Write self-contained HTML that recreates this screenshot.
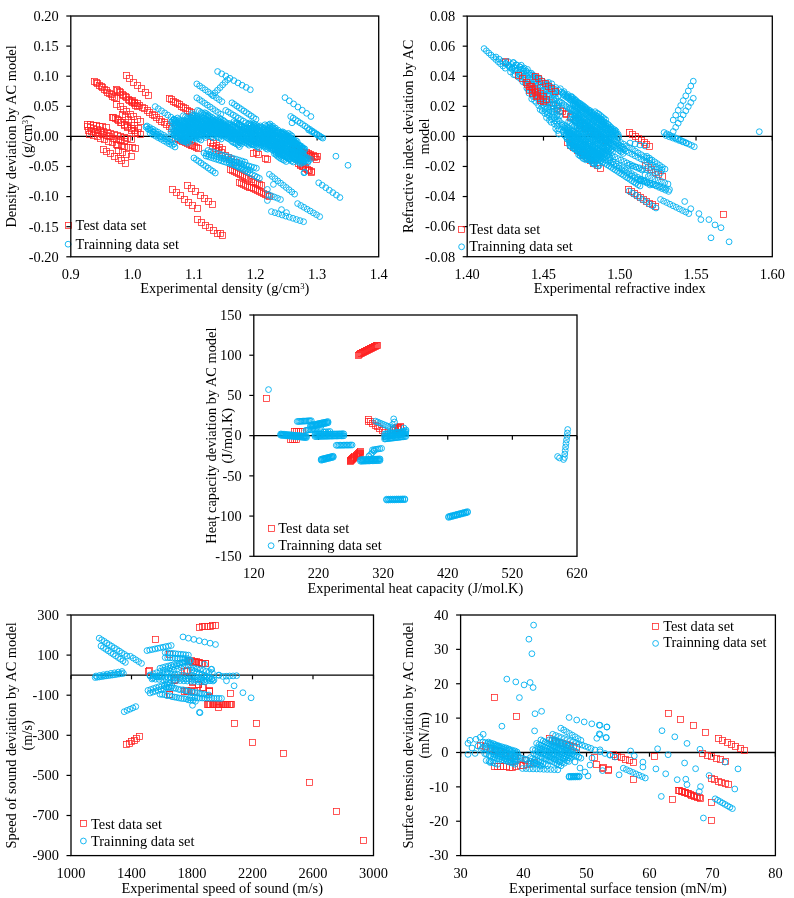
<!DOCTYPE html>
<html><head><meta charset="utf-8"><style>
html,body{margin:0;padding:0;background:#fff;}
svg{display:block;will-change:transform;}
text{font-family:"Liberation Serif", serif;font-size:14.4px;fill:#000;}
</style></head><body>
<svg width="794" height="898" viewBox="0 0 794 898">
<rect width="794" height="898" fill="#fff"/>
<line x1="70.8" y1="136.40" x2="378.7" y2="136.40" stroke="#000" stroke-width="1.3"/>
<line x1="70.80" y1="136.40" x2="70.80" y2="140.60" stroke="#000" stroke-width="1.2"/>
<text x="70.80" y="278.90" text-anchor="middle">0.9</text>
<line x1="132.38" y1="136.40" x2="132.38" y2="140.60" stroke="#000" stroke-width="1.2"/>
<text x="132.38" y="278.90" text-anchor="middle">1.0</text>
<line x1="193.96" y1="136.40" x2="193.96" y2="140.60" stroke="#000" stroke-width="1.2"/>
<text x="193.96" y="278.90" text-anchor="middle">1.1</text>
<line x1="255.54" y1="136.40" x2="255.54" y2="140.60" stroke="#000" stroke-width="1.2"/>
<text x="255.54" y="278.90" text-anchor="middle">1.2</text>
<line x1="317.12" y1="136.40" x2="317.12" y2="140.60" stroke="#000" stroke-width="1.2"/>
<text x="317.12" y="278.90" text-anchor="middle">1.3</text>
<line x1="378.70" y1="136.40" x2="378.70" y2="140.60" stroke="#000" stroke-width="1.2"/>
<text x="378.70" y="278.90" text-anchor="middle">1.4</text>
<line x1="66.30" y1="256.80" x2="70.80" y2="256.80" stroke="#000" stroke-width="1.2"/>
<text x="58.70" y="261.60" text-anchor="end">-0.20</text>
<line x1="66.30" y1="226.70" x2="70.80" y2="226.70" stroke="#000" stroke-width="1.2"/>
<text x="58.70" y="231.50" text-anchor="end">-0.15</text>
<line x1="66.30" y1="196.60" x2="70.80" y2="196.60" stroke="#000" stroke-width="1.2"/>
<text x="58.70" y="201.40" text-anchor="end">-0.10</text>
<line x1="66.30" y1="166.50" x2="70.80" y2="166.50" stroke="#000" stroke-width="1.2"/>
<text x="58.70" y="171.30" text-anchor="end">-0.05</text>
<line x1="66.30" y1="136.40" x2="70.80" y2="136.40" stroke="#000" stroke-width="1.2"/>
<text x="58.70" y="141.20" text-anchor="end">0.00</text>
<line x1="66.30" y1="106.30" x2="70.80" y2="106.30" stroke="#000" stroke-width="1.2"/>
<text x="58.70" y="111.10" text-anchor="end">0.05</text>
<line x1="66.30" y1="76.20" x2="70.80" y2="76.20" stroke="#000" stroke-width="1.2"/>
<text x="58.70" y="81.00" text-anchor="end">0.10</text>
<line x1="66.30" y1="46.10" x2="70.80" y2="46.10" stroke="#000" stroke-width="1.2"/>
<text x="58.70" y="50.90" text-anchor="end">0.15</text>
<line x1="66.30" y1="16.00" x2="70.80" y2="16.00" stroke="#000" stroke-width="1.2"/>
<text x="58.70" y="20.80" text-anchor="end">0.20</text>
<line x1="467.2" y1="136.40" x2="772.3" y2="136.40" stroke="#000" stroke-width="1.3"/>
<line x1="467.20" y1="136.40" x2="467.20" y2="140.60" stroke="#000" stroke-width="1.2"/>
<text x="467.20" y="278.80" text-anchor="middle">1.40</text>
<line x1="543.48" y1="136.40" x2="543.48" y2="140.60" stroke="#000" stroke-width="1.2"/>
<text x="543.48" y="278.80" text-anchor="middle">1.45</text>
<line x1="619.75" y1="136.40" x2="619.75" y2="140.60" stroke="#000" stroke-width="1.2"/>
<text x="619.75" y="278.80" text-anchor="middle">1.50</text>
<line x1="696.02" y1="136.40" x2="696.02" y2="140.60" stroke="#000" stroke-width="1.2"/>
<text x="696.02" y="278.80" text-anchor="middle">1.55</text>
<line x1="772.30" y1="136.40" x2="772.30" y2="140.60" stroke="#000" stroke-width="1.2"/>
<text x="772.30" y="278.80" text-anchor="middle">1.60</text>
<line x1="462.70" y1="256.70" x2="467.20" y2="256.70" stroke="#000" stroke-width="1.2"/>
<text x="455.10" y="261.50" text-anchor="end">-0.08</text>
<line x1="462.70" y1="226.62" x2="467.20" y2="226.62" stroke="#000" stroke-width="1.2"/>
<text x="455.10" y="231.42" text-anchor="end">-0.06</text>
<line x1="462.70" y1="196.55" x2="467.20" y2="196.55" stroke="#000" stroke-width="1.2"/>
<text x="455.10" y="201.35" text-anchor="end">-0.04</text>
<line x1="462.70" y1="166.47" x2="467.20" y2="166.47" stroke="#000" stroke-width="1.2"/>
<text x="455.10" y="171.28" text-anchor="end">-0.02</text>
<line x1="462.70" y1="136.40" x2="467.20" y2="136.40" stroke="#000" stroke-width="1.2"/>
<text x="455.10" y="141.20" text-anchor="end">0.00</text>
<line x1="462.70" y1="106.32" x2="467.20" y2="106.32" stroke="#000" stroke-width="1.2"/>
<text x="455.10" y="111.12" text-anchor="end">0.02</text>
<line x1="462.70" y1="76.25" x2="467.20" y2="76.25" stroke="#000" stroke-width="1.2"/>
<text x="455.10" y="81.05" text-anchor="end">0.04</text>
<line x1="462.70" y1="46.17" x2="467.20" y2="46.17" stroke="#000" stroke-width="1.2"/>
<text x="455.10" y="50.97" text-anchor="end">0.06</text>
<line x1="462.70" y1="16.10" x2="467.20" y2="16.10" stroke="#000" stroke-width="1.2"/>
<text x="455.10" y="20.90" text-anchor="end">0.08</text>
<line x1="253.8" y1="435.65" x2="577.0" y2="435.65" stroke="#000" stroke-width="1.3"/>
<line x1="253.80" y1="435.65" x2="253.80" y2="439.85" stroke="#000" stroke-width="1.2"/>
<text x="253.80" y="578.40" text-anchor="middle">120</text>
<line x1="318.44" y1="435.65" x2="318.44" y2="439.85" stroke="#000" stroke-width="1.2"/>
<text x="318.44" y="578.40" text-anchor="middle">220</text>
<line x1="383.08" y1="435.65" x2="383.08" y2="439.85" stroke="#000" stroke-width="1.2"/>
<text x="383.08" y="578.40" text-anchor="middle">320</text>
<line x1="447.72" y1="435.65" x2="447.72" y2="439.85" stroke="#000" stroke-width="1.2"/>
<text x="447.72" y="578.40" text-anchor="middle">420</text>
<line x1="512.36" y1="435.65" x2="512.36" y2="439.85" stroke="#000" stroke-width="1.2"/>
<text x="512.36" y="578.40" text-anchor="middle">520</text>
<line x1="577.00" y1="435.65" x2="577.00" y2="439.85" stroke="#000" stroke-width="1.2"/>
<text x="577.00" y="578.40" text-anchor="middle">620</text>
<line x1="249.30" y1="556.30" x2="253.80" y2="556.30" stroke="#000" stroke-width="1.2"/>
<text x="241.70" y="561.10" text-anchor="end">-150</text>
<line x1="249.30" y1="516.08" x2="253.80" y2="516.08" stroke="#000" stroke-width="1.2"/>
<text x="241.70" y="520.88" text-anchor="end">-100</text>
<line x1="249.30" y1="475.87" x2="253.80" y2="475.87" stroke="#000" stroke-width="1.2"/>
<text x="241.70" y="480.67" text-anchor="end">-50</text>
<line x1="249.30" y1="435.65" x2="253.80" y2="435.65" stroke="#000" stroke-width="1.2"/>
<text x="241.70" y="440.45" text-anchor="end">0</text>
<line x1="249.30" y1="395.43" x2="253.80" y2="395.43" stroke="#000" stroke-width="1.2"/>
<text x="241.70" y="400.23" text-anchor="end">50</text>
<line x1="249.30" y1="355.22" x2="253.80" y2="355.22" stroke="#000" stroke-width="1.2"/>
<text x="241.70" y="360.02" text-anchor="end">100</text>
<line x1="249.30" y1="315.00" x2="253.80" y2="315.00" stroke="#000" stroke-width="1.2"/>
<text x="241.70" y="319.80" text-anchor="end">150</text>
<line x1="71.0" y1="675.15" x2="373.5" y2="675.15" stroke="#000" stroke-width="1.3"/>
<line x1="71.00" y1="675.15" x2="71.00" y2="679.35" stroke="#000" stroke-width="1.2"/>
<text x="71.00" y="877.70" text-anchor="middle">1000</text>
<line x1="131.50" y1="675.15" x2="131.50" y2="679.35" stroke="#000" stroke-width="1.2"/>
<text x="131.50" y="877.70" text-anchor="middle">1400</text>
<line x1="192.00" y1="675.15" x2="192.00" y2="679.35" stroke="#000" stroke-width="1.2"/>
<text x="192.00" y="877.70" text-anchor="middle">1800</text>
<line x1="252.50" y1="675.15" x2="252.50" y2="679.35" stroke="#000" stroke-width="1.2"/>
<text x="252.50" y="877.70" text-anchor="middle">2200</text>
<line x1="313.00" y1="675.15" x2="313.00" y2="679.35" stroke="#000" stroke-width="1.2"/>
<text x="313.00" y="877.70" text-anchor="middle">2600</text>
<line x1="373.50" y1="675.15" x2="373.50" y2="679.35" stroke="#000" stroke-width="1.2"/>
<text x="373.50" y="877.70" text-anchor="middle">3000</text>
<line x1="66.50" y1="855.60" x2="71.00" y2="855.60" stroke="#000" stroke-width="1.2"/>
<text x="58.90" y="860.40" text-anchor="end">-900</text>
<line x1="66.50" y1="815.50" x2="71.00" y2="815.50" stroke="#000" stroke-width="1.2"/>
<text x="58.90" y="820.30" text-anchor="end">-700</text>
<line x1="66.50" y1="775.40" x2="71.00" y2="775.40" stroke="#000" stroke-width="1.2"/>
<text x="58.90" y="780.20" text-anchor="end">-500</text>
<line x1="66.50" y1="735.30" x2="71.00" y2="735.30" stroke="#000" stroke-width="1.2"/>
<text x="58.90" y="740.10" text-anchor="end">-300</text>
<line x1="66.50" y1="695.20" x2="71.00" y2="695.20" stroke="#000" stroke-width="1.2"/>
<text x="58.90" y="700.00" text-anchor="end">-100</text>
<line x1="66.50" y1="655.10" x2="71.00" y2="655.10" stroke="#000" stroke-width="1.2"/>
<text x="58.90" y="659.90" text-anchor="end">100</text>
<line x1="66.50" y1="615.00" x2="71.00" y2="615.00" stroke="#000" stroke-width="1.2"/>
<text x="58.90" y="619.80" text-anchor="end">300</text>
<line x1="460.6" y1="752.49" x2="775.4" y2="752.49" stroke="#000" stroke-width="1.3"/>
<line x1="460.60" y1="752.49" x2="460.60" y2="756.69" stroke="#000" stroke-width="1.2"/>
<text x="460.60" y="877.70" text-anchor="middle">30</text>
<line x1="523.56" y1="752.49" x2="523.56" y2="756.69" stroke="#000" stroke-width="1.2"/>
<text x="523.56" y="877.70" text-anchor="middle">40</text>
<line x1="586.52" y1="752.49" x2="586.52" y2="756.69" stroke="#000" stroke-width="1.2"/>
<text x="586.52" y="877.70" text-anchor="middle">50</text>
<line x1="649.48" y1="752.49" x2="649.48" y2="756.69" stroke="#000" stroke-width="1.2"/>
<text x="649.48" y="877.70" text-anchor="middle">60</text>
<line x1="712.44" y1="752.49" x2="712.44" y2="756.69" stroke="#000" stroke-width="1.2"/>
<text x="712.44" y="877.70" text-anchor="middle">70</text>
<line x1="775.40" y1="752.49" x2="775.40" y2="756.69" stroke="#000" stroke-width="1.2"/>
<text x="775.40" y="877.70" text-anchor="middle">80</text>
<line x1="456.10" y1="855.60" x2="460.60" y2="855.60" stroke="#000" stroke-width="1.2"/>
<text x="448.50" y="860.40" text-anchor="end">-30</text>
<line x1="456.10" y1="821.23" x2="460.60" y2="821.23" stroke="#000" stroke-width="1.2"/>
<text x="448.50" y="826.03" text-anchor="end">-20</text>
<line x1="456.10" y1="786.86" x2="460.60" y2="786.86" stroke="#000" stroke-width="1.2"/>
<text x="448.50" y="791.66" text-anchor="end">-10</text>
<line x1="456.10" y1="752.49" x2="460.60" y2="752.49" stroke="#000" stroke-width="1.2"/>
<text x="448.50" y="757.29" text-anchor="end">0</text>
<line x1="456.10" y1="718.11" x2="460.60" y2="718.11" stroke="#000" stroke-width="1.2"/>
<text x="448.50" y="722.91" text-anchor="end">10</text>
<line x1="456.10" y1="683.74" x2="460.60" y2="683.74" stroke="#000" stroke-width="1.2"/>
<text x="448.50" y="688.54" text-anchor="end">20</text>
<line x1="456.10" y1="649.37" x2="460.60" y2="649.37" stroke="#000" stroke-width="1.2"/>
<text x="448.50" y="654.17" text-anchor="end">30</text>
<line x1="456.10" y1="615.00" x2="460.60" y2="615.00" stroke="#000" stroke-width="1.2"/>
<text x="448.50" y="619.80" text-anchor="end">40</text>
<g fill="none" stroke="#ff2020" stroke-width="0.75"><rect x="91.5" y="78.5" width="6" height="6"/><rect x="93.5" y="79.5" width="6" height="6"/><rect x="94.5" y="80.5" width="6" height="6"/><rect x="96.5" y="82.5" width="6" height="6"/><rect x="98.5" y="83.5" width="6" height="6"/><rect x="99.5" y="84.5" width="6" height="6"/><rect x="101.5" y="86.5" width="6" height="6"/><rect x="103.5" y="87.5" width="6" height="6"/><rect x="104.5" y="89.5" width="6" height="6"/><rect x="106.5" y="90.5" width="6" height="6"/><rect x="108.5" y="91.5" width="6" height="6"/><rect x="109.5" y="93.5" width="6" height="6"/><rect x="111.5" y="94.5" width="6" height="6"/><rect x="113.5" y="95.5" width="6" height="6"/><rect x="113.5" y="86.5" width="6" height="6"/><rect x="114.5" y="87.5" width="6" height="6"/><rect x="116.5" y="88.5" width="6" height="6"/><rect x="117.5" y="89.5" width="6" height="6"/><rect x="119.5" y="91.5" width="6" height="6"/><rect x="120.5" y="92.5" width="6" height="6"/><rect x="122.5" y="93.5" width="6" height="6"/><rect x="123.5" y="94.5" width="6" height="6"/><rect x="125.5" y="96.5" width="6" height="6"/><rect x="126.5" y="97.5" width="6" height="6"/><rect x="128.5" y="98.5" width="6" height="6"/><rect x="129.5" y="99.5" width="6" height="6"/><rect x="131.5" y="100.5" width="6" height="6"/><rect x="132.5" y="102.5" width="6" height="6"/><rect x="134.5" y="103.5" width="6" height="6"/><rect x="123.5" y="72.5" width="6" height="6"/><rect x="126.5" y="75.5" width="6" height="6"/><rect x="130.5" y="79.5" width="6" height="6"/><rect x="134.5" y="82.5" width="6" height="6"/><rect x="138.5" y="85.5" width="6" height="6"/><rect x="142.5" y="89.5" width="6" height="6"/><rect x="145.5" y="92.5" width="6" height="6"/><rect x="113.5" y="101.5" width="6" height="6"/><rect x="117.5" y="103.5" width="6" height="6"/><rect x="120.5" y="106.5" width="6" height="6"/><rect x="123.5" y="108.5" width="6" height="6"/><rect x="127.5" y="111.5" width="6" height="6"/><rect x="130.5" y="113.5" width="6" height="6"/><rect x="134.5" y="116.5" width="6" height="6"/><rect x="137.5" y="118.5" width="6" height="6"/><rect x="110.5" y="114.5" width="6" height="6"/><rect x="114.5" y="116.5" width="6" height="6"/><rect x="117.5" y="119.5" width="6" height="6"/><rect x="121.5" y="122.5" width="6" height="6"/><rect x="124.5" y="124.5" width="6" height="6"/><rect x="128.5" y="127.5" width="6" height="6"/><rect x="132.5" y="130.5" width="6" height="6"/><rect x="129.5" y="97.5" width="6" height="6"/><rect x="131.5" y="99.5" width="6" height="6"/><rect x="134.5" y="100.5" width="6" height="6"/><rect x="136.5" y="102.5" width="6" height="6"/><rect x="139.5" y="104.5" width="6" height="6"/><rect x="141.5" y="105.5" width="6" height="6"/><rect x="144.5" y="107.5" width="6" height="6"/><rect x="146.5" y="109.5" width="6" height="6"/><rect x="149.5" y="111.5" width="6" height="6"/><rect x="151.5" y="112.5" width="6" height="6"/><rect x="153.5" y="114.5" width="6" height="6"/><rect x="156.5" y="116.5" width="6" height="6"/><rect x="158.5" y="118.5" width="6" height="6"/><rect x="161.5" y="119.5" width="6" height="6"/><rect x="163.5" y="121.5" width="6" height="6"/><rect x="166.5" y="123.5" width="6" height="6"/><rect x="168.5" y="125.5" width="6" height="6"/><rect x="166.5" y="95.5" width="6" height="6"/><rect x="168.5" y="96.5" width="6" height="6"/><rect x="170.5" y="98.5" width="6" height="6"/><rect x="172.5" y="99.5" width="6" height="6"/><rect x="174.5" y="100.5" width="6" height="6"/><rect x="176.5" y="101.5" width="6" height="6"/><rect x="178.5" y="103.5" width="6" height="6"/><rect x="180.5" y="104.5" width="6" height="6"/><rect x="182.5" y="105.5" width="6" height="6"/><rect x="184.5" y="107.5" width="6" height="6"/><rect x="186.5" y="108.5" width="6" height="6"/><rect x="188.5" y="109.5" width="6" height="6"/><rect x="109.5" y="114.5" width="6" height="6"/><rect x="112.5" y="115.5" width="6" height="6"/><rect x="115.5" y="117.5" width="6" height="6"/><rect x="118.5" y="119.5" width="6" height="6"/><rect x="121.5" y="121.5" width="6" height="6"/><rect x="124.5" y="123.5" width="6" height="6"/><rect x="128.5" y="125.5" width="6" height="6"/><rect x="131.5" y="127.5" width="6" height="6"/><rect x="134.5" y="129.5" width="6" height="6"/><rect x="137.5" y="131.5" width="6" height="6"/><rect x="119.5" y="111.5" width="6" height="6"/><rect x="122.5" y="113.5" width="6" height="6"/><rect x="125.5" y="116.5" width="6" height="6"/><rect x="128.5" y="119.5" width="6" height="6"/><rect x="131.5" y="122.5" width="6" height="6"/><rect x="135.5" y="125.5" width="6" height="6"/><rect x="84.5" y="121.5" width="6" height="6"/><rect x="87.5" y="121.5" width="6" height="6"/><rect x="90.5" y="122.5" width="6" height="6"/><rect x="93.5" y="122.5" width="6" height="6"/><rect x="96.5" y="123.5" width="6" height="6"/><rect x="99.5" y="123.5" width="6" height="6"/><rect x="103.5" y="124.5" width="6" height="6"/><rect x="84.5" y="123.5" width="6" height="6"/><rect x="87.5" y="124.5" width="6" height="6"/><rect x="90.5" y="125.5" width="6" height="6"/><rect x="94.5" y="126.5" width="6" height="6"/><rect x="97.5" y="127.5" width="6" height="6"/><rect x="100.5" y="128.5" width="6" height="6"/><rect x="104.5" y="129.5" width="6" height="6"/><rect x="107.5" y="130.5" width="6" height="6"/><rect x="111.5" y="131.5" width="6" height="6"/><rect x="114.5" y="132.5" width="6" height="6"/><rect x="117.5" y="133.5" width="6" height="6"/><rect x="121.5" y="134.5" width="6" height="6"/><rect x="124.5" y="135.5" width="6" height="6"/><rect x="128.5" y="136.5" width="6" height="6"/><rect x="85.5" y="127.5" width="6" height="6"/><rect x="88.5" y="128.5" width="6" height="6"/><rect x="92.5" y="129.5" width="6" height="6"/><rect x="95.5" y="130.5" width="6" height="6"/><rect x="99.5" y="131.5" width="6" height="6"/><rect x="103.5" y="132.5" width="6" height="6"/><rect x="106.5" y="133.5" width="6" height="6"/><rect x="110.5" y="135.5" width="6" height="6"/><rect x="113.5" y="136.5" width="6" height="6"/><rect x="117.5" y="137.5" width="6" height="6"/><rect x="121.5" y="138.5" width="6" height="6"/><rect x="86.5" y="131.5" width="6" height="6"/><rect x="90.5" y="132.5" width="6" height="6"/><rect x="94.5" y="133.5" width="6" height="6"/><rect x="97.5" y="135.5" width="6" height="6"/><rect x="101.5" y="136.5" width="6" height="6"/><rect x="105.5" y="138.5" width="6" height="6"/><rect x="109.5" y="139.5" width="6" height="6"/><rect x="113.5" y="141.5" width="6" height="6"/><rect x="100.5" y="146.5" width="6" height="6"/><rect x="103.5" y="148.5" width="6" height="6"/><rect x="107.5" y="150.5" width="6" height="6"/><rect x="111.5" y="153.5" width="6" height="6"/><rect x="115.5" y="155.5" width="6" height="6"/><rect x="118.5" y="157.5" width="6" height="6"/><rect x="122.5" y="160.5" width="6" height="6"/><rect x="114.5" y="142.5" width="6" height="6"/><rect x="118.5" y="142.5" width="6" height="6"/><rect x="121.5" y="143.5" width="6" height="6"/><rect x="125.5" y="144.5" width="6" height="6"/><rect x="129.5" y="144.5" width="6" height="6"/><rect x="132.5" y="145.5" width="6" height="6"/><rect x="115.5" y="147.5" width="6" height="6"/><rect x="119.5" y="149.5" width="6" height="6"/><rect x="123.5" y="151.5" width="6" height="6"/><rect x="128.5" y="153.5" width="6" height="6"/><rect x="227.5" y="166.5" width="6" height="6"/><rect x="229.5" y="167.5" width="6" height="6"/><rect x="231.5" y="168.5" width="6" height="6"/><rect x="233.5" y="169.5" width="6" height="6"/><rect x="235.5" y="170.5" width="6" height="6"/><rect x="237.5" y="171.5" width="6" height="6"/><rect x="239.5" y="172.5" width="6" height="6"/><rect x="241.5" y="173.5" width="6" height="6"/><rect x="243.5" y="174.5" width="6" height="6"/><rect x="245.5" y="175.5" width="6" height="6"/><rect x="248.5" y="176.5" width="6" height="6"/><rect x="250.5" y="178.5" width="6" height="6"/><rect x="252.5" y="179.5" width="6" height="6"/><rect x="254.5" y="180.5" width="6" height="6"/><rect x="256.5" y="181.5" width="6" height="6"/><rect x="258.5" y="182.5" width="6" height="6"/><rect x="236.5" y="179.5" width="6" height="6"/><rect x="238.5" y="180.5" width="6" height="6"/><rect x="240.5" y="181.5" width="6" height="6"/><rect x="242.5" y="182.5" width="6" height="6"/><rect x="244.5" y="183.5" width="6" height="6"/><rect x="246.5" y="184.5" width="6" height="6"/><rect x="248.5" y="184.5" width="6" height="6"/><rect x="250.5" y="185.5" width="6" height="6"/><rect x="252.5" y="186.5" width="6" height="6"/><rect x="254.5" y="187.5" width="6" height="6"/><rect x="256.5" y="188.5" width="6" height="6"/><rect x="258.5" y="189.5" width="6" height="6"/><rect x="260.5" y="190.5" width="6" height="6"/><rect x="262.5" y="191.5" width="6" height="6"/><rect x="264.5" y="192.5" width="6" height="6"/><rect x="266.5" y="193.5" width="6" height="6"/><rect x="207.5" y="139.5" width="6" height="6"/><rect x="210.5" y="140.5" width="6" height="6"/><rect x="213.5" y="142.5" width="6" height="6"/><rect x="216.5" y="144.5" width="6" height="6"/><rect x="219.5" y="146.5" width="6" height="6"/><rect x="209.5" y="143.5" width="6" height="6"/><rect x="212.5" y="145.5" width="6" height="6"/><rect x="215.5" y="147.5" width="6" height="6"/><rect x="218.5" y="149.5" width="6" height="6"/><rect x="222.5" y="152.5" width="6" height="6"/><rect x="225.5" y="154.5" width="6" height="6"/><rect x="228.5" y="156.5" width="6" height="6"/><rect x="232.5" y="159.5" width="6" height="6"/><rect x="172.5" y="135.5" width="6" height="6"/><rect x="174.5" y="135.5" width="6" height="6"/><rect x="175.5" y="136.5" width="6" height="6"/><rect x="177.5" y="137.5" width="6" height="6"/><rect x="179.5" y="138.5" width="6" height="6"/><rect x="181.5" y="138.5" width="6" height="6"/><rect x="182.5" y="139.5" width="6" height="6"/><rect x="184.5" y="140.5" width="6" height="6"/><rect x="186.5" y="141.5" width="6" height="6"/><rect x="188.5" y="142.5" width="6" height="6"/><rect x="189.5" y="142.5" width="6" height="6"/><rect x="191.5" y="143.5" width="6" height="6"/><rect x="193.5" y="144.5" width="6" height="6"/><rect x="195.5" y="145.5" width="6" height="6"/><rect x="250.5" y="150.5" width="6" height="6"/><rect x="264.5" y="156.5" width="6" height="6"/><rect x="253.5" y="149.5" width="6" height="6"/><rect x="255.5" y="151.5" width="6" height="6"/><rect x="262.5" y="155.5" width="6" height="6"/><rect x="289.5" y="145.5" width="6" height="6"/><rect x="291.5" y="145.5" width="6" height="6"/><rect x="294.5" y="146.5" width="6" height="6"/><rect x="296.5" y="147.5" width="6" height="6"/><rect x="298.5" y="148.5" width="6" height="6"/><rect x="301.5" y="149.5" width="6" height="6"/><rect x="303.5" y="149.5" width="6" height="6"/><rect x="305.5" y="150.5" width="6" height="6"/><rect x="307.5" y="151.5" width="6" height="6"/><rect x="310.5" y="152.5" width="6" height="6"/><rect x="312.5" y="153.5" width="6" height="6"/><rect x="314.5" y="153.5" width="6" height="6"/><rect x="291.5" y="145.5" width="6" height="6"/><rect x="293.5" y="147.5" width="6" height="6"/><rect x="296.5" y="148.5" width="6" height="6"/><rect x="298.5" y="149.5" width="6" height="6"/><rect x="301.5" y="150.5" width="6" height="6"/><rect x="303.5" y="151.5" width="6" height="6"/><rect x="306.5" y="152.5" width="6" height="6"/><rect x="308.5" y="153.5" width="6" height="6"/><rect x="311.5" y="154.5" width="6" height="6"/><rect x="313.5" y="156.5" width="6" height="6"/><rect x="295.5" y="160.5" width="6" height="6"/><rect x="297.5" y="161.5" width="6" height="6"/><rect x="299.5" y="163.5" width="6" height="6"/><rect x="302.5" y="164.5" width="6" height="6"/><rect x="304.5" y="166.5" width="6" height="6"/><rect x="306.5" y="167.5" width="6" height="6"/><rect x="308.5" y="169.5" width="6" height="6"/><rect x="297.5" y="162.5" width="6" height="6"/><rect x="300.5" y="163.5" width="6" height="6"/><rect x="302.5" y="165.5" width="6" height="6"/><rect x="305.5" y="167.5" width="6" height="6"/><rect x="308.5" y="168.5" width="6" height="6"/><rect x="169.5" y="186.5" width="6" height="6"/><rect x="173.5" y="189.5" width="6" height="6"/><rect x="177.5" y="192.5" width="6" height="6"/><rect x="181.5" y="196.5" width="6" height="6"/><rect x="185.5" y="199.5" width="6" height="6"/><rect x="189.5" y="202.5" width="6" height="6"/><rect x="194.5" y="205.5" width="6" height="6"/><rect x="184.5" y="182.5" width="6" height="6"/><rect x="188.5" y="185.5" width="6" height="6"/><rect x="192.5" y="188.5" width="6" height="6"/><rect x="197.5" y="192.5" width="6" height="6"/><rect x="201.5" y="195.5" width="6" height="6"/><rect x="205.5" y="198.5" width="6" height="6"/><rect x="209.5" y="201.5" width="6" height="6"/><rect x="194.5" y="216.5" width="6" height="6"/><rect x="198.5" y="219.5" width="6" height="6"/><rect x="202.5" y="222.5" width="6" height="6"/><rect x="206.5" y="224.5" width="6" height="6"/><rect x="210.5" y="227.5" width="6" height="6"/><rect x="214.5" y="230.5" width="6" height="6"/><rect x="219.5" y="232.5" width="6" height="6"/><rect x="217.5" y="230.5" width="6" height="6"/></g>
<g fill="none" stroke="#00b0f0" stroke-width="0.9"><circle cx="217.6" cy="71.5" r="2.9"/><circle cx="221.7" cy="73.8" r="2.9"/><circle cx="225.8" cy="76.0" r="2.9"/><circle cx="229.9" cy="78.3" r="2.9"/><circle cx="233.9" cy="80.6" r="2.9"/><circle cx="238.0" cy="82.9" r="2.9"/><circle cx="242.1" cy="85.2" r="2.9"/><circle cx="246.2" cy="87.4" r="2.9"/><circle cx="250.3" cy="89.7" r="2.9"/><circle cx="227.6" cy="79.7" r="2.9"/><circle cx="225.1" cy="82.3" r="2.9"/><circle cx="222.6" cy="84.9" r="2.9"/><circle cx="220.1" cy="87.6" r="2.9"/><circle cx="217.5" cy="90.2" r="2.9"/><circle cx="215.0" cy="92.8" r="2.9"/><circle cx="212.5" cy="95.4" r="2.9"/><circle cx="196.8" cy="83.9" r="2.9"/><circle cx="199.6" cy="85.9" r="2.9"/><circle cx="202.4" cy="87.8" r="2.9"/><circle cx="205.2" cy="89.8" r="2.9"/><circle cx="208.0" cy="91.8" r="2.9"/><circle cx="210.7" cy="93.7" r="2.9"/><circle cx="213.5" cy="95.7" r="2.9"/><circle cx="216.3" cy="97.7" r="2.9"/><circle cx="219.1" cy="99.6" r="2.9"/><circle cx="221.9" cy="101.6" r="2.9"/><circle cx="196.8" cy="97.8" r="2.9"/><circle cx="199.5" cy="99.6" r="2.9"/><circle cx="202.1" cy="101.4" r="2.9"/><circle cx="204.8" cy="103.3" r="2.9"/><circle cx="207.4" cy="105.1" r="2.9"/><circle cx="210.1" cy="106.9" r="2.9"/><circle cx="212.7" cy="108.7" r="2.9"/><circle cx="215.4" cy="110.6" r="2.9"/><circle cx="218.0" cy="112.4" r="2.9"/><circle cx="220.7" cy="114.2" r="2.9"/><circle cx="232.0" cy="102.8" r="2.9"/><circle cx="234.4" cy="104.4" r="2.9"/><circle cx="236.8" cy="106.1" r="2.9"/><circle cx="239.2" cy="107.7" r="2.9"/><circle cx="241.6" cy="109.4" r="2.9"/><circle cx="244.0" cy="111.0" r="2.9"/><circle cx="246.4" cy="112.6" r="2.9"/><circle cx="248.8" cy="114.3" r="2.9"/><circle cx="251.2" cy="115.9" r="2.9"/><circle cx="253.6" cy="117.6" r="2.9"/><circle cx="256.0" cy="119.2" r="2.9"/><circle cx="225.7" cy="110.4" r="2.9"/><circle cx="228.2" cy="111.9" r="2.9"/><circle cx="230.7" cy="113.5" r="2.9"/><circle cx="233.3" cy="115.0" r="2.9"/><circle cx="235.8" cy="116.5" r="2.9"/><circle cx="238.3" cy="118.1" r="2.9"/><circle cx="240.8" cy="119.6" r="2.9"/><circle cx="243.4" cy="121.1" r="2.9"/><circle cx="245.9" cy="122.7" r="2.9"/><circle cx="248.4" cy="124.2" r="2.9"/><circle cx="285.0" cy="97.6" r="2.9"/><circle cx="289.3" cy="100.8" r="2.9"/><circle cx="293.6" cy="103.9" r="2.9"/><circle cx="297.9" cy="107.0" r="2.9"/><circle cx="302.3" cy="110.2" r="2.9"/><circle cx="306.6" cy="113.3" r="2.9"/><circle cx="310.9" cy="116.5" r="2.9"/><circle cx="290.7" cy="116.5" r="2.9"/><circle cx="293.1" cy="118.1" r="2.9"/><circle cx="295.5" cy="119.7" r="2.9"/><circle cx="297.8" cy="121.3" r="2.9"/><circle cx="300.2" cy="122.9" r="2.9"/><circle cx="302.6" cy="124.5" r="2.9"/><circle cx="305.0" cy="126.1" r="2.9"/><circle cx="307.3" cy="127.7" r="2.9"/><circle cx="309.7" cy="129.3" r="2.9"/><circle cx="312.1" cy="130.9" r="2.9"/><circle cx="314.5" cy="132.5" r="2.9"/><circle cx="316.8" cy="134.1" r="2.9"/><circle cx="319.2" cy="135.7" r="2.9"/><circle cx="321.6" cy="137.3" r="2.9"/><circle cx="292.0" cy="122.8" r="2.9"/><circle cx="155.2" cy="106.6" r="2.9"/><circle cx="158.3" cy="108.7" r="2.9"/><circle cx="161.5" cy="110.8" r="2.9"/><circle cx="164.6" cy="112.9" r="2.9"/><circle cx="167.7" cy="115.0" r="2.9"/><circle cx="170.9" cy="117.1" r="2.9"/><circle cx="174.0" cy="119.2" r="2.9"/><circle cx="193.9" cy="158.0" r="2.9"/><circle cx="196.3" cy="159.7" r="2.9"/><circle cx="198.7" cy="161.3" r="2.9"/><circle cx="201.0" cy="163.0" r="2.9"/><circle cx="203.4" cy="164.7" r="2.9"/><circle cx="205.8" cy="166.3" r="2.9"/><circle cx="208.2" cy="168.0" r="2.9"/><circle cx="210.5" cy="169.7" r="2.9"/><circle cx="212.9" cy="171.3" r="2.9"/><circle cx="215.3" cy="173.0" r="2.9"/><circle cx="269.4" cy="174.3" r="2.9"/><circle cx="272.2" cy="176.5" r="2.9"/><circle cx="275.0" cy="178.7" r="2.9"/><circle cx="277.8" cy="180.9" r="2.9"/><circle cx="280.6" cy="183.1" r="2.9"/><circle cx="283.4" cy="185.3" r="2.9"/><circle cx="286.2" cy="187.5" r="2.9"/><circle cx="289.0" cy="189.7" r="2.9"/><circle cx="291.8" cy="191.9" r="2.9"/><circle cx="294.6" cy="194.1" r="2.9"/><circle cx="273.4" cy="184.4" r="2.9"/><circle cx="267.4" cy="189.4" r="2.9"/><circle cx="267.4" cy="200.5" r="2.9"/><circle cx="304.0" cy="172.8" r="2.9"/><circle cx="304.6" cy="172.3" r="2.9"/><circle cx="268.4" cy="194.5" r="2.9"/><circle cx="271.4" cy="195.8" r="2.9"/><circle cx="274.4" cy="197.0" r="2.9"/><circle cx="277.5" cy="198.2" r="2.9"/><circle cx="280.5" cy="199.5" r="2.9"/><circle cx="318.7" cy="182.8" r="2.9"/><circle cx="322.2" cy="185.2" r="2.9"/><circle cx="325.8" cy="187.7" r="2.9"/><circle cx="329.3" cy="190.2" r="2.9"/><circle cx="332.8" cy="192.6" r="2.9"/><circle cx="336.4" cy="195.1" r="2.9"/><circle cx="339.9" cy="197.5" r="2.9"/><circle cx="335.9" cy="156.2" r="2.9"/><circle cx="348.0" cy="165.3" r="2.9"/><circle cx="297.6" cy="203.6" r="2.9"/><circle cx="300.8" cy="205.5" r="2.9"/><circle cx="303.9" cy="207.3" r="2.9"/><circle cx="307.1" cy="209.2" r="2.9"/><circle cx="310.2" cy="211.0" r="2.9"/><circle cx="313.4" cy="212.9" r="2.9"/><circle cx="316.5" cy="214.7" r="2.9"/><circle cx="319.7" cy="216.6" r="2.9"/><circle cx="271.4" cy="211.6" r="2.9"/><circle cx="275.0" cy="212.7" r="2.9"/><circle cx="278.6" cy="213.8" r="2.9"/><circle cx="282.1" cy="215.0" r="2.9"/><circle cx="285.7" cy="216.1" r="2.9"/><circle cx="289.3" cy="217.2" r="2.9"/><circle cx="292.9" cy="218.3" r="2.9"/><circle cx="296.4" cy="219.5" r="2.9"/><circle cx="300.0" cy="220.6" r="2.9"/><circle cx="303.6" cy="221.7" r="2.9"/><circle cx="281.5" cy="209.6" r="2.9"/><circle cx="286.5" cy="212.6" r="2.9"/><circle cx="308.7" cy="130.0" r="2.9"/><circle cx="311.5" cy="131.6" r="2.9"/><circle cx="314.3" cy="133.2" r="2.9"/><circle cx="317.2" cy="134.9" r="2.9"/><circle cx="320.0" cy="136.5" r="2.9"/><circle cx="322.8" cy="138.1" r="2.9"/><circle cx="147.0" cy="126.0" r="2.9"/><circle cx="149.8" cy="127.6" r="2.9"/><circle cx="152.6" cy="129.1" r="2.9"/><circle cx="155.3" cy="130.7" r="2.9"/><circle cx="158.1" cy="132.2" r="2.9"/><circle cx="160.9" cy="133.8" r="2.9"/><circle cx="163.7" cy="135.3" r="2.9"/><circle cx="166.4" cy="136.9" r="2.9"/><circle cx="169.2" cy="138.4" r="2.9"/><circle cx="172.0" cy="140.0" r="2.9"/><circle cx="148.0" cy="129.0" r="2.9"/><circle cx="150.9" cy="130.7" r="2.9"/><circle cx="153.8" cy="132.3" r="2.9"/><circle cx="156.7" cy="134.0" r="2.9"/><circle cx="159.6" cy="135.7" r="2.9"/><circle cx="162.4" cy="137.3" r="2.9"/><circle cx="165.3" cy="139.0" r="2.9"/><circle cx="168.2" cy="140.7" r="2.9"/><circle cx="171.1" cy="142.3" r="2.9"/><circle cx="174.0" cy="144.0" r="2.9"/><circle cx="150.0" cy="133.0" r="2.9"/><circle cx="152.8" cy="134.6" r="2.9"/><circle cx="155.6" cy="136.1" r="2.9"/><circle cx="158.3" cy="137.7" r="2.9"/><circle cx="161.1" cy="139.2" r="2.9"/><circle cx="163.9" cy="140.8" r="2.9"/><circle cx="166.7" cy="142.3" r="2.9"/><circle cx="169.4" cy="143.9" r="2.9"/><circle cx="172.2" cy="145.4" r="2.9"/><circle cx="175.0" cy="147.0" r="2.9"/><circle cx="146.0" cy="127.0" r="2.9"/><circle cx="149.5" cy="129.5" r="2.9"/><circle cx="153.0" cy="132.0" r="2.9"/><circle cx="156.5" cy="134.5" r="2.9"/><circle cx="160.0" cy="137.0" r="2.9"/><circle cx="288.3" cy="133.4" r="2.9"/><circle cx="290.1" cy="134.6" r="2.9"/><circle cx="291.8" cy="135.9" r="2.9"/><circle cx="282.5" cy="131.8" r="2.9"/><circle cx="284.0" cy="132.7" r="2.9"/><circle cx="285.7" cy="134.0" r="2.9"/><circle cx="287.1" cy="134.9" r="2.9"/><circle cx="289.0" cy="136.5" r="2.9"/><circle cx="290.2" cy="137.5" r="2.9"/><circle cx="292.1" cy="138.3" r="2.9"/><circle cx="293.7" cy="139.8" r="2.9"/><circle cx="295.7" cy="140.5" r="2.9"/><circle cx="297.2" cy="141.6" r="2.9"/><circle cx="282.0" cy="132.9" r="2.9"/><circle cx="283.1" cy="134.2" r="2.9"/><circle cx="284.7" cy="135.1" r="2.9"/><circle cx="286.6" cy="136.5" r="2.9"/><circle cx="288.1" cy="137.3" r="2.9"/><circle cx="290.1" cy="138.5" r="2.9"/><circle cx="291.9" cy="140.0" r="2.9"/><circle cx="293.2" cy="140.9" r="2.9"/><circle cx="294.9" cy="142.1" r="2.9"/><circle cx="296.6" cy="143.2" r="2.9"/><circle cx="298.3" cy="144.5" r="2.9"/><circle cx="299.9" cy="145.4" r="2.9"/><circle cx="301.6" cy="146.4" r="2.9"/><circle cx="303.0" cy="147.9" r="2.9"/><circle cx="304.8" cy="148.8" r="2.9"/><circle cx="268.6" cy="125.0" r="2.9"/><circle cx="270.3" cy="126.4" r="2.9"/><circle cx="272.0" cy="127.4" r="2.9"/><circle cx="273.6" cy="128.8" r="2.9"/><circle cx="274.9" cy="129.5" r="2.9"/><circle cx="276.9" cy="131.2" r="2.9"/><circle cx="278.3" cy="132.0" r="2.9"/><circle cx="280.2" cy="133.0" r="2.9"/><circle cx="281.7" cy="134.2" r="2.9"/><circle cx="283.4" cy="135.5" r="2.9"/><circle cx="285.0" cy="136.5" r="2.9"/><circle cx="286.9" cy="137.4" r="2.9"/><circle cx="288.5" cy="138.9" r="2.9"/><circle cx="290.0" cy="139.7" r="2.9"/><circle cx="291.9" cy="140.9" r="2.9"/><circle cx="293.2" cy="142.1" r="2.9"/><circle cx="295.1" cy="143.0" r="2.9"/><circle cx="296.6" cy="144.3" r="2.9"/><circle cx="298.5" cy="145.5" r="2.9"/><circle cx="300.2" cy="146.5" r="2.9"/><circle cx="301.5" cy="147.9" r="2.9"/><circle cx="303.5" cy="148.9" r="2.9"/><circle cx="265.0" cy="124.8" r="2.9"/><circle cx="266.3" cy="126.3" r="2.9"/><circle cx="268.2" cy="127.4" r="2.9"/><circle cx="269.6" cy="128.1" r="2.9"/><circle cx="271.3" cy="129.6" r="2.9"/><circle cx="272.9" cy="130.5" r="2.9"/><circle cx="274.6" cy="131.7" r="2.9"/><circle cx="276.3" cy="133.1" r="2.9"/><circle cx="277.8" cy="133.7" r="2.9"/><circle cx="279.9" cy="135.3" r="2.9"/><circle cx="281.6" cy="136.2" r="2.9"/><circle cx="283.2" cy="137.6" r="2.9"/><circle cx="284.4" cy="138.6" r="2.9"/><circle cx="286.5" cy="139.7" r="2.9"/><circle cx="287.9" cy="140.6" r="2.9"/><circle cx="289.5" cy="141.7" r="2.9"/><circle cx="291.0" cy="143.0" r="2.9"/><circle cx="292.8" cy="144.3" r="2.9"/><circle cx="294.3" cy="145.4" r="2.9"/><circle cx="296.3" cy="146.6" r="2.9"/><circle cx="298.1" cy="147.7" r="2.9"/><circle cx="299.5" cy="148.3" r="2.9"/><circle cx="268.1" cy="130.2" r="2.9"/><circle cx="269.9" cy="130.9" r="2.9"/><circle cx="271.3" cy="132.4" r="2.9"/><circle cx="273.1" cy="133.4" r="2.9"/><circle cx="274.7" cy="134.2" r="2.9"/><circle cx="276.5" cy="135.7" r="2.9"/><circle cx="277.9" cy="136.8" r="2.9"/><circle cx="280.0" cy="137.9" r="2.9"/><circle cx="281.6" cy="138.6" r="2.9"/><circle cx="283.1" cy="140.2" r="2.9"/><circle cx="284.4" cy="141.0" r="2.9"/><circle cx="286.2" cy="142.3" r="2.9"/><circle cx="288.0" cy="143.4" r="2.9"/><circle cx="289.8" cy="144.2" r="2.9"/><circle cx="291.0" cy="145.4" r="2.9"/><circle cx="292.7" cy="146.5" r="2.9"/><circle cx="294.9" cy="148.1" r="2.9"/><circle cx="296.0" cy="149.0" r="2.9"/><circle cx="297.8" cy="150.0" r="2.9"/><circle cx="299.5" cy="151.3" r="2.9"/><circle cx="301.3" cy="152.3" r="2.9"/><circle cx="302.7" cy="153.4" r="2.9"/><circle cx="260.3" cy="125.9" r="2.9"/><circle cx="262.2" cy="127.2" r="2.9"/><circle cx="263.8" cy="128.4" r="2.9"/><circle cx="265.6" cy="129.3" r="2.9"/><circle cx="267.1" cy="130.5" r="2.9"/><circle cx="268.9" cy="131.5" r="2.9"/><circle cx="270.6" cy="132.7" r="2.9"/><circle cx="272.0" cy="133.8" r="2.9"/><circle cx="273.9" cy="134.7" r="2.9"/><circle cx="275.4" cy="136.0" r="2.9"/><circle cx="277.3" cy="137.5" r="2.9"/><circle cx="278.6" cy="138.6" r="2.9"/><circle cx="280.5" cy="139.3" r="2.9"/><circle cx="282.0" cy="140.3" r="2.9"/><circle cx="283.9" cy="141.8" r="2.9"/><circle cx="285.6" cy="143.0" r="2.9"/><circle cx="287.1" cy="144.1" r="2.9"/><circle cx="288.7" cy="144.8" r="2.9"/><circle cx="290.3" cy="145.9" r="2.9"/><circle cx="291.7" cy="147.5" r="2.9"/><circle cx="293.3" cy="148.2" r="2.9"/><circle cx="295.0" cy="149.8" r="2.9"/><circle cx="296.7" cy="150.4" r="2.9"/><circle cx="298.8" cy="151.6" r="2.9"/><circle cx="300.4" cy="153.0" r="2.9"/><circle cx="302.1" cy="154.3" r="2.9"/><circle cx="303.6" cy="155.4" r="2.9"/><circle cx="304.9" cy="156.5" r="2.9"/><circle cx="306.8" cy="157.6" r="2.9"/><circle cx="308.3" cy="158.7" r="2.9"/><circle cx="310.4" cy="159.4" r="2.9"/><circle cx="253.8" cy="123.8" r="2.9"/><circle cx="255.7" cy="124.8" r="2.9"/><circle cx="257.2" cy="125.9" r="2.9"/><circle cx="258.8" cy="127.0" r="2.9"/><circle cx="260.3" cy="128.2" r="2.9"/><circle cx="262.5" cy="129.3" r="2.9"/><circle cx="264.0" cy="130.3" r="2.9"/><circle cx="265.6" cy="131.7" r="2.9"/><circle cx="267.3" cy="132.7" r="2.9"/><circle cx="268.8" cy="133.9" r="2.9"/><circle cx="270.7" cy="134.7" r="2.9"/><circle cx="271.9" cy="136.2" r="2.9"/><circle cx="274.0" cy="137.2" r="2.9"/><circle cx="275.4" cy="138.5" r="2.9"/><circle cx="276.9" cy="139.3" r="2.9"/><circle cx="278.6" cy="140.6" r="2.9"/><circle cx="280.3" cy="141.5" r="2.9"/><circle cx="282.2" cy="143.1" r="2.9"/><circle cx="283.6" cy="144.1" r="2.9"/><circle cx="285.3" cy="145.3" r="2.9"/><circle cx="287.1" cy="146.1" r="2.9"/><circle cx="288.5" cy="147.0" r="2.9"/><circle cx="290.3" cy="148.4" r="2.9"/><circle cx="291.8" cy="149.5" r="2.9"/><circle cx="293.5" cy="150.9" r="2.9"/><circle cx="295.1" cy="152.1" r="2.9"/><circle cx="296.9" cy="153.0" r="2.9"/><circle cx="298.6" cy="154.3" r="2.9"/><circle cx="300.4" cy="155.2" r="2.9"/><circle cx="301.9" cy="156.5" r="2.9"/><circle cx="303.8" cy="157.4" r="2.9"/><circle cx="305.3" cy="158.8" r="2.9"/><circle cx="306.8" cy="159.5" r="2.9"/><circle cx="308.3" cy="160.9" r="2.9"/><circle cx="249.5" cy="123.0" r="2.9"/><circle cx="251.4" cy="124.5" r="2.9"/><circle cx="253.2" cy="125.3" r="2.9"/><circle cx="254.8" cy="126.5" r="2.9"/><circle cx="256.2" cy="127.8" r="2.9"/><circle cx="257.6" cy="128.6" r="2.9"/><circle cx="259.7" cy="129.8" r="2.9"/><circle cx="261.1" cy="131.1" r="2.9"/><circle cx="263.0" cy="131.9" r="2.9"/><circle cx="264.4" cy="133.3" r="2.9"/><circle cx="266.1" cy="134.3" r="2.9"/><circle cx="267.9" cy="135.8" r="2.9"/><circle cx="269.4" cy="136.7" r="2.9"/><circle cx="270.9" cy="137.7" r="2.9"/><circle cx="272.9" cy="138.7" r="2.9"/><circle cx="274.7" cy="140.3" r="2.9"/><circle cx="275.8" cy="141.5" r="2.9"/><circle cx="277.7" cy="142.5" r="2.9"/><circle cx="279.5" cy="143.3" r="2.9"/><circle cx="281.1" cy="144.7" r="2.9"/><circle cx="282.9" cy="145.5" r="2.9"/><circle cx="284.5" cy="147.1" r="2.9"/><circle cx="286.1" cy="148.0" r="2.9"/><circle cx="287.4" cy="149.1" r="2.9"/><circle cx="289.2" cy="150.3" r="2.9"/><circle cx="291.1" cy="151.4" r="2.9"/><circle cx="292.4" cy="152.5" r="2.9"/><circle cx="294.3" cy="153.4" r="2.9"/><circle cx="296.2" cy="154.8" r="2.9"/><circle cx="297.4" cy="156.1" r="2.9"/><circle cx="299.0" cy="156.8" r="2.9"/><circle cx="301.0" cy="158.1" r="2.9"/><circle cx="302.6" cy="159.3" r="2.9"/><circle cx="304.2" cy="160.2" r="2.9"/><circle cx="305.7" cy="161.2" r="2.9"/><circle cx="307.6" cy="162.7" r="2.9"/><circle cx="249.5" cy="124.5" r="2.9"/><circle cx="250.9" cy="125.8" r="2.9"/><circle cx="252.7" cy="127.0" r="2.9"/><circle cx="254.1" cy="128.1" r="2.9"/><circle cx="255.9" cy="129.5" r="2.9"/><circle cx="257.4" cy="130.6" r="2.9"/><circle cx="258.9" cy="131.4" r="2.9"/><circle cx="260.6" cy="132.4" r="2.9"/><circle cx="262.7" cy="133.9" r="2.9"/><circle cx="263.9" cy="134.7" r="2.9"/><circle cx="265.7" cy="136.2" r="2.9"/><circle cx="267.6" cy="137.3" r="2.9"/><circle cx="269.2" cy="138.1" r="2.9"/><circle cx="270.7" cy="139.2" r="2.9"/><circle cx="272.4" cy="140.6" r="2.9"/><circle cx="273.9" cy="141.5" r="2.9"/><circle cx="275.9" cy="142.5" r="2.9"/><circle cx="277.6" cy="144.1" r="2.9"/><circle cx="279.3" cy="145.0" r="2.9"/><circle cx="280.7" cy="146.2" r="2.9"/><circle cx="282.4" cy="147.6" r="2.9"/><circle cx="284.1" cy="148.3" r="2.9"/><circle cx="285.9" cy="149.5" r="2.9"/><circle cx="287.4" cy="150.8" r="2.9"/><circle cx="288.6" cy="151.9" r="2.9"/><circle cx="290.7" cy="152.9" r="2.9"/><circle cx="292.3" cy="154.0" r="2.9"/><circle cx="293.7" cy="155.2" r="2.9"/><circle cx="295.3" cy="156.3" r="2.9"/><circle cx="297.3" cy="157.4" r="2.9"/><circle cx="298.9" cy="158.8" r="2.9"/><circle cx="300.8" cy="159.4" r="2.9"/><circle cx="302.4" cy="160.9" r="2.9"/><circle cx="303.6" cy="161.8" r="2.9"/><circle cx="260.0" cy="133.7" r="2.9"/><circle cx="261.2" cy="134.9" r="2.9"/><circle cx="263.1" cy="136.1" r="2.9"/><circle cx="264.8" cy="137.1" r="2.9"/><circle cx="266.3" cy="138.2" r="2.9"/><circle cx="268.3" cy="139.4" r="2.9"/><circle cx="269.6" cy="140.5" r="2.9"/><circle cx="271.3" cy="141.2" r="2.9"/><circle cx="272.7" cy="142.3" r="2.9"/><circle cx="274.4" cy="143.5" r="2.9"/><circle cx="276.3" cy="144.9" r="2.9"/><circle cx="278.0" cy="145.9" r="2.9"/><circle cx="279.7" cy="146.9" r="2.9"/><circle cx="281.2" cy="148.3" r="2.9"/><circle cx="282.8" cy="149.1" r="2.9"/><circle cx="284.8" cy="150.6" r="2.9"/><circle cx="286.1" cy="151.5" r="2.9"/><circle cx="287.9" cy="152.7" r="2.9"/><circle cx="289.3" cy="153.5" r="2.9"/><circle cx="291.0" cy="155.1" r="2.9"/><circle cx="292.6" cy="156.0" r="2.9"/><circle cx="294.3" cy="157.0" r="2.9"/><circle cx="295.9" cy="158.2" r="2.9"/><circle cx="297.6" cy="159.1" r="2.9"/><circle cx="299.2" cy="160.3" r="2.9"/><circle cx="301.1" cy="161.4" r="2.9"/><circle cx="302.5" cy="162.8" r="2.9"/><circle cx="247.3" cy="127.7" r="2.9"/><circle cx="249.0" cy="128.3" r="2.9"/><circle cx="250.8" cy="129.5" r="2.9"/><circle cx="252.6" cy="130.7" r="2.9"/><circle cx="253.9" cy="131.7" r="2.9"/><circle cx="255.9" cy="133.0" r="2.9"/><circle cx="257.6" cy="134.2" r="2.9"/><circle cx="259.4" cy="135.2" r="2.9"/><circle cx="260.6" cy="136.3" r="2.9"/><circle cx="262.6" cy="137.7" r="2.9"/><circle cx="264.0" cy="138.5" r="2.9"/><circle cx="265.8" cy="140.1" r="2.9"/><circle cx="267.4" cy="140.7" r="2.9"/><circle cx="268.8" cy="141.8" r="2.9"/><circle cx="270.5" cy="142.9" r="2.9"/><circle cx="272.1" cy="144.4" r="2.9"/><circle cx="274.2" cy="145.3" r="2.9"/><circle cx="275.9" cy="146.6" r="2.9"/><circle cx="277.5" cy="148.0" r="2.9"/><circle cx="279.2" cy="148.6" r="2.9"/><circle cx="280.5" cy="150.0" r="2.9"/><circle cx="282.5" cy="150.8" r="2.9"/><circle cx="283.8" cy="152.4" r="2.9"/><circle cx="285.3" cy="153.3" r="2.9"/><circle cx="287.1" cy="154.6" r="2.9"/><circle cx="289.1" cy="155.4" r="2.9"/><circle cx="290.7" cy="156.8" r="2.9"/><circle cx="292.4" cy="157.9" r="2.9"/><circle cx="294.1" cy="158.9" r="2.9"/><circle cx="295.5" cy="159.9" r="2.9"/><circle cx="297.3" cy="161.2" r="2.9"/><circle cx="298.7" cy="162.1" r="2.9"/><circle cx="300.6" cy="163.5" r="2.9"/><circle cx="236.8" cy="122.7" r="2.9"/><circle cx="238.9" cy="124.0" r="2.9"/><circle cx="240.2" cy="124.8" r="2.9"/><circle cx="242.3" cy="126.2" r="2.9"/><circle cx="243.9" cy="127.4" r="2.9"/><circle cx="245.3" cy="128.6" r="2.9"/><circle cx="247.2" cy="129.4" r="2.9"/><circle cx="248.6" cy="130.3" r="2.9"/><circle cx="250.3" cy="132.0" r="2.9"/><circle cx="251.7" cy="132.9" r="2.9"/><circle cx="253.4" cy="133.7" r="2.9"/><circle cx="255.4" cy="134.9" r="2.9"/><circle cx="256.7" cy="136.0" r="2.9"/><circle cx="258.7" cy="137.4" r="2.9"/><circle cx="260.0" cy="138.3" r="2.9"/><circle cx="262.2" cy="139.4" r="2.9"/><circle cx="263.6" cy="140.7" r="2.9"/><circle cx="265.4" cy="141.9" r="2.9"/><circle cx="267.0" cy="143.0" r="2.9"/><circle cx="268.3" cy="143.9" r="2.9"/><circle cx="269.9" cy="145.4" r="2.9"/><circle cx="271.6" cy="146.1" r="2.9"/><circle cx="273.8" cy="147.3" r="2.9"/><circle cx="275.4" cy="148.3" r="2.9"/><circle cx="276.8" cy="149.5" r="2.9"/><circle cx="278.6" cy="150.9" r="2.9"/><circle cx="280.2" cy="152.1" r="2.9"/><circle cx="282.0" cy="153.0" r="2.9"/><circle cx="283.5" cy="154.2" r="2.9"/><circle cx="284.8" cy="155.5" r="2.9"/><circle cx="286.8" cy="156.7" r="2.9"/><circle cx="288.2" cy="157.6" r="2.9"/><circle cx="290.0" cy="158.8" r="2.9"/><circle cx="233.9" cy="121.6" r="2.9"/><circle cx="235.5" cy="122.9" r="2.9"/><circle cx="236.9" cy="123.8" r="2.9"/><circle cx="239.0" cy="124.9" r="2.9"/><circle cx="240.3" cy="125.9" r="2.9"/><circle cx="241.8" cy="127.1" r="2.9"/><circle cx="243.9" cy="128.6" r="2.9"/><circle cx="245.5" cy="129.8" r="2.9"/><circle cx="247.0" cy="130.9" r="2.9"/><circle cx="248.6" cy="131.7" r="2.9"/><circle cx="250.5" cy="133.2" r="2.9"/><circle cx="252.2" cy="134.0" r="2.9"/><circle cx="253.7" cy="135.1" r="2.9"/><circle cx="255.5" cy="136.5" r="2.9"/><circle cx="256.7" cy="137.7" r="2.9"/><circle cx="258.3" cy="138.3" r="2.9"/><circle cx="260.3" cy="139.5" r="2.9"/><circle cx="261.8" cy="140.9" r="2.9"/><circle cx="263.2" cy="142.1" r="2.9"/><circle cx="265.0" cy="143.0" r="2.9"/><circle cx="266.7" cy="144.3" r="2.9"/><circle cx="268.6" cy="145.2" r="2.9"/><circle cx="269.9" cy="146.3" r="2.9"/><circle cx="271.7" cy="147.3" r="2.9"/><circle cx="273.2" cy="148.8" r="2.9"/><circle cx="275.2" cy="150.1" r="2.9"/><circle cx="277.0" cy="151.1" r="2.9"/><circle cx="278.3" cy="151.8" r="2.9"/><circle cx="279.9" cy="153.1" r="2.9"/><circle cx="281.7" cy="154.3" r="2.9"/><circle cx="283.3" cy="155.6" r="2.9"/><circle cx="284.9" cy="156.5" r="2.9"/><circle cx="286.9" cy="157.8" r="2.9"/><circle cx="288.2" cy="158.6" r="2.9"/><circle cx="290.1" cy="159.6" r="2.9"/><circle cx="291.4" cy="161.0" r="2.9"/><circle cx="293.3" cy="162.0" r="2.9"/><circle cx="241.9" cy="129.4" r="2.9"/><circle cx="243.1" cy="130.0" r="2.9"/><circle cx="244.8" cy="131.3" r="2.9"/><circle cx="246.6" cy="132.2" r="2.9"/><circle cx="248.4" cy="133.4" r="2.9"/><circle cx="249.9" cy="134.6" r="2.9"/><circle cx="251.9" cy="135.8" r="2.9"/><circle cx="253.2" cy="136.7" r="2.9"/><circle cx="254.9" cy="138.2" r="2.9"/><circle cx="256.7" cy="139.5" r="2.9"/><circle cx="258.5" cy="140.2" r="2.9"/><circle cx="259.7" cy="141.6" r="2.9"/><circle cx="261.8" cy="142.6" r="2.9"/><circle cx="263.5" cy="143.8" r="2.9"/><circle cx="264.8" cy="144.6" r="2.9"/><circle cx="266.3" cy="146.1" r="2.9"/><circle cx="268.5" cy="147.3" r="2.9"/><circle cx="269.8" cy="148.3" r="2.9"/><circle cx="271.8" cy="149.5" r="2.9"/><circle cx="273.2" cy="150.4" r="2.9"/><circle cx="274.8" cy="151.4" r="2.9"/><circle cx="276.3" cy="152.8" r="2.9"/><circle cx="278.4" cy="153.9" r="2.9"/><circle cx="279.7" cy="154.9" r="2.9"/><circle cx="281.4" cy="156.3" r="2.9"/><circle cx="229.7" cy="123.6" r="2.9"/><circle cx="231.6" cy="124.8" r="2.9"/><circle cx="233.1" cy="125.4" r="2.9"/><circle cx="234.8" cy="126.8" r="2.9"/><circle cx="236.4" cy="127.8" r="2.9"/><circle cx="238.2" cy="129.3" r="2.9"/><circle cx="239.5" cy="130.3" r="2.9"/><circle cx="241.3" cy="131.3" r="2.9"/><circle cx="243.2" cy="132.7" r="2.9"/><circle cx="244.7" cy="133.4" r="2.9"/><circle cx="246.6" cy="134.5" r="2.9"/><circle cx="247.9" cy="136.0" r="2.9"/><circle cx="249.5" cy="136.8" r="2.9"/><circle cx="251.5" cy="138.3" r="2.9"/><circle cx="252.8" cy="139.1" r="2.9"/><circle cx="254.4" cy="140.1" r="2.9"/><circle cx="256.1" cy="141.7" r="2.9"/><circle cx="257.6" cy="142.4" r="2.9"/><circle cx="259.4" cy="143.4" r="2.9"/><circle cx="261.2" cy="144.9" r="2.9"/><circle cx="263.1" cy="146.0" r="2.9"/><circle cx="264.7" cy="146.8" r="2.9"/><circle cx="266.0" cy="148.5" r="2.9"/><circle cx="267.6" cy="149.2" r="2.9"/><circle cx="274.4" cy="153.7" r="2.9"/><circle cx="276.1" cy="154.7" r="2.9"/><circle cx="277.6" cy="156.3" r="2.9"/><circle cx="279.2" cy="157.4" r="2.9"/><circle cx="280.8" cy="158.6" r="2.9"/><circle cx="282.8" cy="159.5" r="2.9"/><circle cx="284.1" cy="160.3" r="2.9"/><circle cx="286.2" cy="161.5" r="2.9"/><circle cx="219.6" cy="118.1" r="2.9"/><circle cx="221.0" cy="119.3" r="2.9"/><circle cx="223.2" cy="120.3" r="2.9"/><circle cx="224.4" cy="121.4" r="2.9"/><circle cx="226.0" cy="122.6" r="2.9"/><circle cx="228.1" cy="123.6" r="2.9"/><circle cx="229.4" cy="125.2" r="2.9"/><circle cx="231.5" cy="126.4" r="2.9"/><circle cx="232.7" cy="127.1" r="2.9"/><circle cx="234.8" cy="128.3" r="2.9"/><circle cx="236.3" cy="129.4" r="2.9"/><circle cx="237.5" cy="130.5" r="2.9"/><circle cx="239.6" cy="131.9" r="2.9"/><circle cx="241.2" cy="132.8" r="2.9"/><circle cx="242.8" cy="133.9" r="2.9"/><circle cx="244.5" cy="135.3" r="2.9"/><circle cx="245.9" cy="136.3" r="2.9"/><circle cx="248.0" cy="137.5" r="2.9"/><circle cx="249.2" cy="138.7" r="2.9"/><circle cx="251.2" cy="139.4" r="2.9"/><circle cx="252.6" cy="140.5" r="2.9"/><circle cx="254.1" cy="142.1" r="2.9"/><circle cx="256.0" cy="143.2" r="2.9"/><circle cx="257.4" cy="143.8" r="2.9"/><circle cx="259.5" cy="145.4" r="2.9"/><circle cx="217.8" cy="119.9" r="2.9"/><circle cx="219.2" cy="121.1" r="2.9"/><circle cx="220.9" cy="122.2" r="2.9"/><circle cx="222.6" cy="123.2" r="2.9"/><circle cx="224.3" cy="124.5" r="2.9"/><circle cx="226.3" cy="125.8" r="2.9"/><circle cx="227.9" cy="126.9" r="2.9"/><circle cx="229.2" cy="128.1" r="2.9"/><circle cx="230.8" cy="128.7" r="2.9"/><circle cx="232.6" cy="130.2" r="2.9"/><circle cx="234.2" cy="131.2" r="2.9"/><circle cx="235.8" cy="132.6" r="2.9"/><circle cx="237.6" cy="133.4" r="2.9"/><circle cx="239.3" cy="134.7" r="2.9"/><circle cx="241.2" cy="135.7" r="2.9"/><circle cx="242.5" cy="136.8" r="2.9"/><circle cx="243.9" cy="137.9" r="2.9"/><circle cx="246.1" cy="139.2" r="2.9"/><circle cx="247.2" cy="140.4" r="2.9"/><circle cx="249.1" cy="141.6" r="2.9"/><circle cx="250.7" cy="142.2" r="2.9"/><circle cx="252.5" cy="143.7" r="2.9"/><circle cx="254.1" cy="144.9" r="2.9"/><circle cx="255.9" cy="145.7" r="2.9"/><circle cx="257.3" cy="146.9" r="2.9"/><circle cx="259.0" cy="147.9" r="2.9"/><circle cx="204.7" cy="112.8" r="2.9"/><circle cx="206.3" cy="113.6" r="2.9"/><circle cx="208.0" cy="114.8" r="2.9"/><circle cx="209.5" cy="116.1" r="2.9"/><circle cx="211.7" cy="117.2" r="2.9"/><circle cx="213.2" cy="118.5" r="2.9"/><circle cx="215.0" cy="119.7" r="2.9"/><circle cx="216.4" cy="120.7" r="2.9"/><circle cx="217.8" cy="121.9" r="2.9"/><circle cx="219.6" cy="122.8" r="2.9"/><circle cx="221.6" cy="123.8" r="2.9"/><circle cx="222.8" cy="125.3" r="2.9"/><circle cx="224.7" cy="126.0" r="2.9"/><circle cx="226.0" cy="127.2" r="2.9"/><circle cx="227.7" cy="128.7" r="2.9"/><circle cx="229.4" cy="129.4" r="2.9"/><circle cx="231.2" cy="130.7" r="2.9"/><circle cx="232.9" cy="131.9" r="2.9"/><circle cx="234.7" cy="132.9" r="2.9"/><circle cx="236.0" cy="134.4" r="2.9"/><circle cx="238.0" cy="135.0" r="2.9"/><circle cx="239.5" cy="136.5" r="2.9"/><circle cx="241.5" cy="137.2" r="2.9"/><circle cx="242.6" cy="138.6" r="2.9"/><circle cx="244.5" cy="139.9" r="2.9"/><circle cx="246.4" cy="140.7" r="2.9"/><circle cx="247.8" cy="142.0" r="2.9"/><circle cx="249.7" cy="142.9" r="2.9"/><circle cx="251.1" cy="144.0" r="2.9"/><circle cx="252.9" cy="145.0" r="2.9"/><circle cx="197.6" cy="110.4" r="2.9"/><circle cx="199.3" cy="111.2" r="2.9"/><circle cx="201.2" cy="112.5" r="2.9"/><circle cx="202.6" cy="113.4" r="2.9"/><circle cx="204.1" cy="114.9" r="2.9"/><circle cx="205.7" cy="115.8" r="2.9"/><circle cx="207.6" cy="116.8" r="2.9"/><circle cx="209.4" cy="118.3" r="2.9"/><circle cx="211.1" cy="119.3" r="2.9"/><circle cx="212.3" cy="120.0" r="2.9"/><circle cx="214.1" cy="121.3" r="2.9"/><circle cx="215.6" cy="122.8" r="2.9"/><circle cx="217.3" cy="123.8" r="2.9"/><circle cx="219.4" cy="124.5" r="2.9"/><circle cx="221.0" cy="125.8" r="2.9"/><circle cx="222.3" cy="126.8" r="2.9"/><circle cx="223.8" cy="128.2" r="2.9"/><circle cx="225.7" cy="129.5" r="2.9"/><circle cx="227.6" cy="130.1" r="2.9"/><circle cx="229.0" cy="131.5" r="2.9"/><circle cx="230.5" cy="132.5" r="2.9"/><circle cx="232.2" cy="133.9" r="2.9"/><circle cx="233.9" cy="134.7" r="2.9"/><circle cx="235.5" cy="136.0" r="2.9"/><circle cx="237.4" cy="137.0" r="2.9"/><circle cx="239.1" cy="138.1" r="2.9"/><circle cx="240.7" cy="139.5" r="2.9"/><circle cx="242.1" cy="140.7" r="2.9"/><circle cx="243.9" cy="141.7" r="2.9"/><circle cx="245.6" cy="142.8" r="2.9"/><circle cx="247.2" cy="143.6" r="2.9"/><circle cx="249.1" cy="145.2" r="2.9"/><circle cx="210.8" cy="120.9" r="2.9"/><circle cx="212.9" cy="121.7" r="2.9"/><circle cx="214.6" cy="122.9" r="2.9"/><circle cx="215.7" cy="124.2" r="2.9"/><circle cx="217.5" cy="125.3" r="2.9"/><circle cx="219.3" cy="126.1" r="2.9"/><circle cx="220.9" cy="127.6" r="2.9"/><circle cx="222.5" cy="128.6" r="2.9"/><circle cx="224.4" cy="129.6" r="2.9"/><circle cx="225.8" cy="130.9" r="2.9"/><circle cx="227.7" cy="131.8" r="2.9"/><circle cx="228.9" cy="133.2" r="2.9"/><circle cx="230.8" cy="134.1" r="2.9"/><circle cx="232.7" cy="135.5" r="2.9"/><circle cx="234.1" cy="136.7" r="2.9"/><circle cx="236.0" cy="137.7" r="2.9"/><circle cx="237.3" cy="138.4" r="2.9"/><circle cx="239.2" cy="139.9" r="2.9"/><circle cx="240.6" cy="140.9" r="2.9"/><circle cx="201.9" cy="116.8" r="2.9"/><circle cx="203.7" cy="118.0" r="2.9"/><circle cx="205.2" cy="119.0" r="2.9"/><circle cx="206.9" cy="120.1" r="2.9"/><circle cx="208.8" cy="121.0" r="2.9"/><circle cx="210.1" cy="122.4" r="2.9"/><circle cx="211.9" cy="123.5" r="2.9"/><circle cx="213.5" cy="124.4" r="2.9"/><circle cx="215.4" cy="126.0" r="2.9"/><circle cx="217.2" cy="126.9" r="2.9"/><circle cx="218.6" cy="127.8" r="2.9"/><circle cx="220.2" cy="129.0" r="2.9"/><circle cx="222.2" cy="130.0" r="2.9"/><circle cx="223.9" cy="131.4" r="2.9"/><circle cx="225.3" cy="132.4" r="2.9"/><circle cx="227.2" cy="133.5" r="2.9"/><circle cx="228.6" cy="134.8" r="2.9"/><circle cx="230.1" cy="135.7" r="2.9"/><circle cx="232.2" cy="137.2" r="2.9"/><circle cx="233.7" cy="138.4" r="2.9"/><circle cx="235.0" cy="139.4" r="2.9"/><circle cx="237.0" cy="140.2" r="2.9"/><circle cx="238.5" cy="141.8" r="2.9"/><circle cx="240.1" cy="142.8" r="2.9"/><circle cx="241.6" cy="143.9" r="2.9"/><circle cx="205.9" cy="121.1" r="2.9"/><circle cx="207.5" cy="122.3" r="2.9"/><circle cx="209.0" cy="123.2" r="2.9"/><circle cx="210.9" cy="124.3" r="2.9"/><circle cx="212.2" cy="125.3" r="2.9"/><circle cx="214.2" cy="126.4" r="2.9"/><circle cx="216.0" cy="127.7" r="2.9"/><circle cx="217.7" cy="129.0" r="2.9"/><circle cx="219.2" cy="129.9" r="2.9"/><circle cx="220.5" cy="131.1" r="2.9"/><circle cx="222.6" cy="132.5" r="2.9"/><circle cx="223.9" cy="133.1" r="2.9"/><circle cx="226.0" cy="134.6" r="2.9"/><circle cx="227.4" cy="135.7" r="2.9"/><circle cx="228.8" cy="136.7" r="2.9"/><circle cx="230.8" cy="137.9" r="2.9"/><circle cx="232.1" cy="138.7" r="2.9"/><circle cx="191.8" cy="113.6" r="2.9"/><circle cx="193.2" cy="115.1" r="2.9"/><circle cx="195.0" cy="115.8" r="2.9"/><circle cx="196.7" cy="116.8" r="2.9"/><circle cx="198.1" cy="118.3" r="2.9"/><circle cx="199.7" cy="119.0" r="2.9"/><circle cx="201.5" cy="120.3" r="2.9"/><circle cx="203.5" cy="121.3" r="2.9"/><circle cx="205.0" cy="122.6" r="2.9"/><circle cx="206.7" cy="123.8" r="2.9"/><circle cx="208.2" cy="124.8" r="2.9"/><circle cx="209.6" cy="126.0" r="2.9"/><circle cx="211.6" cy="127.1" r="2.9"/><circle cx="212.9" cy="128.3" r="2.9"/><circle cx="214.5" cy="129.3" r="2.9"/><circle cx="216.5" cy="130.6" r="2.9"/><circle cx="218.1" cy="131.6" r="2.9"/><circle cx="219.4" cy="132.5" r="2.9"/><circle cx="221.3" cy="133.8" r="2.9"/><circle cx="223.1" cy="134.9" r="2.9"/><circle cx="224.8" cy="136.2" r="2.9"/><circle cx="226.4" cy="137.5" r="2.9"/><circle cx="228.0" cy="138.4" r="2.9"/><circle cx="229.5" cy="139.3" r="2.9"/><circle cx="231.5" cy="140.7" r="2.9"/><circle cx="232.7" cy="142.1" r="2.9"/><circle cx="234.7" cy="143.0" r="2.9"/><circle cx="236.2" cy="143.8" r="2.9"/><circle cx="238.2" cy="145.0" r="2.9"/><circle cx="239.5" cy="146.6" r="2.9"/><circle cx="192.6" cy="115.5" r="2.9"/><circle cx="194.3" cy="116.6" r="2.9"/><circle cx="196.1" cy="118.3" r="2.9"/><circle cx="197.8" cy="118.9" r="2.9"/><circle cx="199.3" cy="120.2" r="2.9"/><circle cx="200.9" cy="121.3" r="2.9"/><circle cx="202.4" cy="122.3" r="2.9"/><circle cx="204.3" cy="123.4" r="2.9"/><circle cx="206.1" cy="124.5" r="2.9"/><circle cx="207.8" cy="125.7" r="2.9"/><circle cx="208.9" cy="127.2" r="2.9"/><circle cx="210.8" cy="128.3" r="2.9"/><circle cx="212.5" cy="129.4" r="2.9"/><circle cx="213.9" cy="130.5" r="2.9"/><circle cx="215.8" cy="131.8" r="2.9"/><circle cx="217.1" cy="132.4" r="2.9"/><circle cx="219.2" cy="134.0" r="2.9"/><circle cx="220.7" cy="135.0" r="2.9"/><circle cx="222.4" cy="136.0" r="2.9"/><circle cx="191.0" cy="117.2" r="2.9"/><circle cx="192.6" cy="118.2" r="2.9"/><circle cx="194.5" cy="119.6" r="2.9"/><circle cx="196.4" cy="120.5" r="2.9"/><circle cx="197.6" cy="121.6" r="2.9"/><circle cx="199.1" cy="122.6" r="2.9"/><circle cx="201.1" cy="124.0" r="2.9"/><circle cx="202.6" cy="124.9" r="2.9"/><circle cx="204.1" cy="126.0" r="2.9"/><circle cx="206.0" cy="127.2" r="2.9"/><circle cx="207.9" cy="128.5" r="2.9"/><circle cx="209.2" cy="129.5" r="2.9"/><circle cx="210.7" cy="130.8" r="2.9"/><circle cx="212.8" cy="131.7" r="2.9"/><circle cx="214.4" cy="132.8" r="2.9"/><circle cx="215.8" cy="133.9" r="2.9"/><circle cx="193.0" cy="120.0" r="2.9"/><circle cx="194.4" cy="121.1" r="2.9"/><circle cx="196.1" cy="122.1" r="2.9"/><circle cx="197.7" cy="123.5" r="2.9"/><circle cx="199.5" cy="124.7" r="2.9"/><circle cx="200.9" cy="125.8" r="2.9"/><circle cx="202.9" cy="126.9" r="2.9"/><circle cx="204.7" cy="127.6" r="2.9"/><circle cx="206.2" cy="129.2" r="2.9"/><circle cx="207.5" cy="130.2" r="2.9"/><circle cx="209.6" cy="131.1" r="2.9"/><circle cx="211.2" cy="132.6" r="2.9"/><circle cx="212.6" cy="133.3" r="2.9"/><circle cx="214.1" cy="134.8" r="2.9"/><circle cx="215.9" cy="135.6" r="2.9"/><circle cx="217.6" cy="137.1" r="2.9"/><circle cx="219.1" cy="137.7" r="2.9"/><circle cx="221.2" cy="139.0" r="2.9"/><circle cx="183.3" cy="115.7" r="2.9"/><circle cx="185.4" cy="116.8" r="2.9"/><circle cx="187.0" cy="118.0" r="2.9"/><circle cx="188.3" cy="119.1" r="2.9"/><circle cx="190.1" cy="120.4" r="2.9"/><circle cx="191.7" cy="121.5" r="2.9"/><circle cx="193.3" cy="122.8" r="2.9"/><circle cx="195.3" cy="123.9" r="2.9"/><circle cx="196.9" cy="124.6" r="2.9"/><circle cx="198.2" cy="125.8" r="2.9"/><circle cx="199.8" cy="127.4" r="2.9"/><circle cx="201.9" cy="128.5" r="2.9"/><circle cx="203.4" cy="129.1" r="2.9"/><circle cx="204.9" cy="130.2" r="2.9"/><circle cx="206.9" cy="131.5" r="2.9"/><circle cx="208.2" cy="133.0" r="2.9"/><circle cx="186.9" cy="119.8" r="2.9"/><circle cx="188.3" cy="121.1" r="2.9"/><circle cx="190.1" cy="122.0" r="2.9"/><circle cx="191.4" cy="123.3" r="2.9"/><circle cx="193.0" cy="124.6" r="2.9"/><circle cx="194.9" cy="125.3" r="2.9"/><circle cx="196.5" cy="126.4" r="2.9"/><circle cx="198.2" cy="127.8" r="2.9"/><circle cx="199.9" cy="128.7" r="2.9"/><circle cx="201.5" cy="130.0" r="2.9"/><circle cx="203.4" cy="131.1" r="2.9"/><circle cx="205.1" cy="132.2" r="2.9"/><circle cx="206.3" cy="133.1" r="2.9"/><circle cx="208.4" cy="134.5" r="2.9"/><circle cx="209.8" cy="135.6" r="2.9"/><circle cx="211.7" cy="136.6" r="2.9"/><circle cx="213.1" cy="137.8" r="2.9"/><circle cx="184.4" cy="120.2" r="2.9"/><circle cx="185.9" cy="121.5" r="2.9"/><circle cx="187.5" cy="122.5" r="2.9"/><circle cx="189.2" cy="123.6" r="2.9"/><circle cx="190.9" cy="124.3" r="2.9"/><circle cx="192.7" cy="125.9" r="2.9"/><circle cx="194.6" cy="127.0" r="2.9"/><circle cx="196.3" cy="127.7" r="2.9"/><circle cx="197.6" cy="128.8" r="2.9"/><circle cx="199.5" cy="130.2" r="2.9"/><circle cx="201.1" cy="131.5" r="2.9"/><circle cx="202.9" cy="132.6" r="2.9"/><circle cx="204.5" cy="133.6" r="2.9"/><circle cx="205.7" cy="134.9" r="2.9"/><circle cx="207.3" cy="135.6" r="2.9"/><circle cx="177.5" cy="118.0" r="2.9"/><circle cx="179.0" cy="119.6" r="2.9"/><circle cx="180.5" cy="120.6" r="2.9"/><circle cx="182.5" cy="121.7" r="2.9"/><circle cx="184.2" cy="122.9" r="2.9"/><circle cx="185.4" cy="123.7" r="2.9"/><circle cx="187.3" cy="125.3" r="2.9"/><circle cx="188.8" cy="126.2" r="2.9"/><circle cx="190.4" cy="127.5" r="2.9"/><circle cx="192.2" cy="128.4" r="2.9"/><circle cx="194.0" cy="129.3" r="2.9"/><circle cx="195.7" cy="130.8" r="2.9"/><circle cx="197.4" cy="131.6" r="2.9"/><circle cx="198.7" cy="132.7" r="2.9"/><circle cx="200.8" cy="134.0" r="2.9"/><circle cx="202.1" cy="135.1" r="2.9"/><circle cx="204.0" cy="136.1" r="2.9"/><circle cx="205.4" cy="137.5" r="2.9"/><circle cx="184.1" cy="124.7" r="2.9"/><circle cx="185.9" cy="125.8" r="2.9"/><circle cx="187.2" cy="126.7" r="2.9"/><circle cx="188.9" cy="128.1" r="2.9"/><circle cx="190.6" cy="129.5" r="2.9"/><circle cx="192.4" cy="130.3" r="2.9"/><circle cx="194.0" cy="131.5" r="2.9"/><circle cx="195.7" cy="132.6" r="2.9"/><circle cx="197.3" cy="133.7" r="2.9"/><circle cx="199.1" cy="134.7" r="2.9"/><circle cx="174.1" cy="120.1" r="2.9"/><circle cx="175.6" cy="121.0" r="2.9"/><circle cx="177.2" cy="122.3" r="2.9"/><circle cx="179.1" cy="123.1" r="2.9"/><circle cx="180.5" cy="124.3" r="2.9"/><circle cx="182.6" cy="125.6" r="2.9"/><circle cx="184.1" cy="126.6" r="2.9"/><circle cx="185.8" cy="128.0" r="2.9"/><circle cx="187.4" cy="128.7" r="2.9"/><circle cx="188.9" cy="130.1" r="2.9"/><circle cx="190.4" cy="131.4" r="2.9"/><circle cx="192.2" cy="132.2" r="2.9"/><circle cx="194.0" cy="133.5" r="2.9"/><circle cx="195.6" cy="134.8" r="2.9"/><circle cx="197.3" cy="135.6" r="2.9"/><circle cx="198.6" cy="136.9" r="2.9"/><circle cx="172.6" cy="120.4" r="2.9"/><circle cx="174.7" cy="121.8" r="2.9"/><circle cx="176.0" cy="123.0" r="2.9"/><circle cx="177.9" cy="123.7" r="2.9"/><circle cx="179.6" cy="125.0" r="2.9"/><circle cx="181.4" cy="126.0" r="2.9"/><circle cx="182.6" cy="127.2" r="2.9"/><circle cx="184.6" cy="128.7" r="2.9"/><circle cx="186.1" cy="129.4" r="2.9"/><circle cx="187.7" cy="130.9" r="2.9"/><circle cx="189.1" cy="132.1" r="2.9"/><circle cx="191.2" cy="133.2" r="2.9"/><circle cx="192.8" cy="134.2" r="2.9"/><circle cx="194.6" cy="135.1" r="2.9"/><circle cx="195.9" cy="136.1" r="2.9"/><circle cx="197.5" cy="137.7" r="2.9"/><circle cx="199.1" cy="138.8" r="2.9"/><circle cx="200.9" cy="140.0" r="2.9"/><circle cx="171.4" cy="122.1" r="2.9"/><circle cx="173.2" cy="123.5" r="2.9"/><circle cx="174.9" cy="124.6" r="2.9"/><circle cx="176.5" cy="125.4" r="2.9"/><circle cx="178.1" cy="126.8" r="2.9"/><circle cx="179.9" cy="127.7" r="2.9"/><circle cx="181.3" cy="129.0" r="2.9"/><circle cx="182.8" cy="130.2" r="2.9"/><circle cx="184.4" cy="131.2" r="2.9"/><circle cx="186.3" cy="132.1" r="2.9"/><circle cx="188.0" cy="133.4" r="2.9"/><circle cx="189.9" cy="134.7" r="2.9"/><circle cx="191.3" cy="135.9" r="2.9"/><circle cx="193.2" cy="136.6" r="2.9"/><circle cx="194.8" cy="138.1" r="2.9"/><circle cx="196.5" cy="139.2" r="2.9"/><circle cx="174.0" cy="125.6" r="2.9"/><circle cx="175.5" cy="126.4" r="2.9"/><circle cx="177.5" cy="127.8" r="2.9"/><circle cx="178.8" cy="128.8" r="2.9"/><circle cx="180.5" cy="130.0" r="2.9"/><circle cx="182.2" cy="130.9" r="2.9"/><circle cx="184.2" cy="132.4" r="2.9"/><circle cx="185.7" cy="133.1" r="2.9"/><circle cx="187.0" cy="134.5" r="2.9"/><circle cx="189.0" cy="135.6" r="2.9"/><circle cx="190.3" cy="136.8" r="2.9"/><circle cx="192.2" cy="137.7" r="2.9"/><circle cx="177.4" cy="130.2" r="2.9"/><circle cx="179.6" cy="131.4" r="2.9"/><circle cx="181.0" cy="132.6" r="2.9"/><circle cx="182.3" cy="133.7" r="2.9"/><circle cx="184.3" cy="134.7" r="2.9"/><circle cx="185.8" cy="135.9" r="2.9"/><circle cx="187.4" cy="136.9" r="2.9"/><circle cx="189.1" cy="138.3" r="2.9"/><circle cx="172.5" cy="129.3" r="2.9"/><circle cx="174.5" cy="130.4" r="2.9"/><circle cx="175.8" cy="131.5" r="2.9"/><circle cx="177.4" cy="132.5" r="2.9"/><circle cx="179.3" cy="133.3" r="2.9"/><circle cx="181.0" cy="134.9" r="2.9"/><circle cx="182.7" cy="135.7" r="2.9"/><circle cx="184.5" cy="136.9" r="2.9"/><circle cx="186.2" cy="138.0" r="2.9"/><circle cx="187.4" cy="139.5" r="2.9"/><circle cx="189.0" cy="140.2" r="2.9"/><circle cx="191.1" cy="141.2" r="2.9"/><circle cx="173.6" cy="131.2" r="2.9"/><circle cx="175.1" cy="132.2" r="2.9"/><circle cx="176.6" cy="133.7" r="2.9"/><circle cx="178.6" cy="134.3" r="2.9"/><circle cx="179.8" cy="135.5" r="2.9"/><circle cx="181.8" cy="136.6" r="2.9"/><circle cx="183.1" cy="138.1" r="2.9"/><circle cx="184.8" cy="139.4" r="2.9"/><circle cx="186.6" cy="140.4" r="2.9"/><circle cx="188.5" cy="141.1" r="2.9"/><circle cx="171.0" cy="131.7" r="2.9"/><circle cx="172.8" cy="132.8" r="2.9"/><circle cx="174.3" cy="133.9" r="2.9"/><circle cx="175.9" cy="135.5" r="2.9"/><circle cx="177.6" cy="136.2" r="2.9"/><circle cx="179.1" cy="137.6" r="2.9"/><circle cx="180.8" cy="138.8" r="2.9"/><circle cx="182.3" cy="140.0" r="2.9"/><circle cx="184.3" cy="141.1" r="2.9"/><circle cx="185.8" cy="141.7" r="2.9"/><circle cx="187.3" cy="143.2" r="2.9"/><circle cx="174.0" cy="134.9" r="2.9"/><circle cx="175.7" cy="136.1" r="2.9"/><circle cx="177.1" cy="137.1" r="2.9"/><circle cx="178.5" cy="138.0" r="2.9"/><circle cx="180.3" cy="139.3" r="2.9"/><circle cx="181.8" cy="140.8" r="2.9"/><circle cx="183.8" cy="141.7" r="2.9"/><circle cx="204.0" cy="153.0" r="2.9"/><circle cx="206.5" cy="153.7" r="2.9"/><circle cx="209.0" cy="154.4" r="2.9"/><circle cx="211.5" cy="155.2" r="2.9"/><circle cx="214.0" cy="155.9" r="2.9"/><circle cx="216.5" cy="156.6" r="2.9"/><circle cx="219.0" cy="157.3" r="2.9"/><circle cx="221.5" cy="158.1" r="2.9"/><circle cx="224.0" cy="158.8" r="2.9"/><circle cx="226.5" cy="159.5" r="2.9"/><circle cx="229.0" cy="160.2" r="2.9"/><circle cx="231.4" cy="161.0" r="2.9"/><circle cx="233.9" cy="161.7" r="2.9"/><circle cx="236.4" cy="162.4" r="2.9"/><circle cx="238.9" cy="163.1" r="2.9"/><circle cx="241.4" cy="163.9" r="2.9"/><circle cx="243.9" cy="164.6" r="2.9"/><circle cx="246.4" cy="165.3" r="2.9"/><circle cx="248.9" cy="166.0" r="2.9"/><circle cx="251.4" cy="166.8" r="2.9"/><circle cx="253.9" cy="167.5" r="2.9"/><circle cx="256.4" cy="168.2" r="2.9"/><circle cx="206.0" cy="156.0" r="2.9"/><circle cx="208.6" cy="156.8" r="2.9"/><circle cx="211.2" cy="157.6" r="2.9"/><circle cx="213.8" cy="158.5" r="2.9"/><circle cx="216.4" cy="159.3" r="2.9"/><circle cx="218.9" cy="160.1" r="2.9"/><circle cx="221.5" cy="160.9" r="2.9"/><circle cx="224.1" cy="161.8" r="2.9"/><circle cx="226.7" cy="162.6" r="2.9"/><circle cx="229.3" cy="163.4" r="2.9"/><circle cx="231.9" cy="164.2" r="2.9"/><circle cx="234.5" cy="165.1" r="2.9"/><circle cx="237.1" cy="165.9" r="2.9"/><circle cx="239.6" cy="166.7" r="2.9"/><circle cx="242.2" cy="167.5" r="2.9"/><circle cx="244.8" cy="168.4" r="2.9"/><circle cx="247.4" cy="169.2" r="2.9"/><circle cx="250.0" cy="170.0" r="2.9"/><circle cx="208.0" cy="150.5" r="2.9"/><circle cx="210.8" cy="151.4" r="2.9"/><circle cx="213.7" cy="152.3" r="2.9"/><circle cx="216.5" cy="153.2" r="2.9"/><circle cx="219.4" cy="154.0" r="2.9"/><circle cx="222.2" cy="154.9" r="2.9"/><circle cx="225.1" cy="155.8" r="2.9"/><circle cx="227.9" cy="156.7" r="2.9"/><circle cx="230.8" cy="157.6" r="2.9"/><circle cx="233.6" cy="158.5" r="2.9"/><circle cx="236.5" cy="159.3" r="2.9"/><circle cx="239.3" cy="160.2" r="2.9"/><circle cx="242.2" cy="161.1" r="2.9"/><circle cx="245.0" cy="162.0" r="2.9"/><circle cx="229.2" cy="162.2" r="2.9"/><circle cx="231.5" cy="163.4" r="2.9"/><circle cx="233.8" cy="164.7" r="2.9"/><circle cx="236.2" cy="165.9" r="2.9"/><circle cx="238.5" cy="167.2" r="2.9"/><circle cx="240.8" cy="168.4" r="2.9"/><circle cx="243.1" cy="169.6" r="2.9"/><circle cx="245.5" cy="170.9" r="2.9"/><circle cx="247.8" cy="172.1" r="2.9"/><circle cx="250.1" cy="173.3" r="2.9"/><circle cx="252.4" cy="174.6" r="2.9"/><circle cx="254.8" cy="175.8" r="2.9"/><circle cx="257.1" cy="177.1" r="2.9"/><circle cx="259.4" cy="178.3" r="2.9"/><circle cx="270.0" cy="124.0" r="2.9"/><circle cx="272.6" cy="126.0" r="2.9"/><circle cx="275.3" cy="128.0" r="2.9"/><circle cx="277.9" cy="130.0" r="2.9"/><circle cx="280.6" cy="132.1" r="2.9"/><circle cx="283.2" cy="134.1" r="2.9"/><circle cx="285.9" cy="136.1" r="2.9"/><circle cx="288.5" cy="138.1" r="2.9"/><circle cx="291.2" cy="140.1" r="2.9"/><circle cx="293.8" cy="142.1" r="2.9"/><circle cx="296.5" cy="144.2" r="2.9"/><circle cx="299.1" cy="146.2" r="2.9"/><circle cx="301.8" cy="148.2" r="2.9"/><circle cx="304.4" cy="150.2" r="2.9"/><circle cx="174.0" cy="119.2" r="2.9"/><circle cx="176.7" cy="120.3" r="2.9"/><circle cx="179.4" cy="121.4" r="2.9"/><circle cx="182.1" cy="122.5" r="2.9"/><circle cx="184.9" cy="123.5" r="2.9"/><circle cx="187.6" cy="124.6" r="2.9"/><circle cx="190.3" cy="125.7" r="2.9"/><circle cx="193.0" cy="126.8" r="2.9"/></g>
<g fill="none" stroke="#ff2020" stroke-width="0.75"><rect x="626.5" y="129.5" width="6" height="6"/><rect x="629.5" y="131.5" width="6" height="6"/><rect x="632.5" y="133.5" width="6" height="6"/><rect x="635.5" y="135.5" width="6" height="6"/><rect x="638.5" y="137.5" width="6" height="6"/><rect x="641.5" y="139.5" width="6" height="6"/><rect x="643.5" y="141.5" width="6" height="6"/><rect x="646.5" y="143.5" width="6" height="6"/><rect x="642.5" y="162.5" width="6" height="6"/><rect x="645.5" y="164.5" width="6" height="6"/><rect x="648.5" y="166.5" width="6" height="6"/><rect x="652.5" y="169.5" width="6" height="6"/><rect x="655.5" y="171.5" width="6" height="6"/><rect x="659.5" y="173.5" width="6" height="6"/><rect x="625.5" y="186.5" width="6" height="6"/><rect x="628.5" y="188.5" width="6" height="6"/><rect x="631.5" y="190.5" width="6" height="6"/><rect x="634.5" y="192.5" width="6" height="6"/><rect x="637.5" y="194.5" width="6" height="6"/><rect x="640.5" y="196.5" width="6" height="6"/><rect x="643.5" y="198.5" width="6" height="6"/><rect x="646.5" y="200.5" width="6" height="6"/><rect x="649.5" y="201.5" width="6" height="6"/><rect x="652.5" y="203.5" width="6" height="6"/><rect x="564.5" y="139.5" width="6" height="6"/><rect x="567.5" y="142.5" width="6" height="6"/><rect x="570.5" y="144.5" width="6" height="6"/><rect x="574.5" y="147.5" width="6" height="6"/><rect x="577.5" y="149.5" width="6" height="6"/><rect x="580.5" y="152.5" width="6" height="6"/><rect x="584.5" y="155.5" width="6" height="6"/><rect x="587.5" y="157.5" width="6" height="6"/><rect x="590.5" y="160.5" width="6" height="6"/><rect x="594.5" y="162.5" width="6" height="6"/><rect x="597.5" y="165.5" width="6" height="6"/><rect x="502.5" y="59.5" width="6" height="6"/><rect x="720.5" y="211.5" width="6" height="6"/><rect x="502.5" y="58.5" width="6" height="6"/><rect x="542.5" y="97.5" width="6" height="6"/><rect x="546.5" y="99.5" width="6" height="6"/><rect x="550.5" y="102.5" width="6" height="6"/><rect x="554.5" y="105.5" width="6" height="6"/><rect x="559.5" y="108.5" width="6" height="6"/><rect x="563.5" y="111.5" width="6" height="6"/><rect x="567.5" y="114.5" width="6" height="6"/><rect x="572.5" y="117.5" width="6" height="6"/><rect x="557.5" y="107.5" width="6" height="6"/><rect x="562.5" y="110.5" width="6" height="6"/><rect x="567.5" y="113.5" width="6" height="6"/><rect x="572.5" y="117.5" width="6" height="6"/><rect x="577.5" y="120.5" width="6" height="6"/><rect x="582.5" y="123.5" width="6" height="6"/><rect x="587.5" y="127.5" width="6" height="6"/><rect x="577.5" y="122.5" width="6" height="6"/><rect x="582.5" y="125.5" width="6" height="6"/><rect x="587.5" y="128.5" width="6" height="6"/><rect x="592.5" y="131.5" width="6" height="6"/><rect x="597.5" y="134.5" width="6" height="6"/><rect x="602.5" y="137.5" width="6" height="6"/></g>
<g fill="none" stroke="#00b0f0" stroke-width="0.9"><circle cx="548.6" cy="82.4" r="2.9"/><circle cx="551.8" cy="83.8" r="2.9"/><circle cx="555.7" cy="87.5" r="2.9"/><circle cx="558.6" cy="90.2" r="2.9"/><circle cx="521.2" cy="65.2" r="2.9"/><circle cx="524.2" cy="68.0" r="2.9"/><circle cx="527.5" cy="69.4" r="2.9"/><circle cx="531.4" cy="73.2" r="2.9"/><circle cx="534.2" cy="75.8" r="2.9"/><circle cx="537.1" cy="77.6" r="2.9"/><circle cx="539.3" cy="78.1" r="2.9"/><circle cx="542.5" cy="81.1" r="2.9"/><circle cx="544.4" cy="83.4" r="2.9"/><circle cx="548.2" cy="84.9" r="2.9"/><circle cx="550.8" cy="87.4" r="2.9"/><circle cx="551.8" cy="88.9" r="2.9"/><circle cx="555.5" cy="90.8" r="2.9"/><circle cx="557.3" cy="92.4" r="2.9"/><circle cx="513.4" cy="62.5" r="2.9"/><circle cx="516.0" cy="65.0" r="2.9"/><circle cx="519.9" cy="66.8" r="2.9"/><circle cx="521.1" cy="69.3" r="2.9"/><circle cx="524.0" cy="71.0" r="2.9"/><circle cx="527.3" cy="72.7" r="2.9"/><circle cx="529.8" cy="75.0" r="2.9"/><circle cx="532.6" cy="77.2" r="2.9"/><circle cx="535.2" cy="79.1" r="2.9"/><circle cx="536.7" cy="80.6" r="2.9"/><circle cx="540.1" cy="83.0" r="2.9"/><circle cx="542.6" cy="85.1" r="2.9"/><circle cx="545.3" cy="86.5" r="2.9"/><circle cx="547.5" cy="87.5" r="2.9"/><circle cx="549.8" cy="90.7" r="2.9"/><circle cx="553.1" cy="92.8" r="2.9"/><circle cx="554.8" cy="93.6" r="2.9"/><circle cx="558.1" cy="96.3" r="2.9"/><circle cx="508.2" cy="61.6" r="2.9"/><circle cx="511.5" cy="64.4" r="2.9"/><circle cx="513.6" cy="66.7" r="2.9"/><circle cx="515.2" cy="68.2" r="2.9"/><circle cx="517.6" cy="70.3" r="2.9"/><circle cx="520.7" cy="72.5" r="2.9"/><circle cx="522.6" cy="73.4" r="2.9"/><circle cx="525.7" cy="75.0" r="2.9"/><circle cx="528.2" cy="78.6" r="2.9"/><circle cx="531.6" cy="79.2" r="2.9"/><circle cx="534.1" cy="81.2" r="2.9"/><circle cx="535.6" cy="83.9" r="2.9"/><circle cx="538.2" cy="85.0" r="2.9"/><circle cx="540.4" cy="86.9" r="2.9"/><circle cx="543.2" cy="90.2" r="2.9"/><circle cx="545.4" cy="91.4" r="2.9"/><circle cx="548.3" cy="93.7" r="2.9"/><circle cx="550.5" cy="95.0" r="2.9"/><circle cx="554.3" cy="96.3" r="2.9"/><circle cx="556.3" cy="98.8" r="2.9"/><circle cx="559.0" cy="101.3" r="2.9"/><circle cx="505.9" cy="63.5" r="2.9"/><circle cx="508.2" cy="65.2" r="2.9"/><circle cx="509.6" cy="67.3" r="2.9"/><circle cx="512.1" cy="69.3" r="2.9"/><circle cx="514.7" cy="71.0" r="2.9"/><circle cx="518.6" cy="73.7" r="2.9"/><circle cx="520.5" cy="75.6" r="2.9"/><circle cx="523.6" cy="76.7" r="2.9"/><circle cx="524.8" cy="79.7" r="2.9"/><circle cx="527.2" cy="81.4" r="2.9"/><circle cx="530.9" cy="83.9" r="2.9"/><circle cx="532.3" cy="85.1" r="2.9"/><circle cx="535.4" cy="87.3" r="2.9"/><circle cx="537.5" cy="89.6" r="2.9"/><circle cx="541.7" cy="91.2" r="2.9"/><circle cx="543.7" cy="93.6" r="2.9"/><circle cx="546.6" cy="95.5" r="2.9"/><circle cx="548.5" cy="96.1" r="2.9"/><circle cx="551.6" cy="99.4" r="2.9"/><circle cx="554.0" cy="100.4" r="2.9"/><circle cx="557.0" cy="102.9" r="2.9"/><circle cx="558.4" cy="105.1" r="2.9"/><circle cx="510.5" cy="72.0" r="2.9"/><circle cx="513.6" cy="74.6" r="2.9"/><circle cx="515.3" cy="75.0" r="2.9"/><circle cx="518.3" cy="77.2" r="2.9"/><circle cx="520.7" cy="78.9" r="2.9"/><circle cx="522.7" cy="81.7" r="2.9"/><circle cx="525.1" cy="83.1" r="2.9"/><circle cx="528.3" cy="84.7" r="2.9"/><circle cx="531.6" cy="88.1" r="2.9"/><circle cx="532.8" cy="89.9" r="2.9"/><circle cx="535.6" cy="91.7" r="2.9"/><circle cx="537.9" cy="93.6" r="2.9"/><circle cx="542.0" cy="94.7" r="2.9"/><circle cx="543.2" cy="96.8" r="2.9"/><circle cx="547.0" cy="99.5" r="2.9"/><circle cx="548.3" cy="101.7" r="2.9"/><circle cx="551.9" cy="103.7" r="2.9"/><circle cx="554.8" cy="104.2" r="2.9"/><circle cx="556.9" cy="105.9" r="2.9"/><circle cx="558.5" cy="108.8" r="2.9"/><circle cx="526.8" cy="88.1" r="2.9"/><circle cx="528.2" cy="89.7" r="2.9"/><circle cx="531.7" cy="92.0" r="2.9"/><circle cx="533.9" cy="92.8" r="2.9"/><circle cx="536.8" cy="94.2" r="2.9"/><circle cx="538.8" cy="96.9" r="2.9"/><circle cx="542.0" cy="99.2" r="2.9"/><circle cx="543.3" cy="100.3" r="2.9"/><circle cx="545.5" cy="103.3" r="2.9"/><circle cx="549.4" cy="104.5" r="2.9"/><circle cx="551.0" cy="106.8" r="2.9"/><circle cx="553.5" cy="108.7" r="2.9"/><circle cx="556.3" cy="110.3" r="2.9"/><circle cx="559.4" cy="112.1" r="2.9"/><circle cx="528.9" cy="93.1" r="2.9"/><circle cx="532.2" cy="94.6" r="2.9"/><circle cx="533.0" cy="96.5" r="2.9"/><circle cx="536.8" cy="98.3" r="2.9"/><circle cx="539.4" cy="100.3" r="2.9"/><circle cx="541.1" cy="103.2" r="2.9"/><circle cx="543.2" cy="104.8" r="2.9"/><circle cx="547.5" cy="107.2" r="2.9"/><circle cx="549.0" cy="109.5" r="2.9"/><circle cx="551.8" cy="111.3" r="2.9"/><circle cx="554.0" cy="112.4" r="2.9"/><circle cx="557.2" cy="115.0" r="2.9"/><circle cx="559.7" cy="115.9" r="2.9"/><circle cx="531.7" cy="98.9" r="2.9"/><circle cx="534.5" cy="100.6" r="2.9"/><circle cx="536.3" cy="102.4" r="2.9"/><circle cx="538.7" cy="105.6" r="2.9"/><circle cx="541.7" cy="107.3" r="2.9"/><circle cx="545.0" cy="109.2" r="2.9"/><circle cx="546.6" cy="111.6" r="2.9"/><circle cx="548.6" cy="112.6" r="2.9"/><circle cx="552.6" cy="115.0" r="2.9"/><circle cx="554.2" cy="117.2" r="2.9"/><circle cx="557.5" cy="118.9" r="2.9"/><circle cx="559.2" cy="120.8" r="2.9"/><circle cx="540.1" cy="109.5" r="2.9"/><circle cx="542.3" cy="111.0" r="2.9"/><circle cx="544.8" cy="113.4" r="2.9"/><circle cx="547.3" cy="114.3" r="2.9"/><circle cx="549.5" cy="116.2" r="2.9"/><circle cx="551.7" cy="118.7" r="2.9"/><circle cx="554.9" cy="120.8" r="2.9"/><circle cx="557.1" cy="122.3" r="2.9"/><circle cx="546.5" cy="117.6" r="2.9"/><circle cx="549.4" cy="120.1" r="2.9"/><circle cx="551.1" cy="122.3" r="2.9"/><circle cx="554.2" cy="123.8" r="2.9"/><circle cx="557.2" cy="125.9" r="2.9"/><circle cx="558.8" cy="128.9" r="2.9"/><circle cx="555.7" cy="128.6" r="2.9"/><circle cx="557.6" cy="130.6" r="2.9"/><circle cx="558.8" cy="134.1" r="2.9"/><circle cx="595.1" cy="111.7" r="2.9"/><circle cx="597.3" cy="113.2" r="2.9"/><circle cx="598.8" cy="114.2" r="2.9"/><circle cx="600.6" cy="115.6" r="2.9"/><circle cx="602.4" cy="117.2" r="2.9"/><circle cx="604.0" cy="118.6" r="2.9"/><circle cx="605.7" cy="119.7" r="2.9"/><circle cx="571.2" cy="96.3" r="2.9"/><circle cx="572.6" cy="97.5" r="2.9"/><circle cx="574.4" cy="99.0" r="2.9"/><circle cx="576.2" cy="100.6" r="2.9"/><circle cx="577.7" cy="102.1" r="2.9"/><circle cx="579.8" cy="103.3" r="2.9"/><circle cx="581.5" cy="104.5" r="2.9"/><circle cx="583.2" cy="105.7" r="2.9"/><circle cx="584.8" cy="107.0" r="2.9"/><circle cx="586.6" cy="108.4" r="2.9"/><circle cx="588.7" cy="110.0" r="2.9"/><circle cx="590.3" cy="110.8" r="2.9"/><circle cx="591.8" cy="112.5" r="2.9"/><circle cx="593.8" cy="113.7" r="2.9"/><circle cx="595.5" cy="115.4" r="2.9"/><circle cx="597.1" cy="116.4" r="2.9"/><circle cx="599.1" cy="117.7" r="2.9"/><circle cx="600.9" cy="119.0" r="2.9"/><circle cx="602.2" cy="120.4" r="2.9"/><circle cx="604.0" cy="121.9" r="2.9"/><circle cx="606.2" cy="123.1" r="2.9"/><circle cx="608.0" cy="124.3" r="2.9"/><circle cx="609.4" cy="125.6" r="2.9"/><circle cx="611.0" cy="127.3" r="2.9"/><circle cx="612.7" cy="128.7" r="2.9"/><circle cx="614.8" cy="129.9" r="2.9"/><circle cx="616.2" cy="131.3" r="2.9"/><circle cx="561.7" cy="92.1" r="2.9"/><circle cx="563.7" cy="93.3" r="2.9"/><circle cx="565.3" cy="94.6" r="2.9"/><circle cx="567.2" cy="96.0" r="2.9"/><circle cx="568.9" cy="97.5" r="2.9"/><circle cx="570.9" cy="98.7" r="2.9"/><circle cx="572.3" cy="99.7" r="2.9"/><circle cx="574.0" cy="101.0" r="2.9"/><circle cx="576.2" cy="102.4" r="2.9"/><circle cx="577.9" cy="103.7" r="2.9"/><circle cx="579.5" cy="105.0" r="2.9"/><circle cx="581.1" cy="106.7" r="2.9"/><circle cx="583.0" cy="108.1" r="2.9"/><circle cx="584.5" cy="109.0" r="2.9"/><circle cx="586.2" cy="110.3" r="2.9"/><circle cx="588.5" cy="111.9" r="2.9"/><circle cx="589.9" cy="113.1" r="2.9"/><circle cx="591.9" cy="114.6" r="2.9"/><circle cx="593.3" cy="115.6" r="2.9"/><circle cx="595.0" cy="117.4" r="2.9"/><circle cx="597.1" cy="118.3" r="2.9"/><circle cx="598.6" cy="119.7" r="2.9"/><circle cx="600.6" cy="121.3" r="2.9"/><circle cx="602.1" cy="122.4" r="2.9"/><circle cx="603.8" cy="124.1" r="2.9"/><circle cx="605.8" cy="125.4" r="2.9"/><circle cx="607.3" cy="126.6" r="2.9"/><circle cx="609.3" cy="128.1" r="2.9"/><circle cx="610.9" cy="129.0" r="2.9"/><circle cx="612.9" cy="130.8" r="2.9"/><circle cx="614.5" cy="131.7" r="2.9"/><circle cx="616.0" cy="133.1" r="2.9"/><circle cx="618.2" cy="134.4" r="2.9"/><circle cx="563.0" cy="94.5" r="2.9"/><circle cx="564.4" cy="95.8" r="2.9"/><circle cx="566.4" cy="97.0" r="2.9"/><circle cx="567.9" cy="98.1" r="2.9"/><circle cx="569.9" cy="99.7" r="2.9"/><circle cx="571.3" cy="100.8" r="2.9"/><circle cx="573.0" cy="102.5" r="2.9"/><circle cx="575.2" cy="103.6" r="2.9"/><circle cx="576.8" cy="105.1" r="2.9"/><circle cx="578.3" cy="106.3" r="2.9"/><circle cx="580.2" cy="107.8" r="2.9"/><circle cx="581.8" cy="109.2" r="2.9"/><circle cx="583.5" cy="110.4" r="2.9"/><circle cx="585.7" cy="111.4" r="2.9"/><circle cx="587.3" cy="112.7" r="2.9"/><circle cx="589.0" cy="114.3" r="2.9"/><circle cx="591.0" cy="115.6" r="2.9"/><circle cx="592.8" cy="117.1" r="2.9"/><circle cx="594.5" cy="118.2" r="2.9"/><circle cx="595.8" cy="119.7" r="2.9"/><circle cx="597.5" cy="121.0" r="2.9"/><circle cx="599.3" cy="122.3" r="2.9"/><circle cx="601.4" cy="123.9" r="2.9"/><circle cx="602.8" cy="124.7" r="2.9"/><circle cx="604.7" cy="126.5" r="2.9"/><circle cx="606.4" cy="127.6" r="2.9"/><circle cx="608.2" cy="128.7" r="2.9"/><circle cx="610.1" cy="130.1" r="2.9"/><circle cx="611.8" cy="131.7" r="2.9"/><circle cx="613.6" cy="132.8" r="2.9"/><circle cx="615.4" cy="134.3" r="2.9"/><circle cx="617.2" cy="135.3" r="2.9"/><circle cx="618.7" cy="137.0" r="2.9"/><circle cx="573.3" cy="104.8" r="2.9"/><circle cx="575.1" cy="106.0" r="2.9"/><circle cx="576.5" cy="107.3" r="2.9"/><circle cx="578.6" cy="108.8" r="2.9"/><circle cx="580.2" cy="109.8" r="2.9"/><circle cx="581.7" cy="111.4" r="2.9"/><circle cx="583.6" cy="112.5" r="2.9"/><circle cx="585.7" cy="113.8" r="2.9"/><circle cx="587.4" cy="115.4" r="2.9"/><circle cx="589.2" cy="116.8" r="2.9"/><circle cx="590.5" cy="117.8" r="2.9"/><circle cx="592.6" cy="119.3" r="2.9"/><circle cx="594.2" cy="120.8" r="2.9"/><circle cx="596.0" cy="122.1" r="2.9"/><circle cx="597.7" cy="123.2" r="2.9"/><circle cx="599.6" cy="124.4" r="2.9"/><circle cx="601.3" cy="126.1" r="2.9"/><circle cx="602.7" cy="127.0" r="2.9"/><circle cx="604.9" cy="128.4" r="2.9"/><circle cx="606.4" cy="129.8" r="2.9"/><circle cx="608.0" cy="131.1" r="2.9"/><circle cx="609.7" cy="132.8" r="2.9"/><circle cx="611.8" cy="134.1" r="2.9"/><circle cx="613.2" cy="135.2" r="2.9"/><circle cx="570.0" cy="107.7" r="2.9"/><circle cx="572.3" cy="109.2" r="2.9"/><circle cx="573.7" cy="110.3" r="2.9"/><circle cx="575.7" cy="111.5" r="2.9"/><circle cx="577.4" cy="113.0" r="2.9"/><circle cx="579.0" cy="114.2" r="2.9"/><circle cx="580.5" cy="115.4" r="2.9"/><circle cx="582.4" cy="117.2" r="2.9"/><circle cx="584.4" cy="118.0" r="2.9"/><circle cx="586.2" cy="119.4" r="2.9"/><circle cx="587.8" cy="121.2" r="2.9"/><circle cx="589.7" cy="122.5" r="2.9"/><circle cx="591.5" cy="123.7" r="2.9"/><circle cx="592.7" cy="124.8" r="2.9"/><circle cx="594.9" cy="126.3" r="2.9"/><circle cx="596.8" cy="127.4" r="2.9"/><circle cx="598.5" cy="128.9" r="2.9"/><circle cx="600.1" cy="130.0" r="2.9"/><circle cx="601.7" cy="131.6" r="2.9"/><circle cx="603.7" cy="133.0" r="2.9"/><circle cx="605.4" cy="134.3" r="2.9"/><circle cx="606.9" cy="135.5" r="2.9"/><circle cx="609.1" cy="137.0" r="2.9"/><circle cx="610.6" cy="138.5" r="2.9"/><circle cx="612.5" cy="139.7" r="2.9"/><circle cx="614.3" cy="140.8" r="2.9"/><circle cx="616.0" cy="142.3" r="2.9"/><circle cx="617.5" cy="143.5" r="2.9"/><circle cx="619.0" cy="145.1" r="2.9"/><circle cx="621.3" cy="146.1" r="2.9"/><circle cx="623.0" cy="147.3" r="2.9"/><circle cx="624.5" cy="149.2" r="2.9"/><circle cx="560.3" cy="102.0" r="2.9"/><circle cx="562.1" cy="103.0" r="2.9"/><circle cx="564.0" cy="104.7" r="2.9"/><circle cx="565.8" cy="105.7" r="2.9"/><circle cx="567.1" cy="107.3" r="2.9"/><circle cx="569.3" cy="108.6" r="2.9"/><circle cx="570.6" cy="109.8" r="2.9"/><circle cx="572.4" cy="111.2" r="2.9"/><circle cx="574.6" cy="112.6" r="2.9"/><circle cx="575.9" cy="114.1" r="2.9"/><circle cx="578.0" cy="115.1" r="2.9"/><circle cx="579.2" cy="116.6" r="2.9"/><circle cx="581.2" cy="117.6" r="2.9"/><circle cx="583.3" cy="119.1" r="2.9"/><circle cx="584.6" cy="120.4" r="2.9"/><circle cx="586.8" cy="121.8" r="2.9"/><circle cx="588.3" cy="123.0" r="2.9"/><circle cx="589.8" cy="124.3" r="2.9"/><circle cx="591.5" cy="125.8" r="2.9"/><circle cx="593.5" cy="127.3" r="2.9"/><circle cx="595.5" cy="128.7" r="2.9"/><circle cx="596.8" cy="129.9" r="2.9"/><circle cx="598.6" cy="131.1" r="2.9"/><circle cx="600.5" cy="132.4" r="2.9"/><circle cx="602.5" cy="133.8" r="2.9"/><circle cx="603.9" cy="135.2" r="2.9"/><circle cx="605.7" cy="136.7" r="2.9"/><circle cx="607.3" cy="137.6" r="2.9"/><circle cx="609.1" cy="139.0" r="2.9"/><circle cx="611.2" cy="140.2" r="2.9"/><circle cx="575.9" cy="116.0" r="2.9"/><circle cx="577.4" cy="117.1" r="2.9"/><circle cx="579.0" cy="118.2" r="2.9"/><circle cx="580.6" cy="119.9" r="2.9"/><circle cx="582.5" cy="120.9" r="2.9"/><circle cx="584.3" cy="122.2" r="2.9"/><circle cx="586.2" cy="124.1" r="2.9"/><circle cx="587.8" cy="124.8" r="2.9"/><circle cx="589.4" cy="126.3" r="2.9"/><circle cx="591.6" cy="128.0" r="2.9"/><circle cx="593.2" cy="129.0" r="2.9"/><circle cx="594.6" cy="130.6" r="2.9"/><circle cx="596.3" cy="131.6" r="2.9"/><circle cx="598.5" cy="133.2" r="2.9"/><circle cx="599.9" cy="134.7" r="2.9"/><circle cx="601.9" cy="135.9" r="2.9"/><circle cx="603.4" cy="137.3" r="2.9"/><circle cx="605.1" cy="138.5" r="2.9"/><circle cx="606.8" cy="139.9" r="2.9"/><circle cx="608.9" cy="141.1" r="2.9"/><circle cx="610.5" cy="142.6" r="2.9"/><circle cx="570.5" cy="113.9" r="2.9"/><circle cx="572.4" cy="114.9" r="2.9"/><circle cx="574.5" cy="116.2" r="2.9"/><circle cx="576.2" cy="117.9" r="2.9"/><circle cx="577.5" cy="118.8" r="2.9"/><circle cx="579.2" cy="120.2" r="2.9"/><circle cx="581.3" cy="121.9" r="2.9"/><circle cx="583.2" cy="123.1" r="2.9"/><circle cx="584.6" cy="124.6" r="2.9"/><circle cx="586.5" cy="125.8" r="2.9"/><circle cx="588.1" cy="127.2" r="2.9"/><circle cx="590.0" cy="128.2" r="2.9"/><circle cx="592.0" cy="129.7" r="2.9"/><circle cx="593.5" cy="130.9" r="2.9"/><circle cx="595.4" cy="132.2" r="2.9"/><circle cx="597.1" cy="133.6" r="2.9"/><circle cx="598.7" cy="134.9" r="2.9"/><circle cx="600.4" cy="136.5" r="2.9"/><circle cx="602.4" cy="137.4" r="2.9"/><circle cx="603.9" cy="138.9" r="2.9"/><circle cx="605.9" cy="140.3" r="2.9"/><circle cx="607.6" cy="141.7" r="2.9"/><circle cx="609.2" cy="142.7" r="2.9"/><circle cx="611.2" cy="144.3" r="2.9"/><circle cx="612.7" cy="145.8" r="2.9"/><circle cx="614.4" cy="146.7" r="2.9"/><circle cx="616.4" cy="148.2" r="2.9"/><circle cx="618.2" cy="149.3" r="2.9"/><circle cx="619.8" cy="151.0" r="2.9"/><circle cx="621.5" cy="152.0" r="2.9"/><circle cx="623.1" cy="153.5" r="2.9"/><circle cx="573.8" cy="118.4" r="2.9"/><circle cx="575.6" cy="120.2" r="2.9"/><circle cx="577.3" cy="121.4" r="2.9"/><circle cx="578.9" cy="122.5" r="2.9"/><circle cx="580.7" cy="124.0" r="2.9"/><circle cx="582.8" cy="125.1" r="2.9"/><circle cx="584.0" cy="126.4" r="2.9"/><circle cx="586.2" cy="128.0" r="2.9"/><circle cx="587.8" cy="129.4" r="2.9"/><circle cx="589.6" cy="130.4" r="2.9"/><circle cx="591.6" cy="131.8" r="2.9"/><circle cx="592.8" cy="133.1" r="2.9"/><circle cx="594.7" cy="134.7" r="2.9"/><circle cx="596.5" cy="135.7" r="2.9"/><circle cx="598.4" cy="137.3" r="2.9"/><circle cx="600.2" cy="138.4" r="2.9"/><circle cx="602.1" cy="140.0" r="2.9"/><circle cx="603.6" cy="141.5" r="2.9"/><circle cx="570.8" cy="118.9" r="2.9"/><circle cx="573.1" cy="120.0" r="2.9"/><circle cx="574.7" cy="121.2" r="2.9"/><circle cx="576.1" cy="122.8" r="2.9"/><circle cx="578.3" cy="124.1" r="2.9"/><circle cx="579.6" cy="125.2" r="2.9"/><circle cx="581.8" cy="126.8" r="2.9"/><circle cx="583.6" cy="127.9" r="2.9"/><circle cx="585.2" cy="129.2" r="2.9"/><circle cx="586.6" cy="130.6" r="2.9"/><circle cx="588.5" cy="132.2" r="2.9"/><circle cx="590.3" cy="133.3" r="2.9"/><circle cx="592.3" cy="134.9" r="2.9"/><circle cx="593.8" cy="136.2" r="2.9"/><circle cx="595.3" cy="137.2" r="2.9"/><circle cx="597.5" cy="138.7" r="2.9"/><circle cx="598.8" cy="139.9" r="2.9"/><circle cx="601.0" cy="141.3" r="2.9"/><circle cx="602.9" cy="143.0" r="2.9"/><circle cx="604.4" cy="144.2" r="2.9"/><circle cx="606.0" cy="145.5" r="2.9"/><circle cx="607.6" cy="146.7" r="2.9"/><circle cx="609.3" cy="147.9" r="2.9"/><circle cx="611.6" cy="149.4" r="2.9"/><circle cx="577.0" cy="125.6" r="2.9"/><circle cx="579.0" cy="126.5" r="2.9"/><circle cx="580.7" cy="128.2" r="2.9"/><circle cx="582.7" cy="129.5" r="2.9"/><circle cx="584.1" cy="130.5" r="2.9"/><circle cx="585.7" cy="131.9" r="2.9"/><circle cx="587.7" cy="133.4" r="2.9"/><circle cx="589.7" cy="134.8" r="2.9"/><circle cx="591.4" cy="136.2" r="2.9"/><circle cx="593.1" cy="137.7" r="2.9"/><circle cx="595.0" cy="138.9" r="2.9"/><circle cx="596.5" cy="140.3" r="2.9"/><circle cx="598.1" cy="141.3" r="2.9"/><circle cx="599.8" cy="142.6" r="2.9"/><circle cx="601.5" cy="143.9" r="2.9"/><circle cx="603.4" cy="145.6" r="2.9"/><circle cx="605.5" cy="146.9" r="2.9"/><circle cx="607.1" cy="148.1" r="2.9"/><circle cx="608.5" cy="149.6" r="2.9"/><circle cx="610.6" cy="150.7" r="2.9"/><circle cx="612.5" cy="152.4" r="2.9"/><circle cx="568.7" cy="121.4" r="2.9"/><circle cx="570.5" cy="122.6" r="2.9"/><circle cx="572.3" cy="124.4" r="2.9"/><circle cx="574.3" cy="125.7" r="2.9"/><circle cx="575.6" cy="126.8" r="2.9"/><circle cx="577.3" cy="128.0" r="2.9"/><circle cx="579.0" cy="129.2" r="2.9"/><circle cx="581.2" cy="130.7" r="2.9"/><circle cx="582.9" cy="132.2" r="2.9"/><circle cx="584.4" cy="133.6" r="2.9"/><circle cx="586.3" cy="134.6" r="2.9"/><circle cx="587.9" cy="136.2" r="2.9"/><circle cx="589.7" cy="137.5" r="2.9"/><circle cx="591.5" cy="139.1" r="2.9"/><circle cx="593.1" cy="140.3" r="2.9"/><circle cx="594.9" cy="141.2" r="2.9"/><circle cx="597.0" cy="143.0" r="2.9"/><circle cx="598.5" cy="144.4" r="2.9"/><circle cx="600.2" cy="145.4" r="2.9"/><circle cx="602.3" cy="147.0" r="2.9"/><circle cx="604.1" cy="148.0" r="2.9"/><circle cx="605.7" cy="149.7" r="2.9"/><circle cx="607.5" cy="150.7" r="2.9"/><circle cx="609.3" cy="152.3" r="2.9"/><circle cx="573.3" cy="130.7" r="2.9"/><circle cx="575.2" cy="132.2" r="2.9"/><circle cx="577.2" cy="133.0" r="2.9"/><circle cx="578.5" cy="134.4" r="2.9"/><circle cx="580.2" cy="135.8" r="2.9"/><circle cx="582.2" cy="136.9" r="2.9"/><circle cx="584.1" cy="138.7" r="2.9"/><circle cx="585.7" cy="139.9" r="2.9"/><circle cx="587.5" cy="141.5" r="2.9"/><circle cx="589.4" cy="142.4" r="2.9"/><circle cx="591.0" cy="143.8" r="2.9"/><circle cx="593.0" cy="145.4" r="2.9"/><circle cx="594.5" cy="146.8" r="2.9"/><circle cx="596.4" cy="148.1" r="2.9"/><circle cx="597.9" cy="149.4" r="2.9"/><circle cx="599.6" cy="150.7" r="2.9"/><circle cx="601.4" cy="152.1" r="2.9"/><circle cx="603.2" cy="153.1" r="2.9"/><circle cx="604.9" cy="154.4" r="2.9"/><circle cx="607.0" cy="155.8" r="2.9"/><circle cx="608.4" cy="157.5" r="2.9"/><circle cx="610.4" cy="158.3" r="2.9"/><circle cx="561.8" cy="123.6" r="2.9"/><circle cx="563.5" cy="124.7" r="2.9"/><circle cx="565.1" cy="125.9" r="2.9"/><circle cx="567.2" cy="127.7" r="2.9"/><circle cx="568.4" cy="128.6" r="2.9"/><circle cx="570.1" cy="130.0" r="2.9"/><circle cx="572.3" cy="131.4" r="2.9"/><circle cx="573.8" cy="132.8" r="2.9"/><circle cx="575.7" cy="134.1" r="2.9"/><circle cx="577.4" cy="135.4" r="2.9"/><circle cx="579.1" cy="136.9" r="2.9"/><circle cx="580.8" cy="138.4" r="2.9"/><circle cx="582.8" cy="139.6" r="2.9"/><circle cx="584.5" cy="141.1" r="2.9"/><circle cx="585.9" cy="142.0" r="2.9"/><circle cx="588.0" cy="143.7" r="2.9"/><circle cx="589.6" cy="144.6" r="2.9"/><circle cx="591.5" cy="146.4" r="2.9"/><circle cx="592.9" cy="147.2" r="2.9"/><circle cx="595.0" cy="148.6" r="2.9"/><circle cx="596.9" cy="149.8" r="2.9"/><circle cx="598.6" cy="151.3" r="2.9"/><circle cx="600.2" cy="152.8" r="2.9"/><circle cx="601.9" cy="154.0" r="2.9"/><circle cx="604.0" cy="155.4" r="2.9"/><circle cx="561.6" cy="125.2" r="2.9"/><circle cx="563.5" cy="126.9" r="2.9"/><circle cx="565.2" cy="128.4" r="2.9"/><circle cx="567.2" cy="129.5" r="2.9"/><circle cx="568.9" cy="131.0" r="2.9"/><circle cx="570.5" cy="132.4" r="2.9"/><circle cx="572.1" cy="133.7" r="2.9"/><circle cx="574.2" cy="134.5" r="2.9"/><circle cx="575.5" cy="136.2" r="2.9"/><circle cx="577.5" cy="137.4" r="2.9"/><circle cx="579.0" cy="138.7" r="2.9"/><circle cx="581.1" cy="140.2" r="2.9"/><circle cx="582.8" cy="141.5" r="2.9"/><circle cx="584.5" cy="143.0" r="2.9"/><circle cx="586.1" cy="144.1" r="2.9"/><circle cx="588.0" cy="145.6" r="2.9"/><circle cx="589.7" cy="146.5" r="2.9"/><circle cx="591.7" cy="148.2" r="2.9"/><circle cx="593.2" cy="149.7" r="2.9"/><circle cx="594.7" cy="150.6" r="2.9"/><circle cx="597.0" cy="152.3" r="2.9"/><circle cx="598.6" cy="153.3" r="2.9"/><circle cx="600.0" cy="154.9" r="2.9"/><circle cx="601.8" cy="156.3" r="2.9"/><circle cx="565.8" cy="130.5" r="2.9"/><circle cx="567.2" cy="131.9" r="2.9"/><circle cx="569.4" cy="133.2" r="2.9"/><circle cx="570.8" cy="134.9" r="2.9"/><circle cx="572.9" cy="135.9" r="2.9"/><circle cx="574.6" cy="137.2" r="2.9"/><circle cx="576.2" cy="138.8" r="2.9"/><circle cx="577.8" cy="139.7" r="2.9"/><circle cx="579.8" cy="141.4" r="2.9"/><circle cx="581.6" cy="142.4" r="2.9"/><circle cx="583.2" cy="144.0" r="2.9"/><circle cx="584.8" cy="145.3" r="2.9"/><circle cx="586.7" cy="146.9" r="2.9"/><circle cx="588.2" cy="147.8" r="2.9"/><circle cx="590.5" cy="149.3" r="2.9"/><circle cx="591.9" cy="150.8" r="2.9"/><circle cx="594.0" cy="151.9" r="2.9"/><circle cx="595.7" cy="153.3" r="2.9"/><circle cx="597.1" cy="154.7" r="2.9"/><circle cx="599.0" cy="156.1" r="2.9"/><circle cx="600.4" cy="157.5" r="2.9"/><circle cx="602.3" cy="158.5" r="2.9"/><circle cx="562.9" cy="131.4" r="2.9"/><circle cx="564.3" cy="132.6" r="2.9"/><circle cx="566.3" cy="134.1" r="2.9"/><circle cx="568.4" cy="135.4" r="2.9"/><circle cx="570.0" cy="136.9" r="2.9"/><circle cx="571.4" cy="137.8" r="2.9"/><circle cx="573.6" cy="139.3" r="2.9"/><circle cx="575.2" cy="141.0" r="2.9"/><circle cx="576.5" cy="142.0" r="2.9"/><circle cx="578.7" cy="143.3" r="2.9"/><circle cx="580.5" cy="144.6" r="2.9"/><circle cx="582.3" cy="146.1" r="2.9"/><circle cx="583.6" cy="147.4" r="2.9"/><circle cx="585.5" cy="148.5" r="2.9"/><circle cx="587.6" cy="149.8" r="2.9"/><circle cx="589.1" cy="151.3" r="2.9"/><circle cx="590.9" cy="152.7" r="2.9"/><circle cx="592.5" cy="154.1" r="2.9"/><circle cx="594.2" cy="155.4" r="2.9"/><circle cx="596.1" cy="156.6" r="2.9"/><circle cx="597.6" cy="158.2" r="2.9"/><circle cx="599.7" cy="159.6" r="2.9"/><circle cx="601.6" cy="160.5" r="2.9"/><circle cx="564.2" cy="135.0" r="2.9"/><circle cx="565.7" cy="136.6" r="2.9"/><circle cx="567.6" cy="137.9" r="2.9"/><circle cx="569.1" cy="139.4" r="2.9"/><circle cx="571.4" cy="140.3" r="2.9"/><circle cx="572.7" cy="141.6" r="2.9"/><circle cx="574.4" cy="142.9" r="2.9"/><circle cx="576.2" cy="144.6" r="2.9"/><circle cx="578.4" cy="145.8" r="2.9"/><circle cx="579.7" cy="147.4" r="2.9"/><circle cx="581.4" cy="148.6" r="2.9"/><circle cx="583.3" cy="149.8" r="2.9"/><circle cx="584.9" cy="150.9" r="2.9"/><circle cx="587.0" cy="152.6" r="2.9"/><circle cx="588.6" cy="153.7" r="2.9"/><circle cx="590.5" cy="155.1" r="2.9"/><circle cx="592.4" cy="156.6" r="2.9"/><circle cx="593.6" cy="157.6" r="2.9"/><circle cx="595.5" cy="158.8" r="2.9"/><circle cx="567.0" cy="139.0" r="2.9"/><circle cx="568.8" cy="140.2" r="2.9"/><circle cx="570.0" cy="141.9" r="2.9"/><circle cx="572.2" cy="142.9" r="2.9"/><circle cx="573.7" cy="144.6" r="2.9"/><circle cx="575.8" cy="146.0" r="2.9"/><circle cx="577.3" cy="147.1" r="2.9"/><circle cx="579.3" cy="148.7" r="2.9"/><circle cx="580.6" cy="150.0" r="2.9"/><circle cx="582.8" cy="151.1" r="2.9"/><circle cx="584.1" cy="152.4" r="2.9"/><circle cx="586.2" cy="153.9" r="2.9"/><circle cx="587.8" cy="154.8" r="2.9"/><circle cx="589.3" cy="156.2" r="2.9"/><circle cx="591.2" cy="157.6" r="2.9"/><circle cx="593.0" cy="159.0" r="2.9"/><circle cx="594.7" cy="160.4" r="2.9"/><circle cx="569.4" cy="142.5" r="2.9"/><circle cx="570.8" cy="143.7" r="2.9"/><circle cx="572.9" cy="144.9" r="2.9"/><circle cx="574.4" cy="146.1" r="2.9"/><circle cx="576.3" cy="147.8" r="2.9"/><circle cx="577.9" cy="149.1" r="2.9"/><circle cx="579.8" cy="150.2" r="2.9"/><circle cx="581.7" cy="152.0" r="2.9"/><circle cx="583.4" cy="153.3" r="2.9"/><circle cx="585.2" cy="154.2" r="2.9"/><circle cx="587.1" cy="155.6" r="2.9"/><circle cx="588.4" cy="156.9" r="2.9"/><circle cx="590.4" cy="158.3" r="2.9"/><circle cx="592.0" cy="159.5" r="2.9"/><circle cx="593.6" cy="161.0" r="2.9"/><circle cx="595.4" cy="162.1" r="2.9"/><circle cx="597.3" cy="163.8" r="2.9"/><circle cx="599.2" cy="165.3" r="2.9"/><circle cx="569.7" cy="145.1" r="2.9"/><circle cx="571.5" cy="147.0" r="2.9"/><circle cx="573.5" cy="147.9" r="2.9"/><circle cx="575.3" cy="149.5" r="2.9"/><circle cx="577.0" cy="150.6" r="2.9"/><circle cx="578.9" cy="152.1" r="2.9"/><circle cx="580.4" cy="153.7" r="2.9"/><circle cx="582.4" cy="154.9" r="2.9"/><circle cx="584.0" cy="156.4" r="2.9"/><circle cx="585.6" cy="157.3" r="2.9"/><circle cx="587.2" cy="158.9" r="2.9"/><circle cx="589.4" cy="160.0" r="2.9"/><circle cx="591.2" cy="161.3" r="2.9"/><circle cx="592.4" cy="163.0" r="2.9"/><circle cx="594.2" cy="164.3" r="2.9"/><circle cx="578.6" cy="154.8" r="2.9"/><circle cx="580.1" cy="155.9" r="2.9"/><circle cx="582.2" cy="157.4" r="2.9"/><circle cx="583.5" cy="158.7" r="2.9"/><circle cx="585.8" cy="159.8" r="2.9"/><circle cx="496.0" cy="57.0" r="2.9"/><circle cx="499.2" cy="59.2" r="2.9"/><circle cx="502.4" cy="61.4" r="2.9"/><circle cx="505.6" cy="63.6" r="2.9"/><circle cx="508.8" cy="65.8" r="2.9"/><circle cx="512.0" cy="68.0" r="2.9"/><circle cx="484.1" cy="48.6" r="2.9"/><circle cx="486.4" cy="50.8" r="2.9"/><circle cx="488.8" cy="53.0" r="2.9"/><circle cx="491.1" cy="55.1" r="2.9"/><circle cx="493.5" cy="57.3" r="2.9"/><circle cx="495.8" cy="59.5" r="2.9"/><circle cx="498.2" cy="61.7" r="2.9"/><circle cx="500.5" cy="63.8" r="2.9"/><circle cx="502.9" cy="66.0" r="2.9"/><circle cx="505.2" cy="68.2" r="2.9"/><circle cx="513.3" cy="62.7" r="2.9"/><circle cx="516.5" cy="64.8" r="2.9"/><circle cx="519.7" cy="66.8" r="2.9"/><circle cx="522.9" cy="68.9" r="2.9"/><circle cx="526.1" cy="70.9" r="2.9"/><circle cx="529.3" cy="73.0" r="2.9"/><circle cx="532.5" cy="75.0" r="2.9"/><circle cx="535.8" cy="77.1" r="2.9"/><circle cx="539.0" cy="79.1" r="2.9"/><circle cx="542.2" cy="81.2" r="2.9"/><circle cx="545.4" cy="83.2" r="2.9"/><circle cx="548.6" cy="85.3" r="2.9"/><circle cx="551.8" cy="87.3" r="2.9"/><circle cx="555.0" cy="89.4" r="2.9"/><circle cx="560.4" cy="88.7" r="2.9"/><circle cx="564.1" cy="91.6" r="2.9"/><circle cx="567.7" cy="94.5" r="2.9"/><circle cx="571.4" cy="97.4" r="2.9"/><circle cx="575.0" cy="100.3" r="2.9"/><circle cx="578.7" cy="103.2" r="2.9"/><circle cx="582.3" cy="106.1" r="2.9"/><circle cx="586.0" cy="109.0" r="2.9"/><circle cx="589.7" cy="111.9" r="2.9"/><circle cx="593.3" cy="114.8" r="2.9"/><circle cx="597.0" cy="117.7" r="2.9"/><circle cx="600.6" cy="120.6" r="2.9"/><circle cx="604.3" cy="123.5" r="2.9"/><circle cx="600.0" cy="130.0" r="2.9"/><circle cx="602.9" cy="131.8" r="2.9"/><circle cx="605.9" cy="133.5" r="2.9"/><circle cx="608.8" cy="135.3" r="2.9"/><circle cx="611.8" cy="137.1" r="2.9"/><circle cx="614.7" cy="138.8" r="2.9"/><circle cx="617.6" cy="140.6" r="2.9"/><circle cx="620.6" cy="142.4" r="2.9"/><circle cx="623.5" cy="144.1" r="2.9"/><circle cx="626.5" cy="145.9" r="2.9"/><circle cx="629.4" cy="147.6" r="2.9"/><circle cx="632.4" cy="149.4" r="2.9"/><circle cx="635.3" cy="151.2" r="2.9"/><circle cx="638.2" cy="152.9" r="2.9"/><circle cx="641.2" cy="154.7" r="2.9"/><circle cx="644.1" cy="156.5" r="2.9"/><circle cx="647.1" cy="158.2" r="2.9"/><circle cx="650.0" cy="160.0" r="2.9"/><circle cx="605.0" cy="140.0" r="2.9"/><circle cx="608.0" cy="141.6" r="2.9"/><circle cx="611.0" cy="143.2" r="2.9"/><circle cx="614.0" cy="144.7" r="2.9"/><circle cx="617.0" cy="146.3" r="2.9"/><circle cx="620.0" cy="147.9" r="2.9"/><circle cx="623.0" cy="149.5" r="2.9"/><circle cx="626.0" cy="151.1" r="2.9"/><circle cx="629.0" cy="152.6" r="2.9"/><circle cx="632.0" cy="154.2" r="2.9"/><circle cx="635.0" cy="155.8" r="2.9"/><circle cx="638.0" cy="157.4" r="2.9"/><circle cx="641.0" cy="158.9" r="2.9"/><circle cx="644.0" cy="160.5" r="2.9"/><circle cx="647.0" cy="162.1" r="2.9"/><circle cx="650.0" cy="163.7" r="2.9"/><circle cx="653.0" cy="165.3" r="2.9"/><circle cx="656.0" cy="166.8" r="2.9"/><circle cx="659.0" cy="168.4" r="2.9"/><circle cx="662.0" cy="170.0" r="2.9"/><circle cx="600.0" cy="150.0" r="2.9"/><circle cx="603.0" cy="151.4" r="2.9"/><circle cx="606.0" cy="152.9" r="2.9"/><circle cx="609.0" cy="154.3" r="2.9"/><circle cx="612.0" cy="155.7" r="2.9"/><circle cx="615.0" cy="157.1" r="2.9"/><circle cx="618.0" cy="158.6" r="2.9"/><circle cx="621.0" cy="160.0" r="2.9"/><circle cx="624.0" cy="161.4" r="2.9"/><circle cx="627.0" cy="162.9" r="2.9"/><circle cx="630.0" cy="164.3" r="2.9"/><circle cx="633.0" cy="165.7" r="2.9"/><circle cx="636.0" cy="167.1" r="2.9"/><circle cx="639.0" cy="168.6" r="2.9"/><circle cx="642.0" cy="170.0" r="2.9"/><circle cx="597.0" cy="158.0" r="2.9"/><circle cx="599.0" cy="159.3" r="2.9"/><circle cx="601.1" cy="160.7" r="2.9"/><circle cx="603.1" cy="162.0" r="2.9"/><circle cx="605.2" cy="163.3" r="2.9"/><circle cx="607.2" cy="164.7" r="2.9"/><circle cx="609.3" cy="166.0" r="2.9"/><circle cx="611.3" cy="167.3" r="2.9"/><circle cx="613.4" cy="168.7" r="2.9"/><circle cx="615.4" cy="170.0" r="2.9"/><circle cx="617.5" cy="171.3" r="2.9"/><circle cx="619.5" cy="172.7" r="2.9"/><circle cx="621.6" cy="174.0" r="2.9"/><circle cx="623.6" cy="175.3" r="2.9"/><circle cx="625.7" cy="176.7" r="2.9"/><circle cx="627.7" cy="178.0" r="2.9"/><circle cx="629.8" cy="179.3" r="2.9"/><circle cx="631.8" cy="180.7" r="2.9"/><circle cx="633.9" cy="182.0" r="2.9"/><circle cx="635.9" cy="183.3" r="2.9"/><circle cx="638.0" cy="184.7" r="2.9"/><circle cx="640.0" cy="186.0" r="2.9"/><circle cx="590.0" cy="150.0" r="2.9"/><circle cx="592.6" cy="151.6" r="2.9"/><circle cx="595.3" cy="153.3" r="2.9"/><circle cx="597.9" cy="154.9" r="2.9"/><circle cx="600.5" cy="156.5" r="2.9"/><circle cx="603.2" cy="158.2" r="2.9"/><circle cx="605.8" cy="159.8" r="2.9"/><circle cx="608.4" cy="161.4" r="2.9"/><circle cx="611.1" cy="163.1" r="2.9"/><circle cx="613.7" cy="164.7" r="2.9"/><circle cx="616.3" cy="166.3" r="2.9"/><circle cx="618.9" cy="167.9" r="2.9"/><circle cx="621.6" cy="169.6" r="2.9"/><circle cx="624.2" cy="171.2" r="2.9"/><circle cx="626.8" cy="172.8" r="2.9"/><circle cx="629.5" cy="174.5" r="2.9"/><circle cx="632.1" cy="176.1" r="2.9"/><circle cx="634.7" cy="177.7" r="2.9"/><circle cx="637.4" cy="179.4" r="2.9"/><circle cx="640.0" cy="181.0" r="2.9"/><circle cx="629.0" cy="191.0" r="2.9"/><circle cx="632.4" cy="193.1" r="2.9"/><circle cx="635.8" cy="195.2" r="2.9"/><circle cx="639.1" cy="197.4" r="2.9"/><circle cx="642.5" cy="199.5" r="2.9"/><circle cx="645.9" cy="201.6" r="2.9"/><circle cx="649.2" cy="203.8" r="2.9"/><circle cx="652.6" cy="205.9" r="2.9"/><circle cx="656.0" cy="208.0" r="2.9"/><circle cx="570.0" cy="146.0" r="2.9"/><circle cx="574.0" cy="148.9" r="2.9"/><circle cx="578.0" cy="151.7" r="2.9"/><circle cx="582.0" cy="154.6" r="2.9"/><circle cx="586.0" cy="157.4" r="2.9"/><circle cx="590.0" cy="160.3" r="2.9"/><circle cx="594.0" cy="163.1" r="2.9"/><circle cx="598.0" cy="166.0" r="2.9"/><circle cx="610.0" cy="160.0" r="2.9"/><circle cx="613.1" cy="161.9" r="2.9"/><circle cx="616.2" cy="163.8" r="2.9"/><circle cx="619.2" cy="165.8" r="2.9"/><circle cx="622.3" cy="167.7" r="2.9"/><circle cx="625.4" cy="169.6" r="2.9"/><circle cx="628.5" cy="171.5" r="2.9"/><circle cx="631.5" cy="173.5" r="2.9"/><circle cx="634.6" cy="175.4" r="2.9"/><circle cx="637.7" cy="177.3" r="2.9"/><circle cx="640.8" cy="179.2" r="2.9"/><circle cx="643.8" cy="181.2" r="2.9"/><circle cx="646.9" cy="183.1" r="2.9"/><circle cx="650.0" cy="185.0" r="2.9"/><circle cx="646.8" cy="156.3" r="2.9"/><circle cx="649.4" cy="158.1" r="2.9"/><circle cx="652.0" cy="160.0" r="2.9"/><circle cx="654.6" cy="161.8" r="2.9"/><circle cx="657.2" cy="163.6" r="2.9"/><circle cx="659.8" cy="165.4" r="2.9"/><circle cx="662.4" cy="167.3" r="2.9"/><circle cx="665.0" cy="169.1" r="2.9"/><circle cx="628.7" cy="165.3" r="2.9"/><circle cx="632.2" cy="166.1" r="2.9"/><circle cx="635.8" cy="167.0" r="2.9"/><circle cx="639.3" cy="167.8" r="2.9"/><circle cx="642.8" cy="168.7" r="2.9"/><circle cx="646.4" cy="169.5" r="2.9"/><circle cx="649.9" cy="170.4" r="2.9"/><circle cx="653.4" cy="171.2" r="2.9"/><circle cx="657.0" cy="172.1" r="2.9"/><circle cx="660.5" cy="172.9" r="2.9"/><circle cx="640.8" cy="180.4" r="2.9"/><circle cx="644.0" cy="181.4" r="2.9"/><circle cx="647.2" cy="182.4" r="2.9"/><circle cx="650.4" cy="183.4" r="2.9"/><circle cx="653.6" cy="184.4" r="2.9"/><circle cx="656.7" cy="185.5" r="2.9"/><circle cx="659.9" cy="186.5" r="2.9"/><circle cx="663.1" cy="187.5" r="2.9"/><circle cx="666.3" cy="188.5" r="2.9"/><circle cx="669.5" cy="189.5" r="2.9"/><circle cx="645.0" cy="175.0" r="2.9"/><circle cx="648.3" cy="176.3" r="2.9"/><circle cx="651.6" cy="177.6" r="2.9"/><circle cx="654.9" cy="178.9" r="2.9"/><circle cx="658.1" cy="180.1" r="2.9"/><circle cx="661.4" cy="181.4" r="2.9"/><circle cx="664.7" cy="182.7" r="2.9"/><circle cx="668.0" cy="184.0" r="2.9"/><circle cx="640.4" cy="179.3" r="2.9"/><circle cx="643.5" cy="180.6" r="2.9"/><circle cx="646.7" cy="182.0" r="2.9"/><circle cx="649.8" cy="183.3" r="2.9"/><circle cx="652.9" cy="184.7" r="2.9"/><circle cx="656.1" cy="186.0" r="2.9"/><circle cx="659.2" cy="187.4" r="2.9"/><circle cx="662.3" cy="188.7" r="2.9"/><circle cx="665.5" cy="190.1" r="2.9"/><circle cx="668.6" cy="191.4" r="2.9"/><circle cx="660.5" cy="199.5" r="2.9"/><circle cx="663.6" cy="201.1" r="2.9"/><circle cx="666.8" cy="202.6" r="2.9"/><circle cx="669.9" cy="204.2" r="2.9"/><circle cx="673.1" cy="205.8" r="2.9"/><circle cx="676.2" cy="207.3" r="2.9"/><circle cx="679.4" cy="208.9" r="2.9"/><circle cx="682.5" cy="210.5" r="2.9"/><circle cx="685.7" cy="212.0" r="2.9"/><circle cx="688.8" cy="213.6" r="2.9"/><circle cx="630.0" cy="143.0" r="2.9"/><circle cx="635.0" cy="144.0" r="2.9"/><circle cx="640.0" cy="145.0" r="2.9"/><circle cx="645.0" cy="146.0" r="2.9"/><circle cx="684.7" cy="201.5" r="2.9"/><circle cx="690.8" cy="208.7" r="2.9"/><circle cx="698.9" cy="213.6" r="2.9"/><circle cx="700.9" cy="219.6" r="2.9"/><circle cx="708.9" cy="219.6" r="2.9"/><circle cx="715.0" cy="224.9" r="2.9"/><circle cx="721.0" cy="227.7" r="2.9"/><circle cx="711.0" cy="237.8" r="2.9"/><circle cx="729.1" cy="241.8" r="2.9"/><circle cx="759.3" cy="131.7" r="2.9"/><circle cx="693.3" cy="81.2" r="2.9"/><circle cx="690.8" cy="86.0" r="2.9"/><circle cx="688.3" cy="90.9" r="2.9"/><circle cx="685.8" cy="95.8" r="2.9"/><circle cx="683.2" cy="100.6" r="2.9"/><circle cx="680.7" cy="105.5" r="2.9"/><circle cx="678.2" cy="110.3" r="2.9"/><circle cx="675.7" cy="115.2" r="2.9"/><circle cx="673.2" cy="120.0" r="2.9"/><circle cx="693.3" cy="98.3" r="2.9"/><circle cx="690.8" cy="102.5" r="2.9"/><circle cx="688.3" cy="106.6" r="2.9"/><circle cx="685.8" cy="110.8" r="2.9"/><circle cx="683.2" cy="114.9" r="2.9"/><circle cx="680.7" cy="119.0" r="2.9"/><circle cx="678.2" cy="123.2" r="2.9"/><circle cx="675.7" cy="127.3" r="2.9"/><circle cx="673.2" cy="131.5" r="2.9"/><circle cx="664.1" cy="132.5" r="2.9"/><circle cx="666.8" cy="133.8" r="2.9"/><circle cx="669.6" cy="135.1" r="2.9"/><circle cx="672.3" cy="136.4" r="2.9"/><circle cx="675.1" cy="137.7" r="2.9"/><circle cx="677.8" cy="139.0" r="2.9"/><circle cx="680.6" cy="140.2" r="2.9"/><circle cx="683.3" cy="141.5" r="2.9"/><circle cx="686.1" cy="142.8" r="2.9"/><circle cx="688.8" cy="144.1" r="2.9"/><circle cx="691.6" cy="145.4" r="2.9"/><circle cx="694.3" cy="146.7" r="2.9"/><circle cx="666.0" cy="135.5" r="2.9"/><circle cx="669.3" cy="136.8" r="2.9"/><circle cx="672.7" cy="138.0" r="2.9"/><circle cx="676.0" cy="139.2" r="2.9"/><circle cx="679.3" cy="140.5" r="2.9"/><circle cx="682.7" cy="141.8" r="2.9"/><circle cx="686.0" cy="143.0" r="2.9"/></g>
<g fill="none" stroke="#ff2020" stroke-width="0.75"><rect x="524.5" y="81.5" width="6" height="6"/><rect x="526.5" y="83.5" width="6" height="6"/><rect x="529.5" y="86.5" width="6" height="6"/><rect x="532.5" y="89.5" width="6" height="6"/><rect x="534.5" y="92.5" width="6" height="6"/><rect x="537.5" y="95.5" width="6" height="6"/><rect x="540.5" y="98.5" width="6" height="6"/><rect x="528.5" y="83.5" width="6" height="6"/><rect x="531.5" y="85.5" width="6" height="6"/><rect x="534.5" y="88.5" width="6" height="6"/><rect x="537.5" y="90.5" width="6" height="6"/><rect x="540.5" y="93.5" width="6" height="6"/><rect x="543.5" y="96.5" width="6" height="6"/><rect x="526.5" y="87.5" width="6" height="6"/><rect x="529.5" y="90.5" width="6" height="6"/><rect x="533.5" y="93.5" width="6" height="6"/><rect x="537.5" y="97.5" width="6" height="6"/><rect x="532.5" y="73.5" width="6" height="6"/><rect x="535.5" y="75.5" width="6" height="6"/><rect x="538.5" y="78.5" width="6" height="6"/><rect x="542.5" y="80.5" width="6" height="6"/><rect x="545.5" y="83.5" width="6" height="6"/><rect x="548.5" y="85.5" width="6" height="6"/><rect x="552.5" y="88.5" width="6" height="6"/><rect x="515.5" y="72.5" width="6" height="6"/><rect x="519.5" y="75.5" width="6" height="6"/><rect x="523.5" y="79.5" width="6" height="6"/><rect x="527.5" y="83.5" width="6" height="6"/></g>
<g fill="none" stroke="#ff2020" stroke-width="0.75"><rect x="355.5" y="352.5" width="6" height="6"/><rect x="356.5" y="351.5" width="6" height="6"/><rect x="357.5" y="350.5" width="6" height="6"/><rect x="358.5" y="350.5" width="6" height="6"/><rect x="359.5" y="349.5" width="6" height="6"/><rect x="360.5" y="349.5" width="6" height="6"/><rect x="361.5" y="348.5" width="6" height="6"/><rect x="362.5" y="348.5" width="6" height="6"/><rect x="363.5" y="347.5" width="6" height="6"/><rect x="364.5" y="347.5" width="6" height="6"/><rect x="365.5" y="346.5" width="6" height="6"/><rect x="366.5" y="346.5" width="6" height="6"/><rect x="367.5" y="345.5" width="6" height="6"/><rect x="368.5" y="345.5" width="6" height="6"/><rect x="369.5" y="344.5" width="6" height="6"/><rect x="370.5" y="344.5" width="6" height="6"/><rect x="371.5" y="343.5" width="6" height="6"/><rect x="372.5" y="343.5" width="6" height="6"/><rect x="373.5" y="342.5" width="6" height="6"/><rect x="374.5" y="342.5" width="6" height="6"/><rect x="263.5" y="395.5" width="6" height="6"/><rect x="291.5" y="428.5" width="6" height="6"/><rect x="293.5" y="428.5" width="6" height="6"/><rect x="295.5" y="428.5" width="6" height="6"/><rect x="297.5" y="428.5" width="6" height="6"/><rect x="299.5" y="428.5" width="6" height="6"/><rect x="287.5" y="436.5" width="6" height="6"/><rect x="289.5" y="436.5" width="6" height="6"/><rect x="291.5" y="436.5" width="6" height="6"/><rect x="293.5" y="436.5" width="6" height="6"/><rect x="347.5" y="457.5" width="6" height="6"/><rect x="348.5" y="456.5" width="6" height="6"/><rect x="349.5" y="455.5" width="6" height="6"/><rect x="350.5" y="454.5" width="6" height="6"/><rect x="351.5" y="453.5" width="6" height="6"/><rect x="353.5" y="452.5" width="6" height="6"/><rect x="354.5" y="451.5" width="6" height="6"/><rect x="355.5" y="450.5" width="6" height="6"/><rect x="356.5" y="449.5" width="6" height="6"/><rect x="357.5" y="448.5" width="6" height="6"/><rect x="347.5" y="458.5" width="6" height="6"/><rect x="348.5" y="457.5" width="6" height="6"/><rect x="349.5" y="456.5" width="6" height="6"/><rect x="350.5" y="455.5" width="6" height="6"/><rect x="351.5" y="454.5" width="6" height="6"/><rect x="353.5" y="453.5" width="6" height="6"/><rect x="354.5" y="453.5" width="6" height="6"/><rect x="355.5" y="452.5" width="6" height="6"/><rect x="356.5" y="451.5" width="6" height="6"/><rect x="357.5" y="450.5" width="6" height="6"/><rect x="365.5" y="416.5" width="6" height="6"/><rect x="367.5" y="418.5" width="6" height="6"/><rect x="369.5" y="420.5" width="6" height="6"/><rect x="372.5" y="422.5" width="6" height="6"/><rect x="374.5" y="423.5" width="6" height="6"/><rect x="376.5" y="425.5" width="6" height="6"/><rect x="379.5" y="427.5" width="6" height="6"/><rect x="381.5" y="429.5" width="6" height="6"/><rect x="390.5" y="426.5" width="6" height="6"/><rect x="392.5" y="425.5" width="6" height="6"/><rect x="394.5" y="424.5" width="6" height="6"/><rect x="395.5" y="424.5" width="6" height="6"/><rect x="397.5" y="423.5" width="6" height="6"/><rect x="390.5" y="427.5" width="6" height="6"/><rect x="392.5" y="427.5" width="6" height="6"/><rect x="394.5" y="426.5" width="6" height="6"/><rect x="395.5" y="425.5" width="6" height="6"/><rect x="397.5" y="424.5" width="6" height="6"/><rect x="365.5" y="418.5" width="6" height="6"/></g>
<g fill="none" stroke="#00b0f0" stroke-width="0.9"><circle cx="268.5" cy="389.6" r="2.9"/><circle cx="280.7" cy="434.0" r="2.9"/><circle cx="281.9" cy="434.1" r="2.9"/><circle cx="283.1" cy="434.2" r="2.9"/><circle cx="284.4" cy="434.3" r="2.9"/><circle cx="285.6" cy="434.5" r="2.9"/><circle cx="286.8" cy="434.6" r="2.9"/><circle cx="288.0" cy="434.7" r="2.9"/><circle cx="289.3" cy="434.8" r="2.9"/><circle cx="290.5" cy="434.9" r="2.9"/><circle cx="291.7" cy="435.0" r="2.9"/><circle cx="292.9" cy="435.1" r="2.9"/><circle cx="294.2" cy="435.3" r="2.9"/><circle cx="295.4" cy="435.4" r="2.9"/><circle cx="296.6" cy="435.5" r="2.9"/><circle cx="297.8" cy="435.6" r="2.9"/><circle cx="299.1" cy="435.7" r="2.9"/><circle cx="300.3" cy="435.8" r="2.9"/><circle cx="301.5" cy="435.9" r="2.9"/><circle cx="302.7" cy="436.1" r="2.9"/><circle cx="304.0" cy="436.2" r="2.9"/><circle cx="305.2" cy="436.3" r="2.9"/><circle cx="306.4" cy="436.4" r="2.9"/><circle cx="280.7" cy="435.2" r="2.9"/><circle cx="281.9" cy="435.3" r="2.9"/><circle cx="283.1" cy="435.4" r="2.9"/><circle cx="284.4" cy="435.5" r="2.9"/><circle cx="285.6" cy="435.7" r="2.9"/><circle cx="286.8" cy="435.8" r="2.9"/><circle cx="288.0" cy="435.9" r="2.9"/><circle cx="289.3" cy="436.0" r="2.9"/><circle cx="290.5" cy="436.1" r="2.9"/><circle cx="291.7" cy="436.2" r="2.9"/><circle cx="292.9" cy="436.3" r="2.9"/><circle cx="294.2" cy="436.5" r="2.9"/><circle cx="295.4" cy="436.6" r="2.9"/><circle cx="296.6" cy="436.7" r="2.9"/><circle cx="297.8" cy="436.8" r="2.9"/><circle cx="299.1" cy="436.9" r="2.9"/><circle cx="300.3" cy="437.0" r="2.9"/><circle cx="301.5" cy="437.1" r="2.9"/><circle cx="302.7" cy="437.3" r="2.9"/><circle cx="304.0" cy="437.4" r="2.9"/><circle cx="305.2" cy="437.5" r="2.9"/><circle cx="306.4" cy="437.6" r="2.9"/><circle cx="297.3" cy="421.5" r="2.9"/><circle cx="298.6" cy="421.4" r="2.9"/><circle cx="299.8" cy="421.4" r="2.9"/><circle cx="301.1" cy="421.3" r="2.9"/><circle cx="302.4" cy="421.2" r="2.9"/><circle cx="303.7" cy="421.1" r="2.9"/><circle cx="304.9" cy="421.1" r="2.9"/><circle cx="306.2" cy="421.0" r="2.9"/><circle cx="307.5" cy="420.9" r="2.9"/><circle cx="308.8" cy="420.8" r="2.9"/><circle cx="310.0" cy="420.8" r="2.9"/><circle cx="311.3" cy="420.7" r="2.9"/><circle cx="306.0" cy="430.2" r="2.9"/><circle cx="307.4" cy="430.1" r="2.9"/><circle cx="308.7" cy="429.9" r="2.9"/><circle cx="310.1" cy="429.8" r="2.9"/><circle cx="311.5" cy="429.7" r="2.9"/><circle cx="312.8" cy="429.5" r="2.9"/><circle cx="314.2" cy="429.4" r="2.9"/><circle cx="315.5" cy="429.2" r="2.9"/><circle cx="316.9" cy="429.1" r="2.9"/><circle cx="318.3" cy="429.0" r="2.9"/><circle cx="319.6" cy="428.8" r="2.9"/><circle cx="321.0" cy="428.7" r="2.9"/><circle cx="310.6" cy="425.3" r="2.9"/><circle cx="311.9" cy="425.0" r="2.9"/><circle cx="313.3" cy="424.7" r="2.9"/><circle cx="314.6" cy="424.4" r="2.9"/><circle cx="316.0" cy="424.2" r="2.9"/><circle cx="317.3" cy="423.9" r="2.9"/><circle cx="318.6" cy="423.6" r="2.9"/><circle cx="320.0" cy="423.3" r="2.9"/><circle cx="321.3" cy="423.0" r="2.9"/><circle cx="322.6" cy="422.7" r="2.9"/><circle cx="324.0" cy="422.5" r="2.9"/><circle cx="325.3" cy="422.2" r="2.9"/><circle cx="326.7" cy="421.9" r="2.9"/><circle cx="328.0" cy="421.6" r="2.9"/><circle cx="310.6" cy="426.5" r="2.9"/><circle cx="311.9" cy="426.2" r="2.9"/><circle cx="313.3" cy="425.9" r="2.9"/><circle cx="314.6" cy="425.6" r="2.9"/><circle cx="316.0" cy="425.4" r="2.9"/><circle cx="317.3" cy="425.1" r="2.9"/><circle cx="318.6" cy="424.8" r="2.9"/><circle cx="320.0" cy="424.5" r="2.9"/><circle cx="321.3" cy="424.2" r="2.9"/><circle cx="322.6" cy="423.9" r="2.9"/><circle cx="324.0" cy="423.7" r="2.9"/><circle cx="325.3" cy="423.4" r="2.9"/><circle cx="326.7" cy="423.1" r="2.9"/><circle cx="328.0" cy="422.8" r="2.9"/><circle cx="315.0" cy="434.5" r="2.9"/><circle cx="316.3" cy="434.5" r="2.9"/><circle cx="317.5" cy="434.4" r="2.9"/><circle cx="318.8" cy="434.4" r="2.9"/><circle cx="320.0" cy="434.4" r="2.9"/><circle cx="321.3" cy="434.3" r="2.9"/><circle cx="322.5" cy="434.3" r="2.9"/><circle cx="323.8" cy="434.3" r="2.9"/><circle cx="325.0" cy="434.3" r="2.9"/><circle cx="326.3" cy="434.2" r="2.9"/><circle cx="327.5" cy="434.2" r="2.9"/><circle cx="328.8" cy="434.2" r="2.9"/><circle cx="330.0" cy="434.1" r="2.9"/><circle cx="331.3" cy="434.1" r="2.9"/><circle cx="332.5" cy="434.1" r="2.9"/><circle cx="333.8" cy="434.0" r="2.9"/><circle cx="335.0" cy="434.0" r="2.9"/><circle cx="336.3" cy="434.0" r="2.9"/><circle cx="337.5" cy="434.0" r="2.9"/><circle cx="338.8" cy="433.9" r="2.9"/><circle cx="340.0" cy="433.9" r="2.9"/><circle cx="341.3" cy="433.9" r="2.9"/><circle cx="342.5" cy="433.8" r="2.9"/><circle cx="343.8" cy="433.8" r="2.9"/><circle cx="315.0" cy="436.5" r="2.9"/><circle cx="316.3" cy="436.5" r="2.9"/><circle cx="317.5" cy="436.4" r="2.9"/><circle cx="318.8" cy="436.4" r="2.9"/><circle cx="320.0" cy="436.4" r="2.9"/><circle cx="321.3" cy="436.3" r="2.9"/><circle cx="322.5" cy="436.3" r="2.9"/><circle cx="323.8" cy="436.3" r="2.9"/><circle cx="325.0" cy="436.3" r="2.9"/><circle cx="326.3" cy="436.2" r="2.9"/><circle cx="327.5" cy="436.2" r="2.9"/><circle cx="328.8" cy="436.2" r="2.9"/><circle cx="330.0" cy="436.1" r="2.9"/><circle cx="331.3" cy="436.1" r="2.9"/><circle cx="332.5" cy="436.1" r="2.9"/><circle cx="333.8" cy="436.0" r="2.9"/><circle cx="335.0" cy="436.0" r="2.9"/><circle cx="336.3" cy="436.0" r="2.9"/><circle cx="337.5" cy="436.0" r="2.9"/><circle cx="338.8" cy="435.9" r="2.9"/><circle cx="340.0" cy="435.9" r="2.9"/><circle cx="341.3" cy="435.9" r="2.9"/><circle cx="342.5" cy="435.8" r="2.9"/><circle cx="343.8" cy="435.8" r="2.9"/><circle cx="324.0" cy="432.0" r="2.9"/><circle cx="326.0" cy="431.8" r="2.9"/><circle cx="328.0" cy="431.7" r="2.9"/><circle cx="330.0" cy="431.5" r="2.9"/><circle cx="336.3" cy="445.3" r="2.9"/><circle cx="337.7" cy="445.3" r="2.9"/><circle cx="339.2" cy="445.2" r="2.9"/><circle cx="340.6" cy="445.2" r="2.9"/><circle cx="342.0" cy="445.2" r="2.9"/><circle cx="343.5" cy="445.2" r="2.9"/><circle cx="344.9" cy="445.1" r="2.9"/><circle cx="346.4" cy="445.1" r="2.9"/><circle cx="347.8" cy="445.1" r="2.9"/><circle cx="349.2" cy="445.1" r="2.9"/><circle cx="350.7" cy="445.0" r="2.9"/><circle cx="352.1" cy="445.0" r="2.9"/><circle cx="321.2" cy="459.2" r="2.9"/><circle cx="322.5" cy="458.9" r="2.9"/><circle cx="323.9" cy="458.5" r="2.9"/><circle cx="325.2" cy="458.2" r="2.9"/><circle cx="326.5" cy="457.9" r="2.9"/><circle cx="327.9" cy="457.5" r="2.9"/><circle cx="329.2" cy="457.2" r="2.9"/><circle cx="330.5" cy="456.9" r="2.9"/><circle cx="331.9" cy="456.5" r="2.9"/><circle cx="333.2" cy="456.2" r="2.9"/><circle cx="321.2" cy="460.2" r="2.9"/><circle cx="322.5" cy="459.9" r="2.9"/><circle cx="323.9" cy="459.5" r="2.9"/><circle cx="325.2" cy="459.2" r="2.9"/><circle cx="326.5" cy="458.9" r="2.9"/><circle cx="327.9" cy="458.5" r="2.9"/><circle cx="329.2" cy="458.2" r="2.9"/><circle cx="330.5" cy="457.9" r="2.9"/><circle cx="331.9" cy="457.5" r="2.9"/><circle cx="333.2" cy="457.2" r="2.9"/><circle cx="360.5" cy="459.8" r="2.9"/><circle cx="361.8" cy="459.7" r="2.9"/><circle cx="363.1" cy="459.6" r="2.9"/><circle cx="364.4" cy="459.6" r="2.9"/><circle cx="365.7" cy="459.5" r="2.9"/><circle cx="367.0" cy="459.5" r="2.9"/><circle cx="368.3" cy="459.4" r="2.9"/><circle cx="369.6" cy="459.4" r="2.9"/><circle cx="370.9" cy="459.3" r="2.9"/><circle cx="372.2" cy="459.3" r="2.9"/><circle cx="373.5" cy="459.2" r="2.9"/><circle cx="374.8" cy="459.2" r="2.9"/><circle cx="376.1" cy="459.1" r="2.9"/><circle cx="377.4" cy="459.1" r="2.9"/><circle cx="378.7" cy="459.0" r="2.9"/><circle cx="380.0" cy="458.9" r="2.9"/><circle cx="360.5" cy="461.2" r="2.9"/><circle cx="361.8" cy="461.2" r="2.9"/><circle cx="363.1" cy="461.1" r="2.9"/><circle cx="364.4" cy="461.1" r="2.9"/><circle cx="365.7" cy="461.0" r="2.9"/><circle cx="367.0" cy="461.0" r="2.9"/><circle cx="368.3" cy="460.9" r="2.9"/><circle cx="369.6" cy="460.9" r="2.9"/><circle cx="370.9" cy="460.8" r="2.9"/><circle cx="372.2" cy="460.8" r="2.9"/><circle cx="373.5" cy="460.7" r="2.9"/><circle cx="374.8" cy="460.7" r="2.9"/><circle cx="376.1" cy="460.6" r="2.9"/><circle cx="377.4" cy="460.6" r="2.9"/><circle cx="378.7" cy="460.5" r="2.9"/><circle cx="380.0" cy="460.4" r="2.9"/><circle cx="372.5" cy="449.9" r="2.9"/><circle cx="374.3" cy="449.6" r="2.9"/><circle cx="376.1" cy="449.3" r="2.9"/><circle cx="378.0" cy="449.0" r="2.9"/><circle cx="379.8" cy="448.7" r="2.9"/><circle cx="381.6" cy="448.4" r="2.9"/><circle cx="369.0" cy="456.0" r="2.9"/><circle cx="370.7" cy="454.3" r="2.9"/><circle cx="372.3" cy="452.7" r="2.9"/><circle cx="374.0" cy="451.0" r="2.9"/><circle cx="375.6" cy="421.2" r="2.9"/><circle cx="377.6" cy="422.0" r="2.9"/><circle cx="379.6" cy="422.9" r="2.9"/><circle cx="381.6" cy="423.7" r="2.9"/><circle cx="383.6" cy="424.5" r="2.9"/><circle cx="385.7" cy="425.4" r="2.9"/><circle cx="387.7" cy="426.2" r="2.9"/><circle cx="389.7" cy="427.0" r="2.9"/><circle cx="391.7" cy="427.9" r="2.9"/><circle cx="393.7" cy="428.7" r="2.9"/><circle cx="393.7" cy="418.9" r="2.9"/><circle cx="394.5" cy="422.0" r="2.9"/><circle cx="392.5" cy="424.5" r="2.9"/><circle cx="384.6" cy="434.0" r="2.9"/><circle cx="385.8" cy="433.9" r="2.9"/><circle cx="387.1" cy="433.7" r="2.9"/><circle cx="388.3" cy="433.6" r="2.9"/><circle cx="389.6" cy="433.4" r="2.9"/><circle cx="390.8" cy="433.3" r="2.9"/><circle cx="392.1" cy="433.1" r="2.9"/><circle cx="393.3" cy="433.0" r="2.9"/><circle cx="394.6" cy="432.8" r="2.9"/><circle cx="395.8" cy="432.7" r="2.9"/><circle cx="397.1" cy="432.5" r="2.9"/><circle cx="398.3" cy="432.4" r="2.9"/><circle cx="399.6" cy="432.2" r="2.9"/><circle cx="400.8" cy="432.1" r="2.9"/><circle cx="402.1" cy="431.9" r="2.9"/><circle cx="403.3" cy="431.8" r="2.9"/><circle cx="404.6" cy="431.6" r="2.9"/><circle cx="405.8" cy="431.5" r="2.9"/><circle cx="384.6" cy="436.5" r="2.9"/><circle cx="385.8" cy="436.4" r="2.9"/><circle cx="387.1" cy="436.2" r="2.9"/><circle cx="388.3" cy="436.1" r="2.9"/><circle cx="389.6" cy="435.9" r="2.9"/><circle cx="390.8" cy="435.8" r="2.9"/><circle cx="392.1" cy="435.6" r="2.9"/><circle cx="393.3" cy="435.5" r="2.9"/><circle cx="394.6" cy="435.3" r="2.9"/><circle cx="395.8" cy="435.2" r="2.9"/><circle cx="397.1" cy="435.0" r="2.9"/><circle cx="398.3" cy="434.9" r="2.9"/><circle cx="399.6" cy="434.7" r="2.9"/><circle cx="400.8" cy="434.6" r="2.9"/><circle cx="402.1" cy="434.4" r="2.9"/><circle cx="403.3" cy="434.3" r="2.9"/><circle cx="404.6" cy="434.1" r="2.9"/><circle cx="405.8" cy="434.0" r="2.9"/><circle cx="384.6" cy="439.0" r="2.9"/><circle cx="385.8" cy="438.9" r="2.9"/><circle cx="387.1" cy="438.7" r="2.9"/><circle cx="388.3" cy="438.6" r="2.9"/><circle cx="389.6" cy="438.4" r="2.9"/><circle cx="390.8" cy="438.3" r="2.9"/><circle cx="392.1" cy="438.1" r="2.9"/><circle cx="393.3" cy="438.0" r="2.9"/><circle cx="394.6" cy="437.8" r="2.9"/><circle cx="395.8" cy="437.7" r="2.9"/><circle cx="397.1" cy="437.5" r="2.9"/><circle cx="398.3" cy="437.4" r="2.9"/><circle cx="399.6" cy="437.2" r="2.9"/><circle cx="400.8" cy="437.1" r="2.9"/><circle cx="402.1" cy="436.9" r="2.9"/><circle cx="403.3" cy="436.8" r="2.9"/><circle cx="404.6" cy="436.6" r="2.9"/><circle cx="405.8" cy="436.5" r="2.9"/><circle cx="404.0" cy="428.0" r="2.9"/><circle cx="406.0" cy="430.0" r="2.9"/><circle cx="403.0" cy="431.0" r="2.9"/><circle cx="386.6" cy="499.2" r="2.9"/><circle cx="388.6" cy="499.2" r="2.9"/><circle cx="390.6" cy="499.1" r="2.9"/><circle cx="392.7" cy="499.1" r="2.9"/><circle cx="394.7" cy="499.1" r="2.9"/><circle cx="396.7" cy="499.0" r="2.9"/><circle cx="398.7" cy="499.0" r="2.9"/><circle cx="400.8" cy="499.0" r="2.9"/><circle cx="402.8" cy="498.9" r="2.9"/><circle cx="404.8" cy="498.9" r="2.9"/><circle cx="386.6" cy="500.0" r="2.9"/><circle cx="388.6" cy="500.0" r="2.9"/><circle cx="390.6" cy="499.9" r="2.9"/><circle cx="392.7" cy="499.9" r="2.9"/><circle cx="394.7" cy="499.9" r="2.9"/><circle cx="396.7" cy="499.8" r="2.9"/><circle cx="398.7" cy="499.8" r="2.9"/><circle cx="400.8" cy="499.8" r="2.9"/><circle cx="402.8" cy="499.7" r="2.9"/><circle cx="404.8" cy="499.7" r="2.9"/><circle cx="448.6" cy="516.6" r="2.9"/><circle cx="450.3" cy="516.1" r="2.9"/><circle cx="452.0" cy="515.7" r="2.9"/><circle cx="453.8" cy="515.2" r="2.9"/><circle cx="455.5" cy="514.8" r="2.9"/><circle cx="457.2" cy="514.3" r="2.9"/><circle cx="458.9" cy="513.9" r="2.9"/><circle cx="460.6" cy="513.4" r="2.9"/><circle cx="462.3" cy="513.0" r="2.9"/><circle cx="464.1" cy="512.5" r="2.9"/><circle cx="465.8" cy="512.1" r="2.9"/><circle cx="467.5" cy="511.6" r="2.9"/><circle cx="448.6" cy="517.4" r="2.9"/><circle cx="450.3" cy="516.9" r="2.9"/><circle cx="452.0" cy="516.5" r="2.9"/><circle cx="453.8" cy="516.0" r="2.9"/><circle cx="455.5" cy="515.6" r="2.9"/><circle cx="457.2" cy="515.1" r="2.9"/><circle cx="458.9" cy="514.7" r="2.9"/><circle cx="460.6" cy="514.2" r="2.9"/><circle cx="462.3" cy="513.8" r="2.9"/><circle cx="464.1" cy="513.3" r="2.9"/><circle cx="465.8" cy="512.9" r="2.9"/><circle cx="467.5" cy="512.4" r="2.9"/><circle cx="567.7" cy="429.5" r="2.9"/><circle cx="567.4" cy="433.0" r="2.9"/><circle cx="567.0" cy="436.5" r="2.9"/><circle cx="566.5" cy="440.0" r="2.9"/><circle cx="566.0" cy="443.5" r="2.9"/><circle cx="565.6" cy="447.0" r="2.9"/><circle cx="565.2" cy="450.5" r="2.9"/><circle cx="564.8" cy="454.0" r="2.9"/><circle cx="564.5" cy="457.5" r="2.9"/><circle cx="563.5" cy="459.5" r="2.9"/><circle cx="559.5" cy="458.0" r="2.9"/><circle cx="557.6" cy="456.5" r="2.9"/></g>
<g fill="none" stroke="#ff2020" stroke-width="0.75"><rect x="123.5" y="741.5" width="6" height="6"/><rect x="126.5" y="740.5" width="6" height="6"/><rect x="128.5" y="738.5" width="6" height="6"/><rect x="131.5" y="737.5" width="6" height="6"/><rect x="133.5" y="735.5" width="6" height="6"/><rect x="136.5" y="733.5" width="6" height="6"/><rect x="152.5" y="636.5" width="6" height="6"/><rect x="196.5" y="624.5" width="6" height="6"/><rect x="199.5" y="623.5" width="6" height="6"/><rect x="201.5" y="623.5" width="6" height="6"/><rect x="204.5" y="623.5" width="6" height="6"/><rect x="207.5" y="623.5" width="6" height="6"/><rect x="209.5" y="622.5" width="6" height="6"/><rect x="212.5" y="622.5" width="6" height="6"/><rect x="166.5" y="651.5" width="6" height="6"/><rect x="184.5" y="667.5" width="6" height="6"/><rect x="189.5" y="678.5" width="6" height="6"/><rect x="195.5" y="681.5" width="6" height="6"/><rect x="200.5" y="684.5" width="6" height="6"/><rect x="206.5" y="687.5" width="6" height="6"/><rect x="183.5" y="687.5" width="6" height="6"/><rect x="188.5" y="687.5" width="6" height="6"/><rect x="171.5" y="677.5" width="6" height="6"/><rect x="172.5" y="676.5" width="6" height="6"/><rect x="181.5" y="668.5" width="6" height="6"/><rect x="185.5" y="657.5" width="6" height="6"/><rect x="188.5" y="657.5" width="6" height="6"/><rect x="191.5" y="658.5" width="6" height="6"/><rect x="193.5" y="658.5" width="6" height="6"/><rect x="196.5" y="659.5" width="6" height="6"/><rect x="199.5" y="660.5" width="6" height="6"/><rect x="202.5" y="660.5" width="6" height="6"/><rect x="186.5" y="658.5" width="6" height="6"/><rect x="189.5" y="659.5" width="6" height="6"/><rect x="192.5" y="659.5" width="6" height="6"/><rect x="195.5" y="659.5" width="6" height="6"/><rect x="198.5" y="660.5" width="6" height="6"/><rect x="202.5" y="660.5" width="6" height="6"/><rect x="145.5" y="668.5" width="6" height="6"/><rect x="171.5" y="677.5" width="6" height="6"/><rect x="183.5" y="668.5" width="6" height="6"/><rect x="189.5" y="679.5" width="6" height="6"/><rect x="195.5" y="681.5" width="6" height="6"/><rect x="199.5" y="684.5" width="6" height="6"/><rect x="206.5" y="688.5" width="6" height="6"/><rect x="166.5" y="691.5" width="6" height="6"/><rect x="195.5" y="681.5" width="6" height="6"/><rect x="206.5" y="688.5" width="6" height="6"/><rect x="146.5" y="667.5" width="6" height="6"/><rect x="166.5" y="691.5" width="6" height="6"/><rect x="181.5" y="688.5" width="6" height="6"/><rect x="184.5" y="688.5" width="6" height="6"/><rect x="188.5" y="688.5" width="6" height="6"/><rect x="191.5" y="688.5" width="6" height="6"/><rect x="204.5" y="701.5" width="6" height="6"/><rect x="205.5" y="701.5" width="6" height="6"/><rect x="206.5" y="701.5" width="6" height="6"/><rect x="207.5" y="701.5" width="6" height="6"/><rect x="209.5" y="701.5" width="6" height="6"/><rect x="210.5" y="701.5" width="6" height="6"/><rect x="211.5" y="701.5" width="6" height="6"/><rect x="213.5" y="701.5" width="6" height="6"/><rect x="214.5" y="701.5" width="6" height="6"/><rect x="215.5" y="701.5" width="6" height="6"/><rect x="216.5" y="701.5" width="6" height="6"/><rect x="218.5" y="701.5" width="6" height="6"/><rect x="219.5" y="701.5" width="6" height="6"/><rect x="220.5" y="701.5" width="6" height="6"/><rect x="222.5" y="701.5" width="6" height="6"/><rect x="223.5" y="701.5" width="6" height="6"/><rect x="224.5" y="701.5" width="6" height="6"/><rect x="226.5" y="701.5" width="6" height="6"/><rect x="227.5" y="701.5" width="6" height="6"/><rect x="228.5" y="701.5" width="6" height="6"/><rect x="231.5" y="720.5" width="6" height="6"/><rect x="253.5" y="720.5" width="6" height="6"/><rect x="249.5" y="739.5" width="6" height="6"/><rect x="280.5" y="750.5" width="6" height="6"/><rect x="306.5" y="779.5" width="6" height="6"/><rect x="333.5" y="808.5" width="6" height="6"/><rect x="360.5" y="837.5" width="6" height="6"/><rect x="227.5" y="690.5" width="6" height="6"/><rect x="215.5" y="704.5" width="6" height="6"/></g>
<g fill="none" stroke="#00b0f0" stroke-width="0.9"><circle cx="99.2" cy="638.2" r="2.9"/><circle cx="101.7" cy="639.8" r="2.9"/><circle cx="104.3" cy="641.4" r="2.9"/><circle cx="106.8" cy="643.1" r="2.9"/><circle cx="109.3" cy="644.7" r="2.9"/><circle cx="111.8" cy="646.3" r="2.9"/><circle cx="114.4" cy="647.9" r="2.9"/><circle cx="116.9" cy="649.5" r="2.9"/><circle cx="119.4" cy="651.1" r="2.9"/><circle cx="121.9" cy="652.8" r="2.9"/><circle cx="124.5" cy="654.4" r="2.9"/><circle cx="127.0" cy="656.0" r="2.9"/><circle cx="101.0" cy="646.0" r="2.9"/><circle cx="103.4" cy="647.6" r="2.9"/><circle cx="105.9" cy="649.3" r="2.9"/><circle cx="108.3" cy="650.9" r="2.9"/><circle cx="110.8" cy="652.6" r="2.9"/><circle cx="113.2" cy="654.2" r="2.9"/><circle cx="115.6" cy="655.8" r="2.9"/><circle cx="118.1" cy="657.5" r="2.9"/><circle cx="120.5" cy="659.1" r="2.9"/><circle cx="123.0" cy="660.8" r="2.9"/><circle cx="125.4" cy="662.4" r="2.9"/><circle cx="130.4" cy="656.3" r="2.9"/><circle cx="133.2" cy="658.1" r="2.9"/><circle cx="135.9" cy="659.8" r="2.9"/><circle cx="138.7" cy="661.6" r="2.9"/><circle cx="141.5" cy="663.4" r="2.9"/><circle cx="95.2" cy="677.5" r="2.9"/><circle cx="97.4" cy="677.2" r="2.9"/><circle cx="99.5" cy="676.9" r="2.9"/><circle cx="101.7" cy="676.6" r="2.9"/><circle cx="103.9" cy="676.2" r="2.9"/><circle cx="106.0" cy="675.9" r="2.9"/><circle cx="108.2" cy="675.6" r="2.9"/><circle cx="110.4" cy="675.3" r="2.9"/><circle cx="112.6" cy="675.0" r="2.9"/><circle cx="114.7" cy="674.7" r="2.9"/><circle cx="116.9" cy="674.3" r="2.9"/><circle cx="119.1" cy="674.0" r="2.9"/><circle cx="121.2" cy="673.7" r="2.9"/><circle cx="123.4" cy="673.4" r="2.9"/><circle cx="96.0" cy="676.0" r="2.9"/><circle cx="99.7" cy="675.4" r="2.9"/><circle cx="103.4" cy="674.7" r="2.9"/><circle cx="107.1" cy="674.1" r="2.9"/><circle cx="110.9" cy="673.4" r="2.9"/><circle cx="114.6" cy="672.8" r="2.9"/><circle cx="118.3" cy="672.1" r="2.9"/><circle cx="122.0" cy="671.5" r="2.9"/><circle cx="124.2" cy="711.7" r="2.9"/><circle cx="127.1" cy="710.4" r="2.9"/><circle cx="130.0" cy="709.2" r="2.9"/><circle cx="132.9" cy="707.9" r="2.9"/><circle cx="135.8" cy="706.6" r="2.9"/><circle cx="147.0" cy="650.6" r="2.9"/><circle cx="149.7" cy="650.0" r="2.9"/><circle cx="152.4" cy="649.5" r="2.9"/><circle cx="155.1" cy="648.9" r="2.9"/><circle cx="157.8" cy="648.3" r="2.9"/><circle cx="160.4" cy="647.8" r="2.9"/><circle cx="163.1" cy="647.2" r="2.9"/><circle cx="165.8" cy="646.6" r="2.9"/><circle cx="168.5" cy="646.1" r="2.9"/><circle cx="171.2" cy="645.5" r="2.9"/><circle cx="183.0" cy="636.9" r="2.9"/><circle cx="188.4" cy="638.2" r="2.9"/><circle cx="193.8" cy="639.4" r="2.9"/><circle cx="199.2" cy="640.7" r="2.9"/><circle cx="204.7" cy="642.0" r="2.9"/><circle cx="210.1" cy="643.2" r="2.9"/><circle cx="215.5" cy="644.5" r="2.9"/><circle cx="165.2" cy="652.6" r="2.9"/><circle cx="167.8" cy="652.9" r="2.9"/><circle cx="170.4" cy="653.2" r="2.9"/><circle cx="172.9" cy="653.4" r="2.9"/><circle cx="175.5" cy="653.7" r="2.9"/><circle cx="178.1" cy="654.0" r="2.9"/><circle cx="180.7" cy="654.3" r="2.9"/><circle cx="183.2" cy="654.5" r="2.9"/><circle cx="185.8" cy="654.8" r="2.9"/><circle cx="188.4" cy="655.1" r="2.9"/><circle cx="165.2" cy="657.6" r="2.9"/><circle cx="167.7" cy="657.7" r="2.9"/><circle cx="170.1" cy="657.8" r="2.9"/><circle cx="172.6" cy="657.9" r="2.9"/><circle cx="175.1" cy="658.0" r="2.9"/><circle cx="177.5" cy="658.2" r="2.9"/><circle cx="180.0" cy="658.3" r="2.9"/><circle cx="182.5" cy="658.4" r="2.9"/><circle cx="184.9" cy="658.5" r="2.9"/><circle cx="187.4" cy="658.6" r="2.9"/><circle cx="160.0" cy="668.2" r="2.9"/><circle cx="162.8" cy="667.5" r="2.9"/><circle cx="165.5" cy="666.7" r="2.9"/><circle cx="168.3" cy="666.0" r="2.9"/><circle cx="171.1" cy="665.3" r="2.9"/><circle cx="173.8" cy="664.6" r="2.9"/><circle cx="176.6" cy="663.8" r="2.9"/><circle cx="179.3" cy="663.1" r="2.9"/><circle cx="182.1" cy="662.4" r="2.9"/><circle cx="184.9" cy="661.7" r="2.9"/><circle cx="187.6" cy="660.9" r="2.9"/><circle cx="190.4" cy="660.2" r="2.9"/><circle cx="150.0" cy="675.0" r="2.9"/><circle cx="153.3" cy="673.8" r="2.9"/><circle cx="156.7" cy="672.7" r="2.9"/><circle cx="160.0" cy="671.5" r="2.9"/><circle cx="163.3" cy="670.3" r="2.9"/><circle cx="166.7" cy="669.2" r="2.9"/><circle cx="170.0" cy="668.0" r="2.9"/><circle cx="173.3" cy="666.8" r="2.9"/><circle cx="176.7" cy="665.7" r="2.9"/><circle cx="180.0" cy="664.5" r="2.9"/><circle cx="183.3" cy="663.3" r="2.9"/><circle cx="186.7" cy="662.2" r="2.9"/><circle cx="190.0" cy="661.0" r="2.9"/><circle cx="153.0" cy="678.0" r="2.9"/><circle cx="156.5" cy="676.7" r="2.9"/><circle cx="160.0" cy="675.4" r="2.9"/><circle cx="163.5" cy="674.1" r="2.9"/><circle cx="167.0" cy="672.8" r="2.9"/><circle cx="170.5" cy="671.5" r="2.9"/><circle cx="174.0" cy="670.2" r="2.9"/><circle cx="177.5" cy="668.9" r="2.9"/><circle cx="181.0" cy="667.6" r="2.9"/><circle cx="184.5" cy="666.3" r="2.9"/><circle cx="188.0" cy="665.0" r="2.9"/><circle cx="150.0" cy="676.0" r="2.9"/><circle cx="153.0" cy="676.2" r="2.9"/><circle cx="156.0" cy="676.5" r="2.9"/><circle cx="159.0" cy="676.7" r="2.9"/><circle cx="162.0" cy="677.0" r="2.9"/><circle cx="165.0" cy="677.2" r="2.9"/><circle cx="168.0" cy="677.4" r="2.9"/><circle cx="171.0" cy="677.7" r="2.9"/><circle cx="174.0" cy="677.9" r="2.9"/><circle cx="177.0" cy="678.1" r="2.9"/><circle cx="180.0" cy="678.4" r="2.9"/><circle cx="183.0" cy="678.6" r="2.9"/><circle cx="186.0" cy="678.9" r="2.9"/><circle cx="189.0" cy="679.1" r="2.9"/><circle cx="192.0" cy="679.3" r="2.9"/><circle cx="195.0" cy="679.6" r="2.9"/><circle cx="198.0" cy="679.8" r="2.9"/><circle cx="201.0" cy="680.0" r="2.9"/><circle cx="204.0" cy="680.3" r="2.9"/><circle cx="207.0" cy="680.5" r="2.9"/><circle cx="210.0" cy="680.8" r="2.9"/><circle cx="213.0" cy="681.0" r="2.9"/><circle cx="152.0" cy="679.0" r="2.9"/><circle cx="155.5" cy="679.2" r="2.9"/><circle cx="159.1" cy="679.4" r="2.9"/><circle cx="162.6" cy="679.6" r="2.9"/><circle cx="166.1" cy="679.8" r="2.9"/><circle cx="169.7" cy="680.0" r="2.9"/><circle cx="173.2" cy="680.2" r="2.9"/><circle cx="176.7" cy="680.4" r="2.9"/><circle cx="180.3" cy="680.6" r="2.9"/><circle cx="183.8" cy="680.8" r="2.9"/><circle cx="187.3" cy="681.0" r="2.9"/><circle cx="190.9" cy="681.2" r="2.9"/><circle cx="194.4" cy="681.4" r="2.9"/><circle cx="197.9" cy="681.6" r="2.9"/><circle cx="201.5" cy="681.8" r="2.9"/><circle cx="205.0" cy="682.0" r="2.9"/><circle cx="191.2" cy="667.4" r="2.9"/><circle cx="194.2" cy="668.2" r="2.9"/><circle cx="197.2" cy="668.9" r="2.9"/><circle cx="200.2" cy="669.7" r="2.9"/><circle cx="203.3" cy="670.4" r="2.9"/><circle cx="206.3" cy="671.2" r="2.9"/><circle cx="209.3" cy="671.9" r="2.9"/><circle cx="212.3" cy="672.7" r="2.9"/><circle cx="168.0" cy="673.5" r="2.9"/><circle cx="171.4" cy="673.9" r="2.9"/><circle cx="174.8" cy="674.3" r="2.9"/><circle cx="178.2" cy="674.8" r="2.9"/><circle cx="181.5" cy="675.2" r="2.9"/><circle cx="184.9" cy="675.6" r="2.9"/><circle cx="188.3" cy="676.0" r="2.9"/><circle cx="191.7" cy="676.5" r="2.9"/><circle cx="195.1" cy="676.9" r="2.9"/><circle cx="198.5" cy="677.3" r="2.9"/><circle cx="201.8" cy="677.7" r="2.9"/><circle cx="205.2" cy="678.2" r="2.9"/><circle cx="208.6" cy="678.6" r="2.9"/><circle cx="212.0" cy="679.0" r="2.9"/><circle cx="148.0" cy="690.4" r="2.9"/><circle cx="150.8" cy="689.5" r="2.9"/><circle cx="153.5" cy="688.5" r="2.9"/><circle cx="156.2" cy="687.6" r="2.9"/><circle cx="159.0" cy="686.7" r="2.9"/><circle cx="161.8" cy="685.8" r="2.9"/><circle cx="164.5" cy="684.9" r="2.9"/><circle cx="167.2" cy="683.9" r="2.9"/><circle cx="170.0" cy="683.0" r="2.9"/><circle cx="150.0" cy="693.0" r="2.9"/><circle cx="152.8" cy="692.1" r="2.9"/><circle cx="155.5" cy="691.2" r="2.9"/><circle cx="158.2" cy="690.4" r="2.9"/><circle cx="161.0" cy="689.5" r="2.9"/><circle cx="163.8" cy="688.6" r="2.9"/><circle cx="166.5" cy="687.8" r="2.9"/><circle cx="169.2" cy="686.9" r="2.9"/><circle cx="172.0" cy="686.0" r="2.9"/><circle cx="164.3" cy="686.2" r="2.9"/><circle cx="166.2" cy="686.8" r="2.9"/><circle cx="168.8" cy="687.4" r="2.9"/><circle cx="171.2" cy="687.7" r="2.9"/><circle cx="173.6" cy="688.1" r="2.9"/><circle cx="175.6" cy="688.4" r="2.9"/><circle cx="178.5" cy="689.3" r="2.9"/><circle cx="180.5" cy="689.8" r="2.9"/><circle cx="183.0" cy="689.8" r="2.9"/><circle cx="185.5" cy="690.6" r="2.9"/><circle cx="187.9" cy="691.1" r="2.9"/><circle cx="189.8" cy="691.6" r="2.9"/><circle cx="192.5" cy="692.2" r="2.9"/><circle cx="194.6" cy="692.4" r="2.9"/><circle cx="197.2" cy="692.7" r="2.9"/><circle cx="199.6" cy="693.5" r="2.9"/><circle cx="201.5" cy="693.9" r="2.9"/><circle cx="204.1" cy="694.1" r="2.9"/><circle cx="206.6" cy="695.1" r="2.9"/><circle cx="208.9" cy="695.0" r="2.9"/><circle cx="160.0" cy="694.2" r="2.9"/><circle cx="162.3" cy="694.5" r="2.9"/><circle cx="164.9" cy="694.7" r="2.9"/><circle cx="167.0" cy="695.7" r="2.9"/><circle cx="169.9" cy="695.7" r="2.9"/><circle cx="172.1" cy="696.7" r="2.9"/><circle cx="174.6" cy="697.1" r="2.9"/><circle cx="176.6" cy="697.4" r="2.9"/><circle cx="179.0" cy="698.0" r="2.9"/><circle cx="181.5" cy="698.5" r="2.9"/><circle cx="183.9" cy="698.6" r="2.9"/><circle cx="186.2" cy="698.9" r="2.9"/><circle cx="188.3" cy="699.9" r="2.9"/><circle cx="190.7" cy="700.2" r="2.9"/><circle cx="193.2" cy="700.5" r="2.9"/><circle cx="195.5" cy="701.3" r="2.9"/><circle cx="204.5" cy="664.2" r="2.9"/><circle cx="211.5" cy="669.2" r="2.9"/><circle cx="218.6" cy="675.3" r="2.9"/><circle cx="211.4" cy="669.4" r="2.9"/><circle cx="219.0" cy="675.1" r="2.9"/><circle cx="226.5" cy="680.8" r="2.9"/><circle cx="234.1" cy="685.8" r="2.9"/><circle cx="242.9" cy="692.7" r="2.9"/><circle cx="251.1" cy="697.8" r="2.9"/><circle cx="199.4" cy="712.3" r="2.9"/><circle cx="192.5" cy="705.3" r="2.9"/><circle cx="200.0" cy="712.7" r="2.9"/><circle cx="222.7" cy="676.4" r="2.9"/><circle cx="226.2" cy="676.2" r="2.9"/><circle cx="229.6" cy="676.0" r="2.9"/><circle cx="233.1" cy="675.9" r="2.9"/><circle cx="236.6" cy="675.7" r="2.9"/><circle cx="190.0" cy="697.8" r="2.9"/><circle cx="192.4" cy="697.8" r="2.9"/><circle cx="194.8" cy="697.9" r="2.9"/><circle cx="197.3" cy="697.9" r="2.9"/><circle cx="199.7" cy="698.0" r="2.9"/><circle cx="202.1" cy="698.0" r="2.9"/><circle cx="204.5" cy="698.1" r="2.9"/><circle cx="207.0" cy="698.1" r="2.9"/><circle cx="209.4" cy="698.2" r="2.9"/><circle cx="211.8" cy="698.2" r="2.9"/><circle cx="214.2" cy="698.3" r="2.9"/><circle cx="216.7" cy="698.3" r="2.9"/><circle cx="219.1" cy="698.4" r="2.9"/><circle cx="221.5" cy="698.4" r="2.9"/><circle cx="192.0" cy="670.0" r="2.9"/><circle cx="194.4" cy="671.1" r="2.9"/><circle cx="196.9" cy="672.2" r="2.9"/><circle cx="199.3" cy="673.3" r="2.9"/><circle cx="201.8" cy="674.4" r="2.9"/><circle cx="204.2" cy="675.6" r="2.9"/><circle cx="206.7" cy="676.7" r="2.9"/><circle cx="209.1" cy="677.8" r="2.9"/><circle cx="211.6" cy="678.9" r="2.9"/><circle cx="214.0" cy="680.0" r="2.9"/></g>
<g fill="none" stroke="#ff2020" stroke-width="0.75"><rect x="491.5" y="694.5" width="6" height="6"/><rect x="513.5" y="713.5" width="6" height="6"/><rect x="546.5" y="735.5" width="6" height="6"/><rect x="549.5" y="737.5" width="6" height="6"/><rect x="552.5" y="738.5" width="6" height="6"/><rect x="556.5" y="739.5" width="6" height="6"/><rect x="559.5" y="740.5" width="6" height="6"/><rect x="563.5" y="741.5" width="6" height="6"/><rect x="566.5" y="742.5" width="6" height="6"/><rect x="570.5" y="743.5" width="6" height="6"/><rect x="573.5" y="744.5" width="6" height="6"/><rect x="491.5" y="763.5" width="6" height="6"/><rect x="494.5" y="763.5" width="6" height="6"/><rect x="497.5" y="763.5" width="6" height="6"/><rect x="500.5" y="763.5" width="6" height="6"/><rect x="503.5" y="763.5" width="6" height="6"/><rect x="506.5" y="764.5" width="6" height="6"/><rect x="509.5" y="764.5" width="6" height="6"/><rect x="513.5" y="763.5" width="6" height="6"/><rect x="517.5" y="762.5" width="6" height="6"/><rect x="520.5" y="762.5" width="6" height="6"/><rect x="524.5" y="761.5" width="6" height="6"/><rect x="527.5" y="760.5" width="6" height="6"/><rect x="531.5" y="759.5" width="6" height="6"/><rect x="477.5" y="742.5" width="6" height="6"/><rect x="482.5" y="743.5" width="6" height="6"/><rect x="487.5" y="745.5" width="6" height="6"/><rect x="492.5" y="747.5" width="6" height="6"/><rect x="497.5" y="748.5" width="6" height="6"/><rect x="502.5" y="750.5" width="6" height="6"/><rect x="507.5" y="752.5" width="6" height="6"/><rect x="512.5" y="753.5" width="6" height="6"/><rect x="517.5" y="755.5" width="6" height="6"/><rect x="522.5" y="757.5" width="6" height="6"/><rect x="591.5" y="754.5" width="6" height="6"/><rect x="593.5" y="761.5" width="6" height="6"/><rect x="600.5" y="764.5" width="6" height="6"/><rect x="605.5" y="766.5" width="6" height="6"/><rect x="612.5" y="753.5" width="6" height="6"/><rect x="665.5" y="710.5" width="6" height="6"/><rect x="677.5" y="716.5" width="6" height="6"/><rect x="690.5" y="722.5" width="6" height="6"/><rect x="702.5" y="729.5" width="6" height="6"/><rect x="715.5" y="735.5" width="6" height="6"/><rect x="719.5" y="737.5" width="6" height="6"/><rect x="724.5" y="739.5" width="6" height="6"/><rect x="728.5" y="741.5" width="6" height="6"/><rect x="732.5" y="743.5" width="6" height="6"/><rect x="737.5" y="745.5" width="6" height="6"/><rect x="741.5" y="747.5" width="6" height="6"/><rect x="699.5" y="750.5" width="6" height="6"/><rect x="704.5" y="752.5" width="6" height="6"/><rect x="708.5" y="753.5" width="6" height="6"/><rect x="713.5" y="755.5" width="6" height="6"/><rect x="717.5" y="756.5" width="6" height="6"/><rect x="722.5" y="758.5" width="6" height="6"/><rect x="708.5" y="775.5" width="6" height="6"/><rect x="711.5" y="776.5" width="6" height="6"/><rect x="715.5" y="778.5" width="6" height="6"/><rect x="718.5" y="779.5" width="6" height="6"/><rect x="722.5" y="780.5" width="6" height="6"/><rect x="725.5" y="781.5" width="6" height="6"/><rect x="675.5" y="787.5" width="6" height="6"/><rect x="676.5" y="787.5" width="6" height="6"/><rect x="678.5" y="788.5" width="6" height="6"/><rect x="679.5" y="788.5" width="6" height="6"/><rect x="681.5" y="789.5" width="6" height="6"/><rect x="682.5" y="789.5" width="6" height="6"/><rect x="684.5" y="790.5" width="6" height="6"/><rect x="685.5" y="790.5" width="6" height="6"/><rect x="687.5" y="791.5" width="6" height="6"/><rect x="688.5" y="792.5" width="6" height="6"/><rect x="690.5" y="792.5" width="6" height="6"/><rect x="691.5" y="793.5" width="6" height="6"/><rect x="693.5" y="793.5" width="6" height="6"/><rect x="694.5" y="794.5" width="6" height="6"/><rect x="696.5" y="794.5" width="6" height="6"/><rect x="697.5" y="795.5" width="6" height="6"/><rect x="651.5" y="753.5" width="6" height="6"/><rect x="669.5" y="796.5" width="6" height="6"/><rect x="708.5" y="799.5" width="6" height="6"/><rect x="708.5" y="817.5" width="6" height="6"/><rect x="630.5" y="776.5" width="6" height="6"/><rect x="599.5" y="765.5" width="6" height="6"/><rect x="605.5" y="767.5" width="6" height="6"/><rect x="610.5" y="751.5" width="6" height="6"/><rect x="614.5" y="753.5" width="6" height="6"/><rect x="618.5" y="754.5" width="6" height="6"/><rect x="622.5" y="756.5" width="6" height="6"/><rect x="626.5" y="757.5" width="6" height="6"/><rect x="630.5" y="759.5" width="6" height="6"/></g>
<g fill="none" stroke="#00b0f0" stroke-width="0.9"><circle cx="533.6" cy="625.1" r="2.9"/><circle cx="528.9" cy="639.2" r="2.9"/><circle cx="531.9" cy="653.7" r="2.9"/><circle cx="506.8" cy="679.1" r="2.9"/><circle cx="515.8" cy="681.9" r="2.9"/><circle cx="524.1" cy="684.9" r="2.9"/><circle cx="530.1" cy="682.5" r="2.9"/><circle cx="533.1" cy="687.5" r="2.9"/><circle cx="519.4" cy="697.6" r="2.9"/><circle cx="535.0" cy="713.7" r="2.9"/><circle cx="541.6" cy="711.3" r="2.9"/><circle cx="501.9" cy="726.2" r="2.9"/><circle cx="534.6" cy="730.9" r="2.9"/><circle cx="569.1" cy="717.5" r="2.9"/><circle cx="576.7" cy="720.0" r="2.9"/><circle cx="584.2" cy="721.9" r="2.9"/><circle cx="591.8" cy="723.8" r="2.9"/><circle cx="599.3" cy="725.1" r="2.9"/><circle cx="606.9" cy="727.0" r="2.9"/><circle cx="599.3" cy="733.9" r="2.9"/><circle cx="606.3" cy="737.7" r="2.9"/><circle cx="596.8" cy="738.3" r="2.9"/><circle cx="488.4" cy="742.1" r="2.9"/><circle cx="490.7" cy="743.0" r="2.9"/><circle cx="493.2" cy="743.7" r="2.9"/><circle cx="494.9" cy="744.5" r="2.9"/><circle cx="497.2" cy="745.3" r="2.9"/><circle cx="499.4" cy="746.1" r="2.9"/><circle cx="501.9" cy="746.8" r="2.9"/><circle cx="504.0" cy="747.6" r="2.9"/><circle cx="506.0" cy="747.9" r="2.9"/><circle cx="508.4" cy="748.9" r="2.9"/><circle cx="510.0" cy="749.6" r="2.9"/><circle cx="512.4" cy="750.2" r="2.9"/><circle cx="514.9" cy="750.9" r="2.9"/><circle cx="517.0" cy="752.0" r="2.9"/><circle cx="482.9" cy="742.0" r="2.9"/><circle cx="485.1" cy="742.6" r="2.9"/><circle cx="487.4" cy="743.5" r="2.9"/><circle cx="489.4" cy="744.0" r="2.9"/><circle cx="491.5" cy="744.9" r="2.9"/><circle cx="493.9" cy="745.7" r="2.9"/><circle cx="496.0" cy="746.0" r="2.9"/><circle cx="497.9" cy="746.8" r="2.9"/><circle cx="500.2" cy="747.8" r="2.9"/><circle cx="502.4" cy="748.7" r="2.9"/><circle cx="504.3" cy="749.4" r="2.9"/><circle cx="506.7" cy="749.9" r="2.9"/><circle cx="509.1" cy="750.5" r="2.9"/><circle cx="511.0" cy="751.6" r="2.9"/><circle cx="513.2" cy="752.6" r="2.9"/><circle cx="515.4" cy="753.3" r="2.9"/><circle cx="517.4" cy="753.8" r="2.9"/><circle cx="492.1" cy="748.0" r="2.9"/><circle cx="493.9" cy="748.5" r="2.9"/><circle cx="496.5" cy="749.3" r="2.9"/><circle cx="498.6" cy="750.0" r="2.9"/><circle cx="501.0" cy="750.6" r="2.9"/><circle cx="503.0" cy="751.6" r="2.9"/><circle cx="505.2" cy="752.2" r="2.9"/><circle cx="507.0" cy="753.2" r="2.9"/><circle cx="509.3" cy="753.9" r="2.9"/><circle cx="511.9" cy="754.7" r="2.9"/><circle cx="513.7" cy="755.5" r="2.9"/><circle cx="515.9" cy="755.9" r="2.9"/><circle cx="518.2" cy="756.9" r="2.9"/><circle cx="520.4" cy="757.6" r="2.9"/><circle cx="522.4" cy="758.5" r="2.9"/><circle cx="524.5" cy="759.1" r="2.9"/><circle cx="526.5" cy="759.6" r="2.9"/><circle cx="482.4" cy="748.1" r="2.9"/><circle cx="484.5" cy="749.3" r="2.9"/><circle cx="487.0" cy="749.6" r="2.9"/><circle cx="489.3" cy="750.4" r="2.9"/><circle cx="491.1" cy="751.4" r="2.9"/><circle cx="493.5" cy="751.9" r="2.9"/><circle cx="495.7" cy="752.8" r="2.9"/><circle cx="497.8" cy="753.9" r="2.9"/><circle cx="499.9" cy="754.1" r="2.9"/><circle cx="502.1" cy="755.1" r="2.9"/><circle cx="504.3" cy="756.1" r="2.9"/><circle cx="506.1" cy="756.7" r="2.9"/><circle cx="508.6" cy="757.7" r="2.9"/><circle cx="510.8" cy="758.3" r="2.9"/><circle cx="513.0" cy="758.8" r="2.9"/><circle cx="515.2" cy="759.8" r="2.9"/><circle cx="517.3" cy="760.3" r="2.9"/><circle cx="493.7" cy="754.2" r="2.9"/><circle cx="496.2" cy="755.0" r="2.9"/><circle cx="498.1" cy="756.1" r="2.9"/><circle cx="500.5" cy="756.9" r="2.9"/><circle cx="502.5" cy="757.5" r="2.9"/><circle cx="504.9" cy="758.5" r="2.9"/><circle cx="506.7" cy="759.2" r="2.9"/><circle cx="509.2" cy="759.8" r="2.9"/><circle cx="510.9" cy="760.3" r="2.9"/><circle cx="513.6" cy="761.2" r="2.9"/><circle cx="515.6" cy="761.9" r="2.9"/><circle cx="484.7" cy="753.6" r="2.9"/><circle cx="486.4" cy="754.0" r="2.9"/><circle cx="489.1" cy="755.0" r="2.9"/><circle cx="490.8" cy="755.9" r="2.9"/><circle cx="493.4" cy="756.5" r="2.9"/><circle cx="495.2" cy="757.2" r="2.9"/><circle cx="497.5" cy="758.3" r="2.9"/><circle cx="499.5" cy="759.0" r="2.9"/><circle cx="502.0" cy="759.7" r="2.9"/><circle cx="504.0" cy="760.1" r="2.9"/><circle cx="506.2" cy="761.1" r="2.9"/><circle cx="508.5" cy="761.7" r="2.9"/><circle cx="510.4" cy="762.4" r="2.9"/><circle cx="512.7" cy="763.2" r="2.9"/><circle cx="514.9" cy="764.2" r="2.9"/><circle cx="489.0" cy="761.3" r="2.9"/><circle cx="491.0" cy="761.5" r="2.9"/><circle cx="493.0" cy="762.6" r="2.9"/><circle cx="495.0" cy="763.4" r="2.9"/><circle cx="497.5" cy="764.3" r="2.9"/><circle cx="468.0" cy="743.3" r="2.9"/><circle cx="470.0" cy="740.3" r="2.9"/><circle cx="476.0" cy="739.3" r="2.9"/><circle cx="480.2" cy="737.3" r="2.9"/><circle cx="483.2" cy="734.3" r="2.9"/><circle cx="468.0" cy="754.4" r="2.9"/><circle cx="475.1" cy="753.4" r="2.9"/><circle cx="481.2" cy="749.4" r="2.9"/><circle cx="486.2" cy="760.5" r="2.9"/><circle cx="490.2" cy="762.5" r="2.9"/><circle cx="478.0" cy="746.0" r="2.9"/><circle cx="472.0" cy="748.0" r="2.9"/><circle cx="554.4" cy="739.8" r="2.9"/><circle cx="556.5" cy="740.8" r="2.9"/><circle cx="558.4" cy="741.6" r="2.9"/><circle cx="560.7" cy="742.4" r="2.9"/><circle cx="562.3" cy="743.4" r="2.9"/><circle cx="564.7" cy="744.1" r="2.9"/><circle cx="566.5" cy="745.0" r="2.9"/><circle cx="569.0" cy="746.4" r="2.9"/><circle cx="571.0" cy="747.1" r="2.9"/><circle cx="549.3" cy="739.8" r="2.9"/><circle cx="551.4" cy="740.7" r="2.9"/><circle cx="553.7" cy="741.8" r="2.9"/><circle cx="555.8" cy="742.8" r="2.9"/><circle cx="557.9" cy="743.9" r="2.9"/><circle cx="560.1" cy="744.5" r="2.9"/><circle cx="562.3" cy="745.9" r="2.9"/><circle cx="564.4" cy="746.6" r="2.9"/><circle cx="566.5" cy="747.8" r="2.9"/><circle cx="568.2" cy="748.6" r="2.9"/><circle cx="570.7" cy="749.6" r="2.9"/><circle cx="572.8" cy="750.4" r="2.9"/><circle cx="574.8" cy="751.1" r="2.9"/><circle cx="576.8" cy="752.1" r="2.9"/><circle cx="540.9" cy="739.9" r="2.9"/><circle cx="543.1" cy="741.1" r="2.9"/><circle cx="545.1" cy="742.1" r="2.9"/><circle cx="547.0" cy="742.9" r="2.9"/><circle cx="549.0" cy="743.9" r="2.9"/><circle cx="551.5" cy="744.6" r="2.9"/><circle cx="553.6" cy="746.1" r="2.9"/><circle cx="555.5" cy="746.6" r="2.9"/><circle cx="557.5" cy="747.9" r="2.9"/><circle cx="559.5" cy="748.8" r="2.9"/><circle cx="561.7" cy="749.7" r="2.9"/><circle cx="564.2" cy="750.7" r="2.9"/><circle cx="565.9" cy="751.5" r="2.9"/><circle cx="568.0" cy="752.6" r="2.9"/><circle cx="570.1" cy="753.1" r="2.9"/><circle cx="572.3" cy="754.0" r="2.9"/><circle cx="574.3" cy="755.3" r="2.9"/><circle cx="576.4" cy="756.0" r="2.9"/><circle cx="578.9" cy="757.0" r="2.9"/><circle cx="580.9" cy="758.2" r="2.9"/><circle cx="548.6" cy="746.3" r="2.9"/><circle cx="550.8" cy="747.4" r="2.9"/><circle cx="552.7" cy="748.0" r="2.9"/><circle cx="555.3" cy="748.7" r="2.9"/><circle cx="557.3" cy="750.2" r="2.9"/><circle cx="559.3" cy="750.6" r="2.9"/><circle cx="561.5" cy="751.7" r="2.9"/><circle cx="563.4" cy="753.0" r="2.9"/><circle cx="565.4" cy="753.6" r="2.9"/><circle cx="567.4" cy="754.6" r="2.9"/><circle cx="569.5" cy="755.7" r="2.9"/><circle cx="572.0" cy="756.3" r="2.9"/><circle cx="536.6" cy="743.4" r="2.9"/><circle cx="538.9" cy="744.6" r="2.9"/><circle cx="540.9" cy="745.1" r="2.9"/><circle cx="542.5" cy="746.3" r="2.9"/><circle cx="544.9" cy="747.0" r="2.9"/><circle cx="546.8" cy="748.3" r="2.9"/><circle cx="549.2" cy="748.8" r="2.9"/><circle cx="550.9" cy="750.1" r="2.9"/><circle cx="553.2" cy="750.7" r="2.9"/><circle cx="555.6" cy="751.8" r="2.9"/><circle cx="557.2" cy="752.8" r="2.9"/><circle cx="559.5" cy="753.9" r="2.9"/><circle cx="561.8" cy="754.5" r="2.9"/><circle cx="563.7" cy="755.9" r="2.9"/><circle cx="565.8" cy="756.8" r="2.9"/><circle cx="568.2" cy="757.7" r="2.9"/><circle cx="570.1" cy="758.3" r="2.9"/><circle cx="537.7" cy="747.5" r="2.9"/><circle cx="539.9" cy="748.6" r="2.9"/><circle cx="541.8" cy="749.2" r="2.9"/><circle cx="543.9" cy="750.3" r="2.9"/><circle cx="546.1" cy="751.1" r="2.9"/><circle cx="548.2" cy="752.3" r="2.9"/><circle cx="549.9" cy="753.4" r="2.9"/><circle cx="552.2" cy="754.0" r="2.9"/><circle cx="554.2" cy="754.9" r="2.9"/><circle cx="556.6" cy="756.2" r="2.9"/><circle cx="558.5" cy="756.9" r="2.9"/><circle cx="560.6" cy="757.6" r="2.9"/><circle cx="562.9" cy="758.7" r="2.9"/><circle cx="564.5" cy="759.6" r="2.9"/><circle cx="566.8" cy="760.8" r="2.9"/><circle cx="568.8" cy="761.4" r="2.9"/><circle cx="532.8" cy="749.6" r="2.9"/><circle cx="535.2" cy="750.3" r="2.9"/><circle cx="537.4" cy="751.4" r="2.9"/><circle cx="539.5" cy="752.2" r="2.9"/><circle cx="541.0" cy="753.1" r="2.9"/><circle cx="543.1" cy="754.0" r="2.9"/><circle cx="545.8" cy="754.9" r="2.9"/><circle cx="547.7" cy="756.2" r="2.9"/><circle cx="549.8" cy="756.8" r="2.9"/><circle cx="551.8" cy="757.6" r="2.9"/><circle cx="554.0" cy="758.9" r="2.9"/><circle cx="555.8" cy="759.7" r="2.9"/><circle cx="558.3" cy="760.4" r="2.9"/><circle cx="560.0" cy="761.7" r="2.9"/><circle cx="562.4" cy="762.6" r="2.9"/><circle cx="564.4" cy="763.2" r="2.9"/><circle cx="533.8" cy="753.7" r="2.9"/><circle cx="536.2" cy="754.2" r="2.9"/><circle cx="537.8" cy="755.5" r="2.9"/><circle cx="540.4" cy="756.4" r="2.9"/><circle cx="542.2" cy="757.4" r="2.9"/><circle cx="544.6" cy="758.0" r="2.9"/><circle cx="546.2" cy="759.1" r="2.9"/><circle cx="548.7" cy="760.1" r="2.9"/><circle cx="550.6" cy="760.9" r="2.9"/><circle cx="552.5" cy="761.7" r="2.9"/><circle cx="554.8" cy="762.8" r="2.9"/><circle cx="557.0" cy="763.9" r="2.9"/><circle cx="558.9" cy="765.0" r="2.9"/><circle cx="561.0" cy="765.8" r="2.9"/><circle cx="530.3" cy="757.6" r="2.9"/><circle cx="532.4" cy="758.6" r="2.9"/><circle cx="534.6" cy="759.9" r="2.9"/><circle cx="537.0" cy="760.7" r="2.9"/><circle cx="538.8" cy="761.7" r="2.9"/><circle cx="540.9" cy="762.5" r="2.9"/><circle cx="543.1" cy="763.8" r="2.9"/><circle cx="545.4" cy="764.3" r="2.9"/><circle cx="547.6" cy="765.8" r="2.9"/><circle cx="531.0" cy="761.2" r="2.9"/><circle cx="533.3" cy="762.3" r="2.9"/><circle cx="535.1" cy="763.1" r="2.9"/><circle cx="537.1" cy="764.2" r="2.9"/><circle cx="539.2" cy="765.0" r="2.9"/><circle cx="541.2" cy="766.0" r="2.9"/><circle cx="528.6" cy="763.1" r="2.9"/><circle cx="531.0" cy="763.5" r="2.9"/><circle cx="532.8" cy="764.5" r="2.9"/><circle cx="560.8" cy="728.2" r="2.9"/><circle cx="563.7" cy="729.9" r="2.9"/><circle cx="566.5" cy="731.7" r="2.9"/><circle cx="569.4" cy="733.4" r="2.9"/><circle cx="572.3" cy="735.1" r="2.9"/><circle cx="575.2" cy="736.8" r="2.9"/><circle cx="578.0" cy="738.6" r="2.9"/><circle cx="580.9" cy="740.3" r="2.9"/><circle cx="552.7" cy="734.3" r="2.9"/><circle cx="555.6" cy="735.4" r="2.9"/><circle cx="558.6" cy="736.5" r="2.9"/><circle cx="561.5" cy="737.6" r="2.9"/><circle cx="564.5" cy="738.6" r="2.9"/><circle cx="567.4" cy="739.7" r="2.9"/><circle cx="570.4" cy="740.8" r="2.9"/><circle cx="573.3" cy="741.9" r="2.9"/><circle cx="576.3" cy="743.0" r="2.9"/><circle cx="579.2" cy="744.1" r="2.9"/><circle cx="582.2" cy="745.1" r="2.9"/><circle cx="585.1" cy="746.2" r="2.9"/><circle cx="588.1" cy="747.3" r="2.9"/><circle cx="591.0" cy="748.4" r="2.9"/><circle cx="575.0" cy="762.0" r="2.9"/><circle cx="580.0" cy="768.0" r="2.9"/><circle cx="585.0" cy="772.0" r="2.9"/><circle cx="590.0" cy="765.0" r="2.9"/><circle cx="588.0" cy="776.0" r="2.9"/><circle cx="592.0" cy="758.0" r="2.9"/><circle cx="522.5" cy="768.5" r="2.9"/><circle cx="526.0" cy="768.6" r="2.9"/><circle cx="529.6" cy="768.8" r="2.9"/><circle cx="533.1" cy="768.9" r="2.9"/><circle cx="536.6" cy="769.0" r="2.9"/><circle cx="540.1" cy="769.1" r="2.9"/><circle cx="543.7" cy="769.3" r="2.9"/><circle cx="547.2" cy="769.4" r="2.9"/><circle cx="550.7" cy="769.5" r="2.9"/><circle cx="554.3" cy="769.7" r="2.9"/><circle cx="557.8" cy="769.8" r="2.9"/><circle cx="569.1" cy="776.3" r="2.9"/><circle cx="571.1" cy="776.3" r="2.9"/><circle cx="573.1" cy="776.2" r="2.9"/><circle cx="575.2" cy="776.2" r="2.9"/><circle cx="577.2" cy="776.1" r="2.9"/><circle cx="579.2" cy="776.1" r="2.9"/><circle cx="569.1" cy="777.1" r="2.9"/><circle cx="571.1" cy="777.1" r="2.9"/><circle cx="573.1" cy="777.0" r="2.9"/><circle cx="575.2" cy="777.0" r="2.9"/><circle cx="577.2" cy="776.9" r="2.9"/><circle cx="579.2" cy="776.9" r="2.9"/><circle cx="662.0" cy="730.7" r="2.9"/><circle cx="674.8" cy="736.8" r="2.9"/><circle cx="687.0" cy="743.4" r="2.9"/><circle cx="700.0" cy="749.3" r="2.9"/><circle cx="657.6" cy="748.8" r="2.9"/><circle cx="668.1" cy="754.7" r="2.9"/><circle cx="684.6" cy="763.0" r="2.9"/><circle cx="695.6" cy="768.7" r="2.9"/><circle cx="655.9" cy="768.9" r="2.9"/><circle cx="665.7" cy="773.8" r="2.9"/><circle cx="677.2" cy="779.7" r="2.9"/><circle cx="685.8" cy="779.2" r="2.9"/><circle cx="687.0" cy="784.6" r="2.9"/><circle cx="700.5" cy="786.6" r="2.9"/><circle cx="699.3" cy="791.5" r="2.9"/><circle cx="661.3" cy="796.4" r="2.9"/><circle cx="709.1" cy="775.5" r="2.9"/><circle cx="725.0" cy="762.1" r="2.9"/><circle cx="738.0" cy="768.9" r="2.9"/><circle cx="734.8" cy="789.0" r="2.9"/><circle cx="703.4" cy="818.0" r="2.9"/><circle cx="715.2" cy="798.8" r="2.9"/><circle cx="717.7" cy="800.2" r="2.9"/><circle cx="720.1" cy="801.6" r="2.9"/><circle cx="722.6" cy="803.0" r="2.9"/><circle cx="725.0" cy="804.4" r="2.9"/><circle cx="727.5" cy="805.8" r="2.9"/><circle cx="729.9" cy="807.2" r="2.9"/><circle cx="732.4" cy="808.6" r="2.9"/><circle cx="600.0" cy="725.3" r="2.9"/><circle cx="606.9" cy="727.0" r="2.9"/><circle cx="600.0" cy="734.6" r="2.9"/><circle cx="606.1" cy="737.5" r="2.9"/><circle cx="600.0" cy="749.8" r="2.9"/><circle cx="609.8" cy="754.7" r="2.9"/><circle cx="630.6" cy="751.0" r="2.9"/><circle cx="634.3" cy="755.9" r="2.9"/><circle cx="642.9" cy="762.1" r="2.9"/><circle cx="642.9" cy="767.0" r="2.9"/><circle cx="619.1" cy="774.8" r="2.9"/><circle cx="602.5" cy="770.6" r="2.9"/><circle cx="623.3" cy="768.2" r="2.9"/><circle cx="626.4" cy="769.6" r="2.9"/><circle cx="629.6" cy="771.0" r="2.9"/><circle cx="632.7" cy="772.4" r="2.9"/><circle cx="635.9" cy="773.8" r="2.9"/><circle cx="639.0" cy="775.2" r="2.9"/><circle cx="642.2" cy="776.6" r="2.9"/><circle cx="645.3" cy="778.0" r="2.9"/><circle cx="595.0" cy="750.0" r="2.9"/><circle cx="600.0" cy="751.8" r="2.9"/><circle cx="605.0" cy="753.5" r="2.9"/><circle cx="610.0" cy="755.2" r="2.9"/><circle cx="615.0" cy="757.0" r="2.9"/></g>
<g fill="none" stroke="#ff2020" stroke-width="0.75"><rect x="65.5" y="222.5" width="6" height="6"/></g>
<g fill="none" stroke="#00b0f0" stroke-width="0.9"><circle cx="68.1" cy="244.2" r="2.9"/></g>
<text x="75.6" y="229.6">Test data set</text>
<text x="75.6" y="248.9">Trainning data set</text>
<g fill="none" stroke="#ff2020" stroke-width="0.75"><rect x="458.5" y="226.5" width="6" height="6"/></g>
<g fill="none" stroke="#00b0f0" stroke-width="0.9"><circle cx="461.6" cy="246.8" r="2.9"/></g>
<text x="469.3" y="234.3">Test data set</text>
<text x="469.3" y="250.6">Trainning data set</text>
<g fill="none" stroke="#ff2020" stroke-width="0.75"><rect x="268.5" y="525.5" width="6" height="6"/></g>
<g fill="none" stroke="#00b0f0" stroke-width="0.9"><circle cx="271.1" cy="545.7" r="2.9"/></g>
<text x="278.3" y="532.8">Test data set</text>
<text x="278.3" y="550.2">Trainning data set</text>
<g fill="none" stroke="#ff2020" stroke-width="0.75"><rect x="80.5" y="820.5" width="6" height="6"/></g>
<g fill="none" stroke="#00b0f0" stroke-width="0.9"><circle cx="83.4" cy="841.0" r="2.9"/></g>
<text x="91.0" y="828.5">Test data set</text>
<text x="91.0" y="845.7">Trainning data set</text>
<g fill="none" stroke="#ff2020" stroke-width="0.75"><rect x="652.5" y="623.5" width="6" height="6"/></g>
<g fill="none" stroke="#00b0f0" stroke-width="0.9"><circle cx="655.6" cy="643.4" r="2.9"/></g>
<text x="663.2" y="630.7">Test data set</text>
<text x="663.2" y="647.4">Trainning data set</text>
<rect x="70.8" y="16.0" width="307.90" height="240.80" fill="none" stroke="#000" stroke-width="1.3"/>
<rect x="467.2" y="16.1" width="305.10" height="240.60" fill="none" stroke="#000" stroke-width="1.3"/>
<rect x="253.8" y="315.0" width="323.20" height="241.30" fill="none" stroke="#000" stroke-width="1.3"/>
<rect x="71.0" y="615.0" width="302.50" height="240.60" fill="none" stroke="#000" stroke-width="1.3"/>
<rect x="460.6" y="615.0" width="314.80" height="240.60" fill="none" stroke="#000" stroke-width="1.3"/>
<text transform="translate(15.7,136.40) rotate(-90)" text-anchor="middle">Density deviation by AC model</text>
<text transform="translate(32.0,136.40) rotate(-90)" text-anchor="middle">(g/cm<tspan dy="-4.5" font-size="8.6">3</tspan><tspan dy="4.5">)</tspan></text>
<text transform="translate(413.0,136.40) rotate(-90)" text-anchor="middle">Refractive index deviation by AC</text>
<text transform="translate(429.2,136.40) rotate(-90)" text-anchor="middle">model</text>
<text transform="translate(216.0,435.65) rotate(-90)" text-anchor="middle">Heat capacity deviation by AC model</text>
<text transform="translate(232.0,435.65) rotate(-90)" text-anchor="middle">(J/mol.K)</text>
<text transform="translate(16.0,735.30) rotate(-90)" text-anchor="middle">Speed of sound deviation by AC model</text>
<text transform="translate(32.0,735.30) rotate(-90)" text-anchor="middle">(m/s)</text>
<text transform="translate(413.0,735.30) rotate(-90)" text-anchor="middle">Surface tension deviation by AC model</text>
<text transform="translate(429.0,735.30) rotate(-90)" text-anchor="middle">(mN/m)</text>
<text x="224.75" y="293.3" text-anchor="middle">Experimental density (g/cm<tspan dy="-4.5" font-size="8.6">3</tspan><tspan dy="4.5">)</tspan></text>
<text x="619.75" y="293.3" text-anchor="middle">Experimental refractive index</text>
<text x="415.40" y="593.2" text-anchor="middle">Experimental heat capacity (J/mol.K)</text>
<text x="222.25" y="892.5" text-anchor="middle">Experimental speed of sound (m/s)</text>
<text x="618.00" y="892.5" text-anchor="middle">Experimental surface tension (mN/m)</text>
</svg></body></html>
